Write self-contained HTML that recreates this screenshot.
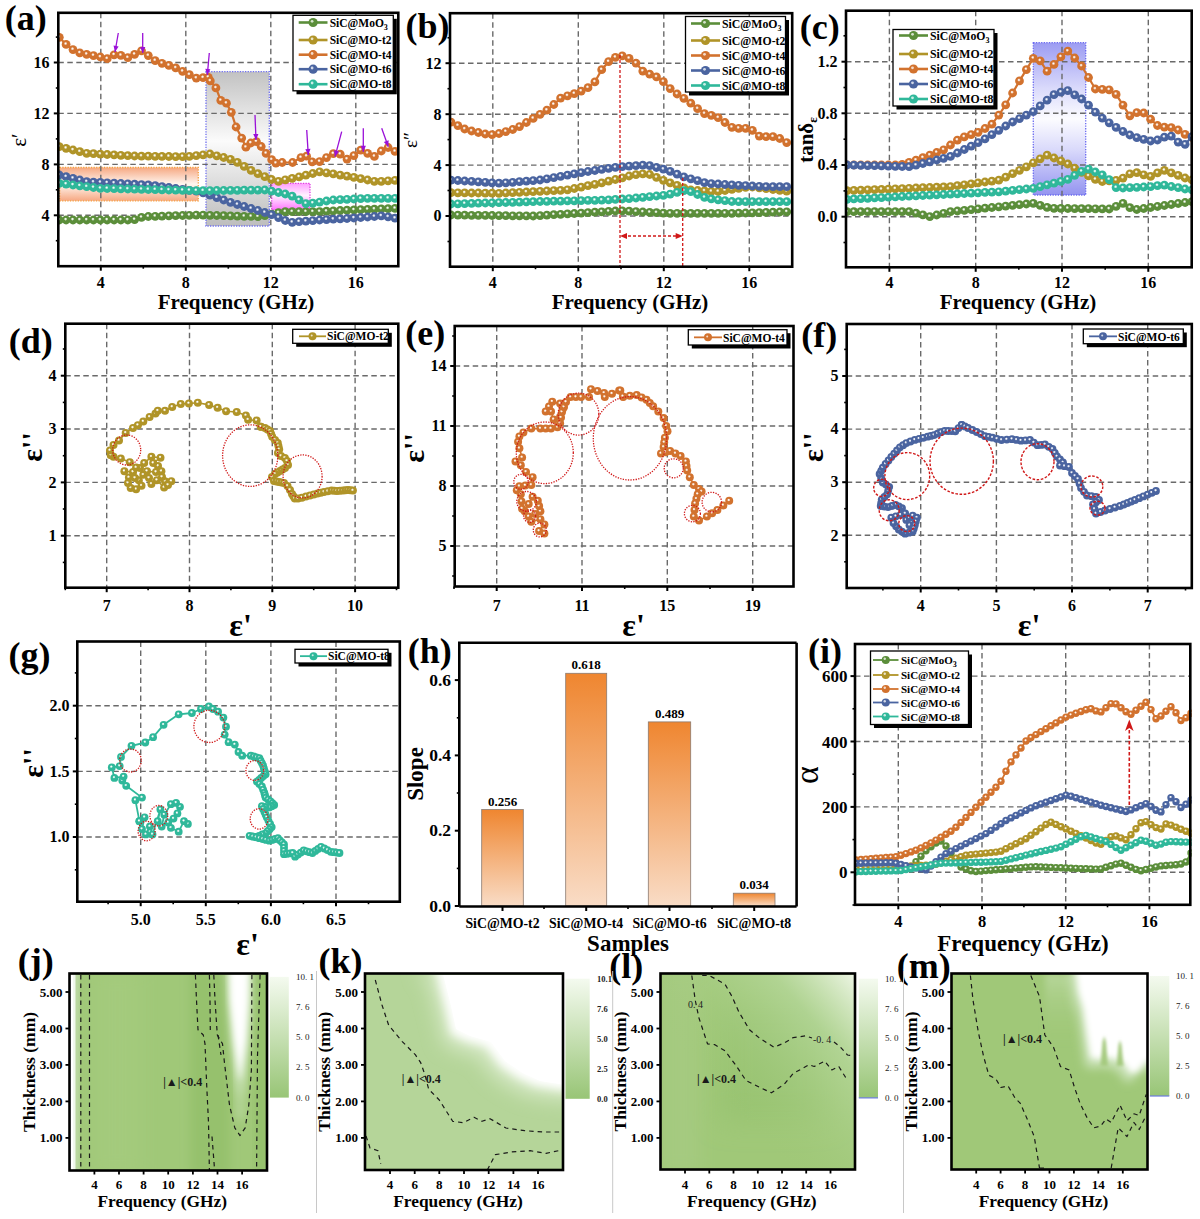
<!DOCTYPE html>
<html><head><meta charset="utf-8"><style>
html,body{margin:0;padding:0;background:#fff;}
svg{display:block;}
</style></head><body>
<svg width="1200" height="1219" viewBox="0 0 1200 1219">
<defs><radialGradient id="mg_g" cx="0.44" cy="0.4" r="0.58"><stop offset="0" stop-color="#ffffff"/><stop offset="0.1" stop-color="#ffffff" stop-opacity="0.85"/><stop offset="0.34" stop-color="#5b8e3a"/><stop offset="1" stop-color="#5b8e3a"/></radialGradient><radialGradient id="mg_y" cx="0.44" cy="0.4" r="0.58"><stop offset="0" stop-color="#ffffff"/><stop offset="0.1" stop-color="#ffffff" stop-opacity="0.85"/><stop offset="0.34" stop-color="#b09428"/><stop offset="1" stop-color="#b09428"/></radialGradient><radialGradient id="mg_o" cx="0.44" cy="0.4" r="0.58"><stop offset="0" stop-color="#ffffff"/><stop offset="0.1" stop-color="#ffffff" stop-opacity="0.85"/><stop offset="0.34" stop-color="#d2722e"/><stop offset="1" stop-color="#d2722e"/></radialGradient><radialGradient id="mg_b" cx="0.44" cy="0.4" r="0.58"><stop offset="0" stop-color="#ffffff"/><stop offset="0.1" stop-color="#ffffff" stop-opacity="0.85"/><stop offset="0.34" stop-color="#4a64a0"/><stop offset="1" stop-color="#4a64a0"/></radialGradient><radialGradient id="mg_t" cx="0.44" cy="0.4" r="0.58"><stop offset="0" stop-color="#ffffff"/><stop offset="0.1" stop-color="#ffffff" stop-opacity="0.85"/><stop offset="0.34" stop-color="#2fb89a"/><stop offset="1" stop-color="#2fb89a"/></radialGradient></defs>
<rect width="1200" height="1219" fill="#fff"/>
<defs>
<linearGradient id="gOrange" x1="0" y1="0" x2="0" y2="1"><stop offset="0" stop-color="#f6a882"/><stop offset="0.5" stop-color="#fff6f0"/><stop offset="1" stop-color="#f6a882"/></linearGradient>
<linearGradient id="gGray" x1="0" y1="0" x2="0" y2="1"><stop offset="0" stop-color="#c2c2c2"/><stop offset="0.45" stop-color="#fbfbfb"/><stop offset="1" stop-color="#bdbdbd"/></linearGradient>
<linearGradient id="gPink" x1="0" y1="0" x2="0" y2="1"><stop offset="0" stop-color="#ff9cff"/><stop offset="0.45" stop-color="#fff2ff"/><stop offset="1" stop-color="#ff74ff"/></linearGradient>
<linearGradient id="gBlue" x1="0" y1="0" x2="0" y2="1"><stop offset="0" stop-color="#9c9cf2"/><stop offset="0.3" stop-color="#dadafb"/><stop offset="0.5" stop-color="#fcfcff"/><stop offset="0.7" stop-color="#dadafb"/><stop offset="1" stop-color="#9494f0"/></linearGradient>
<linearGradient id="gBar" x1="0" y1="0" x2="0" y2="1"><stop offset="0" stop-color="#ef8630"/><stop offset="1" stop-color="#f9dcc6"/></linearGradient>
<linearGradient id="gCbar" x1="0" y1="0" x2="0" y2="1"><stop offset="0" stop-color="#f4faef"/><stop offset="1" stop-color="#98c576"/></linearGradient>
<clipPath id="cpA"><rect x="58.5" y="13" width="340" height="253"/></clipPath>
<clipPath id="cpB"><rect x="450" y="14" width="341" height="252.5"/></clipPath>
<clipPath id="cpC"><rect x="846" y="10.7" width="345.7" height="256"/></clipPath>
<clipPath id="cpI"><rect x="855" y="644" width="336.7" height="261"/></clipPath>
</defs>
<rect x="59.7" y="167.5" width="138.6" height="33.3" fill="url(#gOrange)" stroke="#f5a040" stroke-width="1.3" stroke-dasharray="1.3,1.3"/>
<rect x="206" y="71.7" width="63.3" height="154.3" fill="url(#gGray)" stroke="#7070f0" stroke-width="1.3" stroke-dasharray="1.3,1.3"/>
<rect x="271.7" y="183.3" width="38.3" height="26.7" fill="url(#gPink)" stroke="#e040e0" stroke-width="1.3" stroke-dasharray="1.3,1.3"/>
<line x1="100.8" y1="12.8" x2="100.8" y2="266.2" stroke="#6a6a6a" stroke-width="1.4" stroke-dasharray="5.5,3.5"/>
<line x1="185.8" y1="12.8" x2="185.8" y2="266.2" stroke="#6a6a6a" stroke-width="1.4" stroke-dasharray="5.5,3.5"/>
<line x1="270.8" y1="12.8" x2="270.8" y2="266.2" stroke="#6a6a6a" stroke-width="1.4" stroke-dasharray="5.5,3.5"/>
<line x1="355.8" y1="12.8" x2="355.8" y2="266.2" stroke="#6a6a6a" stroke-width="1.4" stroke-dasharray="5.5,3.5"/>
<line x1="58.3" y1="215.3" x2="398.3" y2="215.3" stroke="#6a6a6a" stroke-width="1.4" stroke-dasharray="5.5,3.5"/>
<line x1="58.3" y1="164.4" x2="398.3" y2="164.4" stroke="#6a6a6a" stroke-width="1.4" stroke-dasharray="5.5,3.5"/>
<line x1="58.3" y1="113.4" x2="398.3" y2="113.4" stroke="#6a6a6a" stroke-width="1.4" stroke-dasharray="5.5,3.5"/>
<line x1="58.3" y1="62.5" x2="398.3" y2="62.5" stroke="#6a6a6a" stroke-width="1.4" stroke-dasharray="5.5,3.5"/>
<g clip-path="url(#cpA)">
<path d="M59.3,220.0 L66.1,220.0 L73.0,220.0 L79.8,220.0 L86.7,220.0 L93.5,220.0 L100.4,220.0 L107.2,220.0 L114.1,220.0 L120.9,220.0 L127.8,220.0 L134.6,219.6 L141.5,217.3 L148.3,216.5 L155.2,216.3 L162.0,216.1 L168.9,215.9 L175.7,215.7 L182.6,215.5 L189.4,215.3 L196.3,215.1 L203.1,215.1 L210.0,215.3 L216.8,215.5 L223.7,215.7 L230.5,215.9 L237.4,216.1 L244.2,216.3 L251.1,216.4 L257.9,216.6 L264.8,215.7 L271.6,214.2 L278.5,212.7 L285.3,211.7 L292.2,211.7 L299.1,211.7 L305.9,211.7 L312.8,211.7 L319.6,211.6 L326.5,211.2 L333.3,210.9 L340.2,210.5 L347.0,210.2 L353.9,209.9 L360.7,209.6 L367.6,209.4 L374.4,209.1 L381.3,208.9 L388.1,208.7 L395.0,208.4" fill="none" stroke="#5b8e3a" stroke-width="2.2"/>
<circle cx="59.3" cy="220.0" r="4.4" fill="url(#mg_g)"/>
<circle cx="66.1" cy="220.0" r="4.4" fill="url(#mg_g)"/>
<circle cx="73.0" cy="220.0" r="4.4" fill="url(#mg_g)"/>
<circle cx="79.8" cy="220.0" r="4.4" fill="url(#mg_g)"/>
<circle cx="86.7" cy="220.0" r="4.4" fill="url(#mg_g)"/>
<circle cx="93.5" cy="220.0" r="4.4" fill="url(#mg_g)"/>
<circle cx="100.4" cy="220.0" r="4.4" fill="url(#mg_g)"/>
<circle cx="107.2" cy="220.0" r="4.4" fill="url(#mg_g)"/>
<circle cx="114.1" cy="220.0" r="4.4" fill="url(#mg_g)"/>
<circle cx="120.9" cy="220.0" r="4.4" fill="url(#mg_g)"/>
<circle cx="127.8" cy="220.0" r="4.4" fill="url(#mg_g)"/>
<circle cx="134.6" cy="219.6" r="4.4" fill="url(#mg_g)"/>
<circle cx="141.5" cy="217.3" r="4.4" fill="url(#mg_g)"/>
<circle cx="148.3" cy="216.5" r="4.4" fill="url(#mg_g)"/>
<circle cx="155.2" cy="216.3" r="4.4" fill="url(#mg_g)"/>
<circle cx="162.0" cy="216.1" r="4.4" fill="url(#mg_g)"/>
<circle cx="168.9" cy="215.9" r="4.4" fill="url(#mg_g)"/>
<circle cx="175.7" cy="215.7" r="4.4" fill="url(#mg_g)"/>
<circle cx="182.6" cy="215.5" r="4.4" fill="url(#mg_g)"/>
<circle cx="189.4" cy="215.3" r="4.4" fill="url(#mg_g)"/>
<circle cx="196.3" cy="215.1" r="4.4" fill="url(#mg_g)"/>
<circle cx="203.1" cy="215.1" r="4.4" fill="url(#mg_g)"/>
<circle cx="210.0" cy="215.3" r="4.4" fill="url(#mg_g)"/>
<circle cx="216.8" cy="215.5" r="4.4" fill="url(#mg_g)"/>
<circle cx="223.7" cy="215.7" r="4.4" fill="url(#mg_g)"/>
<circle cx="230.5" cy="215.9" r="4.4" fill="url(#mg_g)"/>
<circle cx="237.4" cy="216.1" r="4.4" fill="url(#mg_g)"/>
<circle cx="244.2" cy="216.3" r="4.4" fill="url(#mg_g)"/>
<circle cx="251.1" cy="216.4" r="4.4" fill="url(#mg_g)"/>
<circle cx="257.9" cy="216.6" r="4.4" fill="url(#mg_g)"/>
<circle cx="264.8" cy="215.7" r="4.4" fill="url(#mg_g)"/>
<circle cx="271.6" cy="214.2" r="4.4" fill="url(#mg_g)"/>
<circle cx="278.5" cy="212.7" r="4.4" fill="url(#mg_g)"/>
<circle cx="285.3" cy="211.7" r="4.4" fill="url(#mg_g)"/>
<circle cx="292.2" cy="211.7" r="4.4" fill="url(#mg_g)"/>
<circle cx="299.1" cy="211.7" r="4.4" fill="url(#mg_g)"/>
<circle cx="305.9" cy="211.7" r="4.4" fill="url(#mg_g)"/>
<circle cx="312.8" cy="211.7" r="4.4" fill="url(#mg_g)"/>
<circle cx="319.6" cy="211.6" r="4.4" fill="url(#mg_g)"/>
<circle cx="326.5" cy="211.2" r="4.4" fill="url(#mg_g)"/>
<circle cx="333.3" cy="210.9" r="4.4" fill="url(#mg_g)"/>
<circle cx="340.2" cy="210.5" r="4.4" fill="url(#mg_g)"/>
<circle cx="347.0" cy="210.2" r="4.4" fill="url(#mg_g)"/>
<circle cx="353.9" cy="209.9" r="4.4" fill="url(#mg_g)"/>
<circle cx="360.7" cy="209.6" r="4.4" fill="url(#mg_g)"/>
<circle cx="367.6" cy="209.4" r="4.4" fill="url(#mg_g)"/>
<circle cx="374.4" cy="209.1" r="4.4" fill="url(#mg_g)"/>
<circle cx="381.3" cy="208.9" r="4.4" fill="url(#mg_g)"/>
<circle cx="388.1" cy="208.7" r="4.4" fill="url(#mg_g)"/>
<circle cx="395.0" cy="208.4" r="4.4" fill="url(#mg_g)"/>
</g>
<g clip-path="url(#cpA)">
<path d="M59.3,146.7 L66.1,148.3 L73.0,150.0 L79.8,151.7 L86.7,153.3 L93.5,153.7 L100.4,154.1 L107.2,154.5 L114.1,154.9 L120.9,155.3 L127.8,155.7 L134.6,156.0 L141.5,156.1 L148.3,156.2 L155.2,156.3 L162.0,156.4 L168.9,156.5 L175.7,156.6 L182.6,156.6 L189.4,156.4 L196.3,155.6 L203.1,154.8 L210.0,154.0 L216.8,155.8 L223.7,157.5 L230.5,159.3 L237.4,162.4 L244.2,166.4 L251.1,170.4 L257.9,173.7 L264.8,176.6 L271.6,179.5 L278.5,181.3 L285.3,179.8 L292.2,178.4 L299.1,176.9 L305.9,175.2 L312.8,173.5 L319.6,171.8 L326.5,172.8 L333.3,173.9 L340.2,175.1 L347.0,176.2 L353.9,177.4 L360.7,178.7 L367.6,180.0 L374.4,181.3 L381.3,181.3 L388.1,180.8 L395.0,180.3" fill="none" stroke="#b09428" stroke-width="2.2"/>
<circle cx="59.3" cy="146.7" r="4.4" fill="url(#mg_y)"/>
<circle cx="66.1" cy="148.3" r="4.4" fill="url(#mg_y)"/>
<circle cx="73.0" cy="150.0" r="4.4" fill="url(#mg_y)"/>
<circle cx="79.8" cy="151.7" r="4.4" fill="url(#mg_y)"/>
<circle cx="86.7" cy="153.3" r="4.4" fill="url(#mg_y)"/>
<circle cx="93.5" cy="153.7" r="4.4" fill="url(#mg_y)"/>
<circle cx="100.4" cy="154.1" r="4.4" fill="url(#mg_y)"/>
<circle cx="107.2" cy="154.5" r="4.4" fill="url(#mg_y)"/>
<circle cx="114.1" cy="154.9" r="4.4" fill="url(#mg_y)"/>
<circle cx="120.9" cy="155.3" r="4.4" fill="url(#mg_y)"/>
<circle cx="127.8" cy="155.7" r="4.4" fill="url(#mg_y)"/>
<circle cx="134.6" cy="156.0" r="4.4" fill="url(#mg_y)"/>
<circle cx="141.5" cy="156.1" r="4.4" fill="url(#mg_y)"/>
<circle cx="148.3" cy="156.2" r="4.4" fill="url(#mg_y)"/>
<circle cx="155.2" cy="156.3" r="4.4" fill="url(#mg_y)"/>
<circle cx="162.0" cy="156.4" r="4.4" fill="url(#mg_y)"/>
<circle cx="168.9" cy="156.5" r="4.4" fill="url(#mg_y)"/>
<circle cx="175.7" cy="156.6" r="4.4" fill="url(#mg_y)"/>
<circle cx="182.6" cy="156.6" r="4.4" fill="url(#mg_y)"/>
<circle cx="189.4" cy="156.4" r="4.4" fill="url(#mg_y)"/>
<circle cx="196.3" cy="155.6" r="4.4" fill="url(#mg_y)"/>
<circle cx="203.1" cy="154.8" r="4.4" fill="url(#mg_y)"/>
<circle cx="210.0" cy="154.0" r="4.4" fill="url(#mg_y)"/>
<circle cx="216.8" cy="155.8" r="4.4" fill="url(#mg_y)"/>
<circle cx="223.7" cy="157.5" r="4.4" fill="url(#mg_y)"/>
<circle cx="230.5" cy="159.3" r="4.4" fill="url(#mg_y)"/>
<circle cx="237.4" cy="162.4" r="4.4" fill="url(#mg_y)"/>
<circle cx="244.2" cy="166.4" r="4.4" fill="url(#mg_y)"/>
<circle cx="251.1" cy="170.4" r="4.4" fill="url(#mg_y)"/>
<circle cx="257.9" cy="173.7" r="4.4" fill="url(#mg_y)"/>
<circle cx="264.8" cy="176.6" r="4.4" fill="url(#mg_y)"/>
<circle cx="271.6" cy="179.5" r="4.4" fill="url(#mg_y)"/>
<circle cx="278.5" cy="181.3" r="4.4" fill="url(#mg_y)"/>
<circle cx="285.3" cy="179.8" r="4.4" fill="url(#mg_y)"/>
<circle cx="292.2" cy="178.4" r="4.4" fill="url(#mg_y)"/>
<circle cx="299.1" cy="176.9" r="4.4" fill="url(#mg_y)"/>
<circle cx="305.9" cy="175.2" r="4.4" fill="url(#mg_y)"/>
<circle cx="312.8" cy="173.5" r="4.4" fill="url(#mg_y)"/>
<circle cx="319.6" cy="171.8" r="4.4" fill="url(#mg_y)"/>
<circle cx="326.5" cy="172.8" r="4.4" fill="url(#mg_y)"/>
<circle cx="333.3" cy="173.9" r="4.4" fill="url(#mg_y)"/>
<circle cx="340.2" cy="175.1" r="4.4" fill="url(#mg_y)"/>
<circle cx="347.0" cy="176.2" r="4.4" fill="url(#mg_y)"/>
<circle cx="353.9" cy="177.4" r="4.4" fill="url(#mg_y)"/>
<circle cx="360.7" cy="178.7" r="4.4" fill="url(#mg_y)"/>
<circle cx="367.6" cy="180.0" r="4.4" fill="url(#mg_y)"/>
<circle cx="374.4" cy="181.3" r="4.4" fill="url(#mg_y)"/>
<circle cx="381.3" cy="181.3" r="4.4" fill="url(#mg_y)"/>
<circle cx="388.1" cy="180.8" r="4.4" fill="url(#mg_y)"/>
<circle cx="395.0" cy="180.3" r="4.4" fill="url(#mg_y)"/>
</g>
<g clip-path="url(#cpA)">
<path d="M59.3,37.3 L66.1,44.4 L73.0,49.6 L79.8,52.9 L86.7,54.3 L93.5,55.6 L100.4,57.0 L107.2,58.7 L114.1,54.8 L120.9,55.4 L127.8,57.7 L134.6,54.3 L141.5,50.8 L148.3,55.6 L155.2,60.6 L162.0,63.3 L168.9,65.4 L175.7,67.9 L182.6,71.3 L189.4,74.7 L196.3,78.1 L203.1,77.7 L208.3,77.3 L210.3,80.9 L215.9,87.9 L220.8,100.4 L226.4,103.2 L231.3,112.3 L236.1,127.0 L241.7,138.1 L245.9,147.2 L250.8,143.0 L256.4,141.6 L261.2,146.5 L266.1,153.4 L271.7,159.7 L275.9,163.2 L282.2,162.5 L292.6,162.5 L301.0,157.6 L306.6,156.2 L312.2,161.8 L319.6,161.6 L326.5,157.6 L333.3,153.7 L340.2,154.2 L347.0,159.1 L353.9,155.6 L360.7,150.1 L367.6,153.3 L374.4,156.4 L381.3,151.0 L388.1,147.5 L395.0,151.4" fill="none" stroke="#d2722e" stroke-width="2.2"/>
<circle cx="59.3" cy="37.3" r="4.4" fill="url(#mg_o)"/>
<circle cx="66.1" cy="44.4" r="4.4" fill="url(#mg_o)"/>
<circle cx="73.0" cy="49.6" r="4.4" fill="url(#mg_o)"/>
<circle cx="79.8" cy="52.9" r="4.4" fill="url(#mg_o)"/>
<circle cx="86.7" cy="54.3" r="4.4" fill="url(#mg_o)"/>
<circle cx="93.5" cy="55.6" r="4.4" fill="url(#mg_o)"/>
<circle cx="100.4" cy="57.0" r="4.4" fill="url(#mg_o)"/>
<circle cx="107.2" cy="58.7" r="4.4" fill="url(#mg_o)"/>
<circle cx="114.1" cy="54.8" r="4.4" fill="url(#mg_o)"/>
<circle cx="120.9" cy="55.4" r="4.4" fill="url(#mg_o)"/>
<circle cx="127.8" cy="57.7" r="4.4" fill="url(#mg_o)"/>
<circle cx="134.6" cy="54.3" r="4.4" fill="url(#mg_o)"/>
<circle cx="141.5" cy="50.8" r="4.4" fill="url(#mg_o)"/>
<circle cx="148.3" cy="55.6" r="4.4" fill="url(#mg_o)"/>
<circle cx="155.2" cy="60.6" r="4.4" fill="url(#mg_o)"/>
<circle cx="162.0" cy="63.3" r="4.4" fill="url(#mg_o)"/>
<circle cx="168.9" cy="65.4" r="4.4" fill="url(#mg_o)"/>
<circle cx="175.7" cy="67.9" r="4.4" fill="url(#mg_o)"/>
<circle cx="182.6" cy="71.3" r="4.4" fill="url(#mg_o)"/>
<circle cx="189.4" cy="74.7" r="4.4" fill="url(#mg_o)"/>
<circle cx="196.3" cy="78.1" r="4.4" fill="url(#mg_o)"/>
<circle cx="203.1" cy="77.7" r="4.4" fill="url(#mg_o)"/>
<circle cx="208.3" cy="77.3" r="4.4" fill="url(#mg_o)"/>
<circle cx="210.3" cy="80.9" r="4.4" fill="url(#mg_o)"/>
<circle cx="215.9" cy="87.9" r="4.4" fill="url(#mg_o)"/>
<circle cx="220.8" cy="100.4" r="4.4" fill="url(#mg_o)"/>
<circle cx="226.4" cy="103.2" r="4.4" fill="url(#mg_o)"/>
<circle cx="231.3" cy="112.3" r="4.4" fill="url(#mg_o)"/>
<circle cx="236.1" cy="127.0" r="4.4" fill="url(#mg_o)"/>
<circle cx="241.7" cy="138.1" r="4.4" fill="url(#mg_o)"/>
<circle cx="245.9" cy="147.2" r="4.4" fill="url(#mg_o)"/>
<circle cx="250.8" cy="143.0" r="4.4" fill="url(#mg_o)"/>
<circle cx="256.4" cy="141.6" r="4.4" fill="url(#mg_o)"/>
<circle cx="261.2" cy="146.5" r="4.4" fill="url(#mg_o)"/>
<circle cx="266.1" cy="153.4" r="4.4" fill="url(#mg_o)"/>
<circle cx="271.7" cy="159.7" r="4.4" fill="url(#mg_o)"/>
<circle cx="275.9" cy="163.2" r="4.4" fill="url(#mg_o)"/>
<circle cx="282.2" cy="162.5" r="4.4" fill="url(#mg_o)"/>
<circle cx="292.6" cy="162.5" r="4.4" fill="url(#mg_o)"/>
<circle cx="301.0" cy="157.6" r="4.4" fill="url(#mg_o)"/>
<circle cx="306.6" cy="156.2" r="4.4" fill="url(#mg_o)"/>
<circle cx="312.2" cy="161.8" r="4.4" fill="url(#mg_o)"/>
<circle cx="319.6" cy="161.6" r="4.4" fill="url(#mg_o)"/>
<circle cx="326.5" cy="157.6" r="4.4" fill="url(#mg_o)"/>
<circle cx="333.3" cy="153.7" r="4.4" fill="url(#mg_o)"/>
<circle cx="340.2" cy="154.2" r="4.4" fill="url(#mg_o)"/>
<circle cx="347.0" cy="159.1" r="4.4" fill="url(#mg_o)"/>
<circle cx="353.9" cy="155.6" r="4.4" fill="url(#mg_o)"/>
<circle cx="360.7" cy="150.1" r="4.4" fill="url(#mg_o)"/>
<circle cx="367.6" cy="153.3" r="4.4" fill="url(#mg_o)"/>
<circle cx="374.4" cy="156.4" r="4.4" fill="url(#mg_o)"/>
<circle cx="381.3" cy="151.0" r="4.4" fill="url(#mg_o)"/>
<circle cx="388.1" cy="147.5" r="4.4" fill="url(#mg_o)"/>
<circle cx="395.0" cy="151.4" r="4.4" fill="url(#mg_o)"/>
</g>
<g clip-path="url(#cpA)">
<path d="M59.3,175.0 L66.1,176.7 L73.0,178.3 L79.8,180.0 L86.7,181.7 L93.5,182.1 L100.4,182.4 L107.2,182.8 L114.1,183.1 L120.9,183.5 L127.8,183.8 L134.6,184.2 L141.5,184.6 L148.3,184.9 L155.2,185.7 L162.0,186.6 L168.9,187.5 L175.7,188.5 L182.6,189.4 L189.4,190.3 L196.3,191.2 L203.1,192.8 L210.0,195.2 L216.8,197.6 L223.7,200.0 L230.5,202.3 L237.4,204.5 L244.2,206.5 L251.1,208.5 L257.9,210.5 L264.8,212.5 L271.6,214.7 L278.5,217.6 L285.3,220.5 L292.2,222.3 L299.1,221.7 L305.9,221.2 L312.8,220.6 L319.6,220.0 L326.5,219.6 L333.3,219.2 L340.2,218.9 L347.0,218.5 L353.9,218.0 L360.7,217.5 L367.6,217.0 L374.4,216.5 L381.3,215.9 L388.1,216.8 L395.0,218.2" fill="none" stroke="#4a64a0" stroke-width="2.2"/>
<circle cx="59.3" cy="175.0" r="4.4" fill="url(#mg_b)"/>
<circle cx="66.1" cy="176.7" r="4.4" fill="url(#mg_b)"/>
<circle cx="73.0" cy="178.3" r="4.4" fill="url(#mg_b)"/>
<circle cx="79.8" cy="180.0" r="4.4" fill="url(#mg_b)"/>
<circle cx="86.7" cy="181.7" r="4.4" fill="url(#mg_b)"/>
<circle cx="93.5" cy="182.1" r="4.4" fill="url(#mg_b)"/>
<circle cx="100.4" cy="182.4" r="4.4" fill="url(#mg_b)"/>
<circle cx="107.2" cy="182.8" r="4.4" fill="url(#mg_b)"/>
<circle cx="114.1" cy="183.1" r="4.4" fill="url(#mg_b)"/>
<circle cx="120.9" cy="183.5" r="4.4" fill="url(#mg_b)"/>
<circle cx="127.8" cy="183.8" r="4.4" fill="url(#mg_b)"/>
<circle cx="134.6" cy="184.2" r="4.4" fill="url(#mg_b)"/>
<circle cx="141.5" cy="184.6" r="4.4" fill="url(#mg_b)"/>
<circle cx="148.3" cy="184.9" r="4.4" fill="url(#mg_b)"/>
<circle cx="155.2" cy="185.7" r="4.4" fill="url(#mg_b)"/>
<circle cx="162.0" cy="186.6" r="4.4" fill="url(#mg_b)"/>
<circle cx="168.9" cy="187.5" r="4.4" fill="url(#mg_b)"/>
<circle cx="175.7" cy="188.5" r="4.4" fill="url(#mg_b)"/>
<circle cx="182.6" cy="189.4" r="4.4" fill="url(#mg_b)"/>
<circle cx="189.4" cy="190.3" r="4.4" fill="url(#mg_b)"/>
<circle cx="196.3" cy="191.2" r="4.4" fill="url(#mg_b)"/>
<circle cx="203.1" cy="192.8" r="4.4" fill="url(#mg_b)"/>
<circle cx="210.0" cy="195.2" r="4.4" fill="url(#mg_b)"/>
<circle cx="216.8" cy="197.6" r="4.4" fill="url(#mg_b)"/>
<circle cx="223.7" cy="200.0" r="4.4" fill="url(#mg_b)"/>
<circle cx="230.5" cy="202.3" r="4.4" fill="url(#mg_b)"/>
<circle cx="237.4" cy="204.5" r="4.4" fill="url(#mg_b)"/>
<circle cx="244.2" cy="206.5" r="4.4" fill="url(#mg_b)"/>
<circle cx="251.1" cy="208.5" r="4.4" fill="url(#mg_b)"/>
<circle cx="257.9" cy="210.5" r="4.4" fill="url(#mg_b)"/>
<circle cx="264.8" cy="212.5" r="4.4" fill="url(#mg_b)"/>
<circle cx="271.6" cy="214.7" r="4.4" fill="url(#mg_b)"/>
<circle cx="278.5" cy="217.6" r="4.4" fill="url(#mg_b)"/>
<circle cx="285.3" cy="220.5" r="4.4" fill="url(#mg_b)"/>
<circle cx="292.2" cy="222.3" r="4.4" fill="url(#mg_b)"/>
<circle cx="299.1" cy="221.7" r="4.4" fill="url(#mg_b)"/>
<circle cx="305.9" cy="221.2" r="4.4" fill="url(#mg_b)"/>
<circle cx="312.8" cy="220.6" r="4.4" fill="url(#mg_b)"/>
<circle cx="319.6" cy="220.0" r="4.4" fill="url(#mg_b)"/>
<circle cx="326.5" cy="219.6" r="4.4" fill="url(#mg_b)"/>
<circle cx="333.3" cy="219.2" r="4.4" fill="url(#mg_b)"/>
<circle cx="340.2" cy="218.9" r="4.4" fill="url(#mg_b)"/>
<circle cx="347.0" cy="218.5" r="4.4" fill="url(#mg_b)"/>
<circle cx="353.9" cy="218.0" r="4.4" fill="url(#mg_b)"/>
<circle cx="360.7" cy="217.5" r="4.4" fill="url(#mg_b)"/>
<circle cx="367.6" cy="217.0" r="4.4" fill="url(#mg_b)"/>
<circle cx="374.4" cy="216.5" r="4.4" fill="url(#mg_b)"/>
<circle cx="381.3" cy="215.9" r="4.4" fill="url(#mg_b)"/>
<circle cx="388.1" cy="216.8" r="4.4" fill="url(#mg_b)"/>
<circle cx="395.0" cy="218.2" r="4.4" fill="url(#mg_b)"/>
</g>
<g clip-path="url(#cpA)">
<path d="M59.3,183.3 L66.1,184.1 L73.0,185.0 L79.8,185.8 L86.7,186.7 L93.5,187.5 L100.4,188.3 L107.2,188.5 L114.1,188.6 L120.9,188.8 L127.8,189.0 L134.6,189.1 L141.5,189.3 L148.3,189.5 L155.2,189.6 L162.0,189.8 L168.9,190.0 L175.7,190.1 L182.6,190.3 L189.4,190.4 L196.3,190.6 L203.1,190.7 L210.0,190.6 L216.8,190.5 L223.7,190.5 L230.5,190.4 L237.4,190.3 L244.2,190.2 L251.1,190.2 L257.9,190.1 L264.8,190.0 L271.6,191.1 L278.5,192.5 L285.3,194.0 L292.2,196.2 L299.1,199.9 L305.9,203.6 L312.8,203.1 L319.6,202.1 L326.5,201.0 L333.3,200.0 L340.2,199.7 L347.0,199.3 L353.9,199.0 L360.7,198.6 L367.6,198.3 L374.4,198.3 L381.3,198.3 L388.1,198.3 L395.0,198.3" fill="none" stroke="#2fb89a" stroke-width="2.2"/>
<circle cx="59.3" cy="183.3" r="4.4" fill="url(#mg_t)"/>
<circle cx="66.1" cy="184.1" r="4.4" fill="url(#mg_t)"/>
<circle cx="73.0" cy="185.0" r="4.4" fill="url(#mg_t)"/>
<circle cx="79.8" cy="185.8" r="4.4" fill="url(#mg_t)"/>
<circle cx="86.7" cy="186.7" r="4.4" fill="url(#mg_t)"/>
<circle cx="93.5" cy="187.5" r="4.4" fill="url(#mg_t)"/>
<circle cx="100.4" cy="188.3" r="4.4" fill="url(#mg_t)"/>
<circle cx="107.2" cy="188.5" r="4.4" fill="url(#mg_t)"/>
<circle cx="114.1" cy="188.6" r="4.4" fill="url(#mg_t)"/>
<circle cx="120.9" cy="188.8" r="4.4" fill="url(#mg_t)"/>
<circle cx="127.8" cy="189.0" r="4.4" fill="url(#mg_t)"/>
<circle cx="134.6" cy="189.1" r="4.4" fill="url(#mg_t)"/>
<circle cx="141.5" cy="189.3" r="4.4" fill="url(#mg_t)"/>
<circle cx="148.3" cy="189.5" r="4.4" fill="url(#mg_t)"/>
<circle cx="155.2" cy="189.6" r="4.4" fill="url(#mg_t)"/>
<circle cx="162.0" cy="189.8" r="4.4" fill="url(#mg_t)"/>
<circle cx="168.9" cy="190.0" r="4.4" fill="url(#mg_t)"/>
<circle cx="175.7" cy="190.1" r="4.4" fill="url(#mg_t)"/>
<circle cx="182.6" cy="190.3" r="4.4" fill="url(#mg_t)"/>
<circle cx="189.4" cy="190.4" r="4.4" fill="url(#mg_t)"/>
<circle cx="196.3" cy="190.6" r="4.4" fill="url(#mg_t)"/>
<circle cx="203.1" cy="190.7" r="4.4" fill="url(#mg_t)"/>
<circle cx="210.0" cy="190.6" r="4.4" fill="url(#mg_t)"/>
<circle cx="216.8" cy="190.5" r="4.4" fill="url(#mg_t)"/>
<circle cx="223.7" cy="190.5" r="4.4" fill="url(#mg_t)"/>
<circle cx="230.5" cy="190.4" r="4.4" fill="url(#mg_t)"/>
<circle cx="237.4" cy="190.3" r="4.4" fill="url(#mg_t)"/>
<circle cx="244.2" cy="190.2" r="4.4" fill="url(#mg_t)"/>
<circle cx="251.1" cy="190.2" r="4.4" fill="url(#mg_t)"/>
<circle cx="257.9" cy="190.1" r="4.4" fill="url(#mg_t)"/>
<circle cx="264.8" cy="190.0" r="4.4" fill="url(#mg_t)"/>
<circle cx="271.6" cy="191.1" r="4.4" fill="url(#mg_t)"/>
<circle cx="278.5" cy="192.5" r="4.4" fill="url(#mg_t)"/>
<circle cx="285.3" cy="194.0" r="4.4" fill="url(#mg_t)"/>
<circle cx="292.2" cy="196.2" r="4.4" fill="url(#mg_t)"/>
<circle cx="299.1" cy="199.9" r="4.4" fill="url(#mg_t)"/>
<circle cx="305.9" cy="203.6" r="4.4" fill="url(#mg_t)"/>
<circle cx="312.8" cy="203.1" r="4.4" fill="url(#mg_t)"/>
<circle cx="319.6" cy="202.1" r="4.4" fill="url(#mg_t)"/>
<circle cx="326.5" cy="201.0" r="4.4" fill="url(#mg_t)"/>
<circle cx="333.3" cy="200.0" r="4.4" fill="url(#mg_t)"/>
<circle cx="340.2" cy="199.7" r="4.4" fill="url(#mg_t)"/>
<circle cx="347.0" cy="199.3" r="4.4" fill="url(#mg_t)"/>
<circle cx="353.9" cy="199.0" r="4.4" fill="url(#mg_t)"/>
<circle cx="360.7" cy="198.6" r="4.4" fill="url(#mg_t)"/>
<circle cx="367.6" cy="198.3" r="4.4" fill="url(#mg_t)"/>
<circle cx="374.4" cy="198.3" r="4.4" fill="url(#mg_t)"/>
<circle cx="381.3" cy="198.3" r="4.4" fill="url(#mg_t)"/>
<circle cx="388.1" cy="198.3" r="4.4" fill="url(#mg_t)"/>
<circle cx="395.0" cy="198.3" r="4.4" fill="url(#mg_t)"/>
</g>
<line x1="118.3" y1="33" x2="115" y2="52" stroke="#9a10d8" stroke-width="1.3"/>
<polygon points="115.0,52.0 118.6,46.5 113.5,45.6" fill="#9a10d8"/>
<line x1="142.7" y1="33" x2="142.7" y2="53" stroke="#9a10d8" stroke-width="1.3"/>
<polygon points="142.7,53.0 145.3,47.0 140.1,47.0" fill="#9a10d8"/>
<line x1="209.3" y1="53" x2="207.3" y2="75" stroke="#9a10d8" stroke-width="1.3"/>
<polygon points="207.3,75.0 210.4,69.3 205.3,68.8" fill="#9a10d8"/>
<line x1="255" y1="115" x2="256" y2="140" stroke="#9a10d8" stroke-width="1.3"/>
<polygon points="256.0,140.0 258.4,133.9 253.2,134.1" fill="#9a10d8"/>
<line x1="306.7" y1="130" x2="308.3" y2="155" stroke="#9a10d8" stroke-width="1.3"/>
<polygon points="308.3,155.0 310.5,148.8 305.3,149.2" fill="#9a10d8"/>
<line x1="341.7" y1="131.7" x2="335" y2="156.7" stroke="#9a10d8" stroke-width="1.3"/>
<polygon points="335.0,156.7 339.1,151.6 334.0,150.2" fill="#9a10d8"/>
<line x1="363.3" y1="128.3" x2="363.3" y2="151.7" stroke="#9a10d8" stroke-width="1.3"/>
<polygon points="363.3,151.7 365.9,145.7 360.7,145.7" fill="#9a10d8"/>
<line x1="381.7" y1="128.3" x2="388.3" y2="146.7" stroke="#9a10d8" stroke-width="1.3"/>
<polygon points="388.3,146.7 388.7,140.2 383.8,141.9" fill="#9a10d8"/>
<rect x="58.3" y="12.8" width="340.0" height="253.39999999999998" fill="none" stroke="#000" stroke-width="2.6"/>
<line x1="100.8" y1="266.2" x2="100.8" y2="270.7" stroke="#000" stroke-width="2"/>
<text x="100.8" y="288.0" font-family='"Liberation Serif", serif' font-size="16" font-weight="bold" text-anchor="middle" fill="#000">4</text>
<line x1="185.8" y1="266.2" x2="185.8" y2="270.7" stroke="#000" stroke-width="2"/>
<text x="185.8" y="288.0" font-family='"Liberation Serif", serif' font-size="16" font-weight="bold" text-anchor="middle" fill="#000">8</text>
<line x1="270.8" y1="266.2" x2="270.8" y2="270.7" stroke="#000" stroke-width="2"/>
<text x="270.8" y="288.0" font-family='"Liberation Serif", serif' font-size="16" font-weight="bold" text-anchor="middle" fill="#000">12</text>
<line x1="355.8" y1="266.2" x2="355.8" y2="270.7" stroke="#000" stroke-width="2"/>
<text x="355.8" y="288.0" font-family='"Liberation Serif", serif' font-size="16" font-weight="bold" text-anchor="middle" fill="#000">16</text>
<line x1="143.3" y1="266.2" x2="143.3" y2="268.7" stroke="#000" stroke-width="1.6"/>
<line x1="228.3" y1="266.2" x2="228.3" y2="268.7" stroke="#000" stroke-width="1.6"/>
<line x1="313.3" y1="266.2" x2="313.3" y2="268.7" stroke="#000" stroke-width="1.6"/>
<line x1="53.8" y1="215.3" x2="58.3" y2="215.3" stroke="#000" stroke-width="2"/>
<text x="49.5" y="220.7" font-family='"Liberation Serif", serif' font-size="16" font-weight="bold" text-anchor="end" fill="#000">4</text>
<line x1="53.8" y1="164.4" x2="58.3" y2="164.4" stroke="#000" stroke-width="2"/>
<text x="49.5" y="169.8" font-family='"Liberation Serif", serif' font-size="16" font-weight="bold" text-anchor="end" fill="#000">8</text>
<line x1="53.8" y1="113.4" x2="58.3" y2="113.4" stroke="#000" stroke-width="2"/>
<text x="49.5" y="118.8" font-family='"Liberation Serif", serif' font-size="16" font-weight="bold" text-anchor="end" fill="#000">12</text>
<line x1="53.8" y1="62.5" x2="58.3" y2="62.5" stroke="#000" stroke-width="2"/>
<text x="49.5" y="67.9" font-family='"Liberation Serif", serif' font-size="16" font-weight="bold" text-anchor="end" fill="#000">16</text>
<line x1="55.8" y1="240.7" x2="58.3" y2="240.7" stroke="#000" stroke-width="1.6"/>
<line x1="55.8" y1="189.8" x2="58.3" y2="189.8" stroke="#000" stroke-width="1.6"/>
<line x1="55.8" y1="138.9" x2="58.3" y2="138.9" stroke="#000" stroke-width="1.6"/>
<line x1="55.8" y1="88.0" x2="58.3" y2="88.0" stroke="#000" stroke-width="1.6"/>
<line x1="55.8" y1="37.1" x2="58.3" y2="37.1" stroke="#000" stroke-width="1.6"/>
<text x="236.0" y="309.0" font-family='"Liberation Serif", serif' font-size="21" font-weight="bold" text-anchor="middle" fill="#000">Frequency (GHz)</text>
<text x="26.0" y="140.0" font-family='"Liberation Serif", serif' font-size="21" font-weight="normal" text-anchor="middle" fill="#000" transform="rotate(-90 26 140)">ε′</text>
<text x="25.8" y="30.0" font-family='"Liberation Serif", serif' font-size="36" font-weight="bold" text-anchor="middle" fill="#000">(a)</text>
<rect x="296.5" y="18.8" width="100.30000000000001" height="75.5" fill="#000"/>
<rect x="293" y="15.3" width="100.30000000000001" height="75.5" fill="#fff" stroke="#000" stroke-width="1.3"/>
<line x1="298.7" y1="22.5" x2="327.5" y2="22.5" stroke="#5b8e3a" stroke-width="2.6"/>
<circle cx="313.1" cy="22.5" r="4.6" fill="#5b8e3a"/>
<circle cx="312.1" cy="21.3" r="1.38" fill="#fff" fill-opacity="0.75"/>
<text x="329.7" y="26.6" font-family='"Liberation Serif", serif' font-size="11.5" font-weight="bold" text-anchor="start" fill="#000">SiC@MoO<tspan font-size="8" dy="3">3</tspan></text>
<line x1="298.7" y1="40" x2="327.5" y2="40" stroke="#b09428" stroke-width="2.6"/>
<circle cx="313.1" cy="40" r="4.6" fill="#b09428"/>
<circle cx="312.1" cy="38.8" r="1.38" fill="#fff" fill-opacity="0.75"/>
<text x="329.7" y="44.1" font-family='"Liberation Serif", serif' font-size="11.5" font-weight="bold" text-anchor="start" fill="#000">SiC@MO-t2</text>
<line x1="298.7" y1="54.7" x2="327.5" y2="54.7" stroke="#d2722e" stroke-width="2.6"/>
<circle cx="313.1" cy="54.7" r="4.6" fill="#d2722e"/>
<circle cx="312.1" cy="53.5" r="1.38" fill="#fff" fill-opacity="0.75"/>
<text x="329.7" y="58.8" font-family='"Liberation Serif", serif' font-size="11.5" font-weight="bold" text-anchor="start" fill="#000">SiC@MO-t4</text>
<line x1="298.7" y1="69.2" x2="327.5" y2="69.2" stroke="#4a64a0" stroke-width="2.6"/>
<circle cx="313.1" cy="69.2" r="4.6" fill="#4a64a0"/>
<circle cx="312.1" cy="68.0" r="1.38" fill="#fff" fill-opacity="0.75"/>
<text x="329.7" y="73.3" font-family='"Liberation Serif", serif' font-size="11.5" font-weight="bold" text-anchor="start" fill="#000">SiC@MO-t6</text>
<line x1="298.7" y1="84.2" x2="327.5" y2="84.2" stroke="#2fb89a" stroke-width="2.6"/>
<circle cx="313.1" cy="84.2" r="4.6" fill="#2fb89a"/>
<circle cx="312.1" cy="83.0" r="1.38" fill="#fff" fill-opacity="0.75"/>
<text x="329.7" y="88.3" font-family='"Liberation Serif", serif' font-size="11.5" font-weight="bold" text-anchor="start" fill="#000">SiC@MO-t8</text>
<line x1="492.8" y1="13.2" x2="492.8" y2="266.7" stroke="#6a6a6a" stroke-width="1.4" stroke-dasharray="5.5,3.5"/>
<line x1="578.3" y1="13.2" x2="578.3" y2="266.7" stroke="#6a6a6a" stroke-width="1.4" stroke-dasharray="5.5,3.5"/>
<line x1="663.8" y1="13.2" x2="663.8" y2="266.7" stroke="#6a6a6a" stroke-width="1.4" stroke-dasharray="5.5,3.5"/>
<line x1="749.3" y1="13.2" x2="749.3" y2="266.7" stroke="#6a6a6a" stroke-width="1.4" stroke-dasharray="5.5,3.5"/>
<line x1="450" y1="216.0" x2="792.2" y2="216.0" stroke="#6a6a6a" stroke-width="1.4" stroke-dasharray="5.5,3.5"/>
<line x1="450" y1="165.1" x2="792.2" y2="165.1" stroke="#6a6a6a" stroke-width="1.4" stroke-dasharray="5.5,3.5"/>
<line x1="450" y1="114.2" x2="792.2" y2="114.2" stroke="#6a6a6a" stroke-width="1.4" stroke-dasharray="5.5,3.5"/>
<line x1="450" y1="63.2" x2="792.2" y2="63.2" stroke="#6a6a6a" stroke-width="1.4" stroke-dasharray="5.5,3.5"/>
<g clip-path="url(#cpB)">
<path d="M451.0,215.0 L457.9,215.1 L464.7,215.2 L471.6,215.3 L478.4,215.3 L485.3,215.4 L492.1,215.5 L499.0,215.6 L505.8,215.7 L512.7,215.8 L519.5,215.8 L526.4,215.9 L533.2,216.0 L540.1,215.6 L546.9,215.2 L553.8,214.7 L560.6,214.3 L567.5,213.9 L574.3,213.5 L581.2,213.1 L588.0,212.7 L594.9,212.2 L601.7,211.8 L608.6,211.4 L615.4,211.0 L622.3,210.8 L629.1,211.2 L636.0,211.6 L642.8,212.0 L649.7,212.4 L656.5,212.7 L663.4,213.1 L670.2,213.3 L677.1,213.3 L683.9,213.3 L690.8,213.3 L697.6,213.3 L704.5,213.3 L711.3,213.3 L718.2,213.3 L725.0,213.3 L731.9,213.3 L738.7,213.1 L745.6,213.0 L752.4,212.8 L759.3,212.6 L766.1,212.4 L773.0,212.2 L779.8,212.0 L786.7,211.8" fill="none" stroke="#5b8e3a" stroke-width="2.2"/>
<circle cx="451.0" cy="215.0" r="4.4" fill="url(#mg_g)"/>
<circle cx="457.9" cy="215.1" r="4.4" fill="url(#mg_g)"/>
<circle cx="464.7" cy="215.2" r="4.4" fill="url(#mg_g)"/>
<circle cx="471.6" cy="215.3" r="4.4" fill="url(#mg_g)"/>
<circle cx="478.4" cy="215.3" r="4.4" fill="url(#mg_g)"/>
<circle cx="485.3" cy="215.4" r="4.4" fill="url(#mg_g)"/>
<circle cx="492.1" cy="215.5" r="4.4" fill="url(#mg_g)"/>
<circle cx="499.0" cy="215.6" r="4.4" fill="url(#mg_g)"/>
<circle cx="505.8" cy="215.7" r="4.4" fill="url(#mg_g)"/>
<circle cx="512.7" cy="215.8" r="4.4" fill="url(#mg_g)"/>
<circle cx="519.5" cy="215.8" r="4.4" fill="url(#mg_g)"/>
<circle cx="526.4" cy="215.9" r="4.4" fill="url(#mg_g)"/>
<circle cx="533.2" cy="216.0" r="4.4" fill="url(#mg_g)"/>
<circle cx="540.1" cy="215.6" r="4.4" fill="url(#mg_g)"/>
<circle cx="546.9" cy="215.2" r="4.4" fill="url(#mg_g)"/>
<circle cx="553.8" cy="214.7" r="4.4" fill="url(#mg_g)"/>
<circle cx="560.6" cy="214.3" r="4.4" fill="url(#mg_g)"/>
<circle cx="567.5" cy="213.9" r="4.4" fill="url(#mg_g)"/>
<circle cx="574.3" cy="213.5" r="4.4" fill="url(#mg_g)"/>
<circle cx="581.2" cy="213.1" r="4.4" fill="url(#mg_g)"/>
<circle cx="588.0" cy="212.7" r="4.4" fill="url(#mg_g)"/>
<circle cx="594.9" cy="212.2" r="4.4" fill="url(#mg_g)"/>
<circle cx="601.7" cy="211.8" r="4.4" fill="url(#mg_g)"/>
<circle cx="608.6" cy="211.4" r="4.4" fill="url(#mg_g)"/>
<circle cx="615.4" cy="211.0" r="4.4" fill="url(#mg_g)"/>
<circle cx="622.3" cy="210.8" r="4.4" fill="url(#mg_g)"/>
<circle cx="629.1" cy="211.2" r="4.4" fill="url(#mg_g)"/>
<circle cx="636.0" cy="211.6" r="4.4" fill="url(#mg_g)"/>
<circle cx="642.8" cy="212.0" r="4.4" fill="url(#mg_g)"/>
<circle cx="649.7" cy="212.4" r="4.4" fill="url(#mg_g)"/>
<circle cx="656.5" cy="212.7" r="4.4" fill="url(#mg_g)"/>
<circle cx="663.4" cy="213.1" r="4.4" fill="url(#mg_g)"/>
<circle cx="670.2" cy="213.3" r="4.4" fill="url(#mg_g)"/>
<circle cx="677.1" cy="213.3" r="4.4" fill="url(#mg_g)"/>
<circle cx="683.9" cy="213.3" r="4.4" fill="url(#mg_g)"/>
<circle cx="690.8" cy="213.3" r="4.4" fill="url(#mg_g)"/>
<circle cx="697.6" cy="213.3" r="4.4" fill="url(#mg_g)"/>
<circle cx="704.5" cy="213.3" r="4.4" fill="url(#mg_g)"/>
<circle cx="711.3" cy="213.3" r="4.4" fill="url(#mg_g)"/>
<circle cx="718.2" cy="213.3" r="4.4" fill="url(#mg_g)"/>
<circle cx="725.0" cy="213.3" r="4.4" fill="url(#mg_g)"/>
<circle cx="731.9" cy="213.3" r="4.4" fill="url(#mg_g)"/>
<circle cx="738.7" cy="213.1" r="4.4" fill="url(#mg_g)"/>
<circle cx="745.6" cy="213.0" r="4.4" fill="url(#mg_g)"/>
<circle cx="752.4" cy="212.8" r="4.4" fill="url(#mg_g)"/>
<circle cx="759.3" cy="212.6" r="4.4" fill="url(#mg_g)"/>
<circle cx="766.1" cy="212.4" r="4.4" fill="url(#mg_g)"/>
<circle cx="773.0" cy="212.2" r="4.4" fill="url(#mg_g)"/>
<circle cx="779.8" cy="212.0" r="4.4" fill="url(#mg_g)"/>
<circle cx="786.7" cy="211.8" r="4.4" fill="url(#mg_g)"/>
</g>
<g clip-path="url(#cpB)">
<path d="M451.0,192.7 L457.9,192.8 L464.7,192.9 L471.6,193.0 L478.4,193.0 L485.3,193.1 L492.1,193.2 L499.0,193.3 L505.8,193.0 L512.7,192.7 L519.5,192.3 L526.4,192.0 L533.2,191.7 L540.1,191.3 L546.9,191.0 L553.8,190.6 L560.6,190.3 L567.5,189.8 L574.3,188.5 L581.2,187.1 L588.0,185.7 L594.9,184.3 L601.7,182.9 L608.6,181.2 L615.4,179.5 L622.3,177.8 L629.1,176.0 L636.0,174.7 L642.8,173.8 L649.7,174.5 L656.5,177.4 L663.4,180.3 L670.2,182.9 L677.1,185.4 L683.9,187.8 L690.8,190.0 L697.6,190.5 L704.5,190.9 L711.3,191.4 L718.2,191.5 L725.0,190.5 L731.9,189.4 L738.7,188.4 L745.6,187.4 L752.4,187.0 L759.3,187.8 L766.1,188.7 L773.0,189.5 L779.8,190.4 L786.7,191.2" fill="none" stroke="#b09428" stroke-width="2.2"/>
<circle cx="451.0" cy="192.7" r="4.4" fill="url(#mg_y)"/>
<circle cx="457.9" cy="192.8" r="4.4" fill="url(#mg_y)"/>
<circle cx="464.7" cy="192.9" r="4.4" fill="url(#mg_y)"/>
<circle cx="471.6" cy="193.0" r="4.4" fill="url(#mg_y)"/>
<circle cx="478.4" cy="193.0" r="4.4" fill="url(#mg_y)"/>
<circle cx="485.3" cy="193.1" r="4.4" fill="url(#mg_y)"/>
<circle cx="492.1" cy="193.2" r="4.4" fill="url(#mg_y)"/>
<circle cx="499.0" cy="193.3" r="4.4" fill="url(#mg_y)"/>
<circle cx="505.8" cy="193.0" r="4.4" fill="url(#mg_y)"/>
<circle cx="512.7" cy="192.7" r="4.4" fill="url(#mg_y)"/>
<circle cx="519.5" cy="192.3" r="4.4" fill="url(#mg_y)"/>
<circle cx="526.4" cy="192.0" r="4.4" fill="url(#mg_y)"/>
<circle cx="533.2" cy="191.7" r="4.4" fill="url(#mg_y)"/>
<circle cx="540.1" cy="191.3" r="4.4" fill="url(#mg_y)"/>
<circle cx="546.9" cy="191.0" r="4.4" fill="url(#mg_y)"/>
<circle cx="553.8" cy="190.6" r="4.4" fill="url(#mg_y)"/>
<circle cx="560.6" cy="190.3" r="4.4" fill="url(#mg_y)"/>
<circle cx="567.5" cy="189.8" r="4.4" fill="url(#mg_y)"/>
<circle cx="574.3" cy="188.5" r="4.4" fill="url(#mg_y)"/>
<circle cx="581.2" cy="187.1" r="4.4" fill="url(#mg_y)"/>
<circle cx="588.0" cy="185.7" r="4.4" fill="url(#mg_y)"/>
<circle cx="594.9" cy="184.3" r="4.4" fill="url(#mg_y)"/>
<circle cx="601.7" cy="182.9" r="4.4" fill="url(#mg_y)"/>
<circle cx="608.6" cy="181.2" r="4.4" fill="url(#mg_y)"/>
<circle cx="615.4" cy="179.5" r="4.4" fill="url(#mg_y)"/>
<circle cx="622.3" cy="177.8" r="4.4" fill="url(#mg_y)"/>
<circle cx="629.1" cy="176.0" r="4.4" fill="url(#mg_y)"/>
<circle cx="636.0" cy="174.7" r="4.4" fill="url(#mg_y)"/>
<circle cx="642.8" cy="173.8" r="4.4" fill="url(#mg_y)"/>
<circle cx="649.7" cy="174.5" r="4.4" fill="url(#mg_y)"/>
<circle cx="656.5" cy="177.4" r="4.4" fill="url(#mg_y)"/>
<circle cx="663.4" cy="180.3" r="4.4" fill="url(#mg_y)"/>
<circle cx="670.2" cy="182.9" r="4.4" fill="url(#mg_y)"/>
<circle cx="677.1" cy="185.4" r="4.4" fill="url(#mg_y)"/>
<circle cx="683.9" cy="187.8" r="4.4" fill="url(#mg_y)"/>
<circle cx="690.8" cy="190.0" r="4.4" fill="url(#mg_y)"/>
<circle cx="697.6" cy="190.5" r="4.4" fill="url(#mg_y)"/>
<circle cx="704.5" cy="190.9" r="4.4" fill="url(#mg_y)"/>
<circle cx="711.3" cy="191.4" r="4.4" fill="url(#mg_y)"/>
<circle cx="718.2" cy="191.5" r="4.4" fill="url(#mg_y)"/>
<circle cx="725.0" cy="190.5" r="4.4" fill="url(#mg_y)"/>
<circle cx="731.9" cy="189.4" r="4.4" fill="url(#mg_y)"/>
<circle cx="738.7" cy="188.4" r="4.4" fill="url(#mg_y)"/>
<circle cx="745.6" cy="187.4" r="4.4" fill="url(#mg_y)"/>
<circle cx="752.4" cy="187.0" r="4.4" fill="url(#mg_y)"/>
<circle cx="759.3" cy="187.8" r="4.4" fill="url(#mg_y)"/>
<circle cx="766.1" cy="188.7" r="4.4" fill="url(#mg_y)"/>
<circle cx="773.0" cy="189.5" r="4.4" fill="url(#mg_y)"/>
<circle cx="779.8" cy="190.4" r="4.4" fill="url(#mg_y)"/>
<circle cx="786.7" cy="191.2" r="4.4" fill="url(#mg_y)"/>
</g>
<g clip-path="url(#cpB)">
<path d="M451.0,122.2 L457.9,125.6 L464.7,129.0 L471.6,131.0 L478.4,132.5 L485.3,134.0 L492.1,134.6 L499.0,133.5 L505.8,131.6 L512.7,129.5 L519.5,126.6 L526.4,122.5 L533.2,118.4 L540.1,114.3 L546.9,110.2 L553.8,104.5 L560.6,98.1 L567.5,95.8 L574.3,93.6 L581.2,91.1 L588.0,87.7 L594.9,81.9 L601.7,69.7 L608.6,61.7 L615.4,57.3 L622.3,55.8 L629.1,58.4 L636.0,63.1 L642.8,71.1 L649.7,74.2 L656.5,76.9 L663.4,81.7 L670.2,88.6 L677.1,94.0 L683.9,98.3 L690.8,103.2 L697.6,108.7 L704.5,113.6 L711.3,115.3 L718.2,117.7 L725.0,122.5 L731.9,127.3 L738.7,128.3 L745.6,128.3 L752.4,130.3 L759.3,136.1 L766.1,136.7 L773.0,136.7 L779.8,138.5 L786.7,142.6" fill="none" stroke="#d2722e" stroke-width="2.2"/>
<circle cx="451.0" cy="122.2" r="4.4" fill="url(#mg_o)"/>
<circle cx="457.9" cy="125.6" r="4.4" fill="url(#mg_o)"/>
<circle cx="464.7" cy="129.0" r="4.4" fill="url(#mg_o)"/>
<circle cx="471.6" cy="131.0" r="4.4" fill="url(#mg_o)"/>
<circle cx="478.4" cy="132.5" r="4.4" fill="url(#mg_o)"/>
<circle cx="485.3" cy="134.0" r="4.4" fill="url(#mg_o)"/>
<circle cx="492.1" cy="134.6" r="4.4" fill="url(#mg_o)"/>
<circle cx="499.0" cy="133.5" r="4.4" fill="url(#mg_o)"/>
<circle cx="505.8" cy="131.6" r="4.4" fill="url(#mg_o)"/>
<circle cx="512.7" cy="129.5" r="4.4" fill="url(#mg_o)"/>
<circle cx="519.5" cy="126.6" r="4.4" fill="url(#mg_o)"/>
<circle cx="526.4" cy="122.5" r="4.4" fill="url(#mg_o)"/>
<circle cx="533.2" cy="118.4" r="4.4" fill="url(#mg_o)"/>
<circle cx="540.1" cy="114.3" r="4.4" fill="url(#mg_o)"/>
<circle cx="546.9" cy="110.2" r="4.4" fill="url(#mg_o)"/>
<circle cx="553.8" cy="104.5" r="4.4" fill="url(#mg_o)"/>
<circle cx="560.6" cy="98.1" r="4.4" fill="url(#mg_o)"/>
<circle cx="567.5" cy="95.8" r="4.4" fill="url(#mg_o)"/>
<circle cx="574.3" cy="93.6" r="4.4" fill="url(#mg_o)"/>
<circle cx="581.2" cy="91.1" r="4.4" fill="url(#mg_o)"/>
<circle cx="588.0" cy="87.7" r="4.4" fill="url(#mg_o)"/>
<circle cx="594.9" cy="81.9" r="4.4" fill="url(#mg_o)"/>
<circle cx="601.7" cy="69.7" r="4.4" fill="url(#mg_o)"/>
<circle cx="608.6" cy="61.7" r="4.4" fill="url(#mg_o)"/>
<circle cx="615.4" cy="57.3" r="4.4" fill="url(#mg_o)"/>
<circle cx="622.3" cy="55.8" r="4.4" fill="url(#mg_o)"/>
<circle cx="629.1" cy="58.4" r="4.4" fill="url(#mg_o)"/>
<circle cx="636.0" cy="63.1" r="4.4" fill="url(#mg_o)"/>
<circle cx="642.8" cy="71.1" r="4.4" fill="url(#mg_o)"/>
<circle cx="649.7" cy="74.2" r="4.4" fill="url(#mg_o)"/>
<circle cx="656.5" cy="76.9" r="4.4" fill="url(#mg_o)"/>
<circle cx="663.4" cy="81.7" r="4.4" fill="url(#mg_o)"/>
<circle cx="670.2" cy="88.6" r="4.4" fill="url(#mg_o)"/>
<circle cx="677.1" cy="94.0" r="4.4" fill="url(#mg_o)"/>
<circle cx="683.9" cy="98.3" r="4.4" fill="url(#mg_o)"/>
<circle cx="690.8" cy="103.2" r="4.4" fill="url(#mg_o)"/>
<circle cx="697.6" cy="108.7" r="4.4" fill="url(#mg_o)"/>
<circle cx="704.5" cy="113.6" r="4.4" fill="url(#mg_o)"/>
<circle cx="711.3" cy="115.3" r="4.4" fill="url(#mg_o)"/>
<circle cx="718.2" cy="117.7" r="4.4" fill="url(#mg_o)"/>
<circle cx="725.0" cy="122.5" r="4.4" fill="url(#mg_o)"/>
<circle cx="731.9" cy="127.3" r="4.4" fill="url(#mg_o)"/>
<circle cx="738.7" cy="128.3" r="4.4" fill="url(#mg_o)"/>
<circle cx="745.6" cy="128.3" r="4.4" fill="url(#mg_o)"/>
<circle cx="752.4" cy="130.3" r="4.4" fill="url(#mg_o)"/>
<circle cx="759.3" cy="136.1" r="4.4" fill="url(#mg_o)"/>
<circle cx="766.1" cy="136.7" r="4.4" fill="url(#mg_o)"/>
<circle cx="773.0" cy="136.7" r="4.4" fill="url(#mg_o)"/>
<circle cx="779.8" cy="138.5" r="4.4" fill="url(#mg_o)"/>
<circle cx="786.7" cy="142.6" r="4.4" fill="url(#mg_o)"/>
</g>
<g clip-path="url(#cpB)">
<path d="M451.0,180.1 L457.9,180.5 L464.7,181.0 L471.6,181.4 L478.4,181.9 L485.3,182.3 L492.1,182.8 L499.0,183.2 L505.8,182.8 L512.7,182.3 L519.5,181.7 L526.4,181.1 L533.2,180.6 L540.1,180.0 L546.9,178.8 L553.8,177.6 L560.6,176.3 L567.5,175.1 L574.3,173.9 L581.2,172.7 L588.0,171.5 L594.9,170.5 L601.7,169.4 L608.6,168.4 L615.4,167.4 L622.3,166.6 L629.1,166.1 L636.0,165.7 L642.8,165.2 L649.7,165.7 L656.5,167.5 L663.4,169.2 L670.2,171.4 L677.1,174.2 L683.9,176.9 L690.8,178.8 L697.6,180.7 L704.5,182.7 L711.3,183.6 L718.2,184.0 L725.0,184.5 L731.9,184.9 L738.7,185.3 L745.6,185.6 L752.4,186.0 L759.3,186.3 L766.1,186.7 L773.0,186.7 L779.8,186.7 L786.7,186.7" fill="none" stroke="#4a64a0" stroke-width="2.2"/>
<circle cx="451.0" cy="180.1" r="4.4" fill="url(#mg_b)"/>
<circle cx="457.9" cy="180.5" r="4.4" fill="url(#mg_b)"/>
<circle cx="464.7" cy="181.0" r="4.4" fill="url(#mg_b)"/>
<circle cx="471.6" cy="181.4" r="4.4" fill="url(#mg_b)"/>
<circle cx="478.4" cy="181.9" r="4.4" fill="url(#mg_b)"/>
<circle cx="485.3" cy="182.3" r="4.4" fill="url(#mg_b)"/>
<circle cx="492.1" cy="182.8" r="4.4" fill="url(#mg_b)"/>
<circle cx="499.0" cy="183.2" r="4.4" fill="url(#mg_b)"/>
<circle cx="505.8" cy="182.8" r="4.4" fill="url(#mg_b)"/>
<circle cx="512.7" cy="182.3" r="4.4" fill="url(#mg_b)"/>
<circle cx="519.5" cy="181.7" r="4.4" fill="url(#mg_b)"/>
<circle cx="526.4" cy="181.1" r="4.4" fill="url(#mg_b)"/>
<circle cx="533.2" cy="180.6" r="4.4" fill="url(#mg_b)"/>
<circle cx="540.1" cy="180.0" r="4.4" fill="url(#mg_b)"/>
<circle cx="546.9" cy="178.8" r="4.4" fill="url(#mg_b)"/>
<circle cx="553.8" cy="177.6" r="4.4" fill="url(#mg_b)"/>
<circle cx="560.6" cy="176.3" r="4.4" fill="url(#mg_b)"/>
<circle cx="567.5" cy="175.1" r="4.4" fill="url(#mg_b)"/>
<circle cx="574.3" cy="173.9" r="4.4" fill="url(#mg_b)"/>
<circle cx="581.2" cy="172.7" r="4.4" fill="url(#mg_b)"/>
<circle cx="588.0" cy="171.5" r="4.4" fill="url(#mg_b)"/>
<circle cx="594.9" cy="170.5" r="4.4" fill="url(#mg_b)"/>
<circle cx="601.7" cy="169.4" r="4.4" fill="url(#mg_b)"/>
<circle cx="608.6" cy="168.4" r="4.4" fill="url(#mg_b)"/>
<circle cx="615.4" cy="167.4" r="4.4" fill="url(#mg_b)"/>
<circle cx="622.3" cy="166.6" r="4.4" fill="url(#mg_b)"/>
<circle cx="629.1" cy="166.1" r="4.4" fill="url(#mg_b)"/>
<circle cx="636.0" cy="165.7" r="4.4" fill="url(#mg_b)"/>
<circle cx="642.8" cy="165.2" r="4.4" fill="url(#mg_b)"/>
<circle cx="649.7" cy="165.7" r="4.4" fill="url(#mg_b)"/>
<circle cx="656.5" cy="167.5" r="4.4" fill="url(#mg_b)"/>
<circle cx="663.4" cy="169.2" r="4.4" fill="url(#mg_b)"/>
<circle cx="670.2" cy="171.4" r="4.4" fill="url(#mg_b)"/>
<circle cx="677.1" cy="174.2" r="4.4" fill="url(#mg_b)"/>
<circle cx="683.9" cy="176.9" r="4.4" fill="url(#mg_b)"/>
<circle cx="690.8" cy="178.8" r="4.4" fill="url(#mg_b)"/>
<circle cx="697.6" cy="180.7" r="4.4" fill="url(#mg_b)"/>
<circle cx="704.5" cy="182.7" r="4.4" fill="url(#mg_b)"/>
<circle cx="711.3" cy="183.6" r="4.4" fill="url(#mg_b)"/>
<circle cx="718.2" cy="184.0" r="4.4" fill="url(#mg_b)"/>
<circle cx="725.0" cy="184.5" r="4.4" fill="url(#mg_b)"/>
<circle cx="731.9" cy="184.9" r="4.4" fill="url(#mg_b)"/>
<circle cx="738.7" cy="185.3" r="4.4" fill="url(#mg_b)"/>
<circle cx="745.6" cy="185.6" r="4.4" fill="url(#mg_b)"/>
<circle cx="752.4" cy="186.0" r="4.4" fill="url(#mg_b)"/>
<circle cx="759.3" cy="186.3" r="4.4" fill="url(#mg_b)"/>
<circle cx="766.1" cy="186.7" r="4.4" fill="url(#mg_b)"/>
<circle cx="773.0" cy="186.7" r="4.4" fill="url(#mg_b)"/>
<circle cx="779.8" cy="186.7" r="4.4" fill="url(#mg_b)"/>
<circle cx="786.7" cy="186.7" r="4.4" fill="url(#mg_b)"/>
</g>
<g clip-path="url(#cpB)">
<path d="M451.0,204.0 L457.9,203.8 L464.7,203.6 L471.6,203.4 L478.4,203.2 L485.3,203.0 L492.1,202.8 L499.0,202.6 L505.8,202.5 L512.7,202.3 L519.5,202.1 L526.4,201.9 L533.2,201.7 L540.1,201.5 L546.9,201.4 L553.8,201.2 L560.6,201.1 L567.5,200.9 L574.3,200.8 L581.2,200.6 L588.0,200.4 L594.9,200.3 L601.7,200.1 L608.6,199.9 L615.4,199.4 L622.3,199.0 L629.1,198.6 L636.0,198.0 L642.8,197.4 L649.7,196.7 L656.5,196.0 L663.4,195.3 L670.2,194.1 L677.1,192.4 L683.9,190.7 L690.8,191.7 L697.6,194.5 L704.5,197.4 L711.3,198.9 L718.2,199.8 L725.0,200.6 L731.9,201.5 L738.7,201.7 L745.6,201.7 L752.4,201.7 L759.3,201.7 L766.1,201.7 L773.0,201.7 L779.8,201.7 L786.7,201.7" fill="none" stroke="#2fb89a" stroke-width="2.2"/>
<circle cx="451.0" cy="204.0" r="4.4" fill="url(#mg_t)"/>
<circle cx="457.9" cy="203.8" r="4.4" fill="url(#mg_t)"/>
<circle cx="464.7" cy="203.6" r="4.4" fill="url(#mg_t)"/>
<circle cx="471.6" cy="203.4" r="4.4" fill="url(#mg_t)"/>
<circle cx="478.4" cy="203.2" r="4.4" fill="url(#mg_t)"/>
<circle cx="485.3" cy="203.0" r="4.4" fill="url(#mg_t)"/>
<circle cx="492.1" cy="202.8" r="4.4" fill="url(#mg_t)"/>
<circle cx="499.0" cy="202.6" r="4.4" fill="url(#mg_t)"/>
<circle cx="505.8" cy="202.5" r="4.4" fill="url(#mg_t)"/>
<circle cx="512.7" cy="202.3" r="4.4" fill="url(#mg_t)"/>
<circle cx="519.5" cy="202.1" r="4.4" fill="url(#mg_t)"/>
<circle cx="526.4" cy="201.9" r="4.4" fill="url(#mg_t)"/>
<circle cx="533.2" cy="201.7" r="4.4" fill="url(#mg_t)"/>
<circle cx="540.1" cy="201.5" r="4.4" fill="url(#mg_t)"/>
<circle cx="546.9" cy="201.4" r="4.4" fill="url(#mg_t)"/>
<circle cx="553.8" cy="201.2" r="4.4" fill="url(#mg_t)"/>
<circle cx="560.6" cy="201.1" r="4.4" fill="url(#mg_t)"/>
<circle cx="567.5" cy="200.9" r="4.4" fill="url(#mg_t)"/>
<circle cx="574.3" cy="200.8" r="4.4" fill="url(#mg_t)"/>
<circle cx="581.2" cy="200.6" r="4.4" fill="url(#mg_t)"/>
<circle cx="588.0" cy="200.4" r="4.4" fill="url(#mg_t)"/>
<circle cx="594.9" cy="200.3" r="4.4" fill="url(#mg_t)"/>
<circle cx="601.7" cy="200.1" r="4.4" fill="url(#mg_t)"/>
<circle cx="608.6" cy="199.9" r="4.4" fill="url(#mg_t)"/>
<circle cx="615.4" cy="199.4" r="4.4" fill="url(#mg_t)"/>
<circle cx="622.3" cy="199.0" r="4.4" fill="url(#mg_t)"/>
<circle cx="629.1" cy="198.6" r="4.4" fill="url(#mg_t)"/>
<circle cx="636.0" cy="198.0" r="4.4" fill="url(#mg_t)"/>
<circle cx="642.8" cy="197.4" r="4.4" fill="url(#mg_t)"/>
<circle cx="649.7" cy="196.7" r="4.4" fill="url(#mg_t)"/>
<circle cx="656.5" cy="196.0" r="4.4" fill="url(#mg_t)"/>
<circle cx="663.4" cy="195.3" r="4.4" fill="url(#mg_t)"/>
<circle cx="670.2" cy="194.1" r="4.4" fill="url(#mg_t)"/>
<circle cx="677.1" cy="192.4" r="4.4" fill="url(#mg_t)"/>
<circle cx="683.9" cy="190.7" r="4.4" fill="url(#mg_t)"/>
<circle cx="690.8" cy="191.7" r="4.4" fill="url(#mg_t)"/>
<circle cx="697.6" cy="194.5" r="4.4" fill="url(#mg_t)"/>
<circle cx="704.5" cy="197.4" r="4.4" fill="url(#mg_t)"/>
<circle cx="711.3" cy="198.9" r="4.4" fill="url(#mg_t)"/>
<circle cx="718.2" cy="199.8" r="4.4" fill="url(#mg_t)"/>
<circle cx="725.0" cy="200.6" r="4.4" fill="url(#mg_t)"/>
<circle cx="731.9" cy="201.5" r="4.4" fill="url(#mg_t)"/>
<circle cx="738.7" cy="201.7" r="4.4" fill="url(#mg_t)"/>
<circle cx="745.6" cy="201.7" r="4.4" fill="url(#mg_t)"/>
<circle cx="752.4" cy="201.7" r="4.4" fill="url(#mg_t)"/>
<circle cx="759.3" cy="201.7" r="4.4" fill="url(#mg_t)"/>
<circle cx="766.1" cy="201.7" r="4.4" fill="url(#mg_t)"/>
<circle cx="773.0" cy="201.7" r="4.4" fill="url(#mg_t)"/>
<circle cx="779.8" cy="201.7" r="4.4" fill="url(#mg_t)"/>
<circle cx="786.7" cy="201.7" r="4.4" fill="url(#mg_t)"/>
</g>
<line x1="620" y1="55" x2="620" y2="266" stroke="#d01818" stroke-width="1.3" stroke-dasharray="3,2"/>
<line x1="682.7" y1="178" x2="682.7" y2="266" stroke="#d01818" stroke-width="1.3" stroke-dasharray="3,2"/>
<line x1="623" y1="236" x2="680" y2="236" stroke="#d01818" stroke-width="1.3" stroke-dasharray="3,2"/>
<polygon points="620,236 627,233 627,239" fill="#d01818"/><polygon points="682.7,236 675.7,233 675.7,239" fill="#d01818"/>
<rect x="450" y="13.2" width="342.20000000000005" height="253.5" fill="none" stroke="#000" stroke-width="2.6"/>
<line x1="492.8" y1="266.7" x2="492.8" y2="271.2" stroke="#000" stroke-width="2"/>
<text x="492.8" y="288.0" font-family='"Liberation Serif", serif' font-size="16" font-weight="bold" text-anchor="middle" fill="#000">4</text>
<line x1="578.3" y1="266.7" x2="578.3" y2="271.2" stroke="#000" stroke-width="2"/>
<text x="578.3" y="288.0" font-family='"Liberation Serif", serif' font-size="16" font-weight="bold" text-anchor="middle" fill="#000">8</text>
<line x1="663.8" y1="266.7" x2="663.8" y2="271.2" stroke="#000" stroke-width="2"/>
<text x="663.8" y="288.0" font-family='"Liberation Serif", serif' font-size="16" font-weight="bold" text-anchor="middle" fill="#000">12</text>
<line x1="749.3" y1="266.7" x2="749.3" y2="271.2" stroke="#000" stroke-width="2"/>
<text x="749.3" y="288.0" font-family='"Liberation Serif", serif' font-size="16" font-weight="bold" text-anchor="middle" fill="#000">16</text>
<line x1="535.5" y1="266.7" x2="535.5" y2="269.2" stroke="#000" stroke-width="1.6"/>
<line x1="621.0" y1="266.7" x2="621.0" y2="269.2" stroke="#000" stroke-width="1.6"/>
<line x1="706.6" y1="266.7" x2="706.6" y2="269.2" stroke="#000" stroke-width="1.6"/>
<line x1="445.5" y1="216.0" x2="450" y2="216.0" stroke="#000" stroke-width="2"/>
<text x="441.5" y="221.4" font-family='"Liberation Serif", serif' font-size="16" font-weight="bold" text-anchor="end" fill="#000">0</text>
<line x1="445.5" y1="165.1" x2="450" y2="165.1" stroke="#000" stroke-width="2"/>
<text x="441.5" y="170.5" font-family='"Liberation Serif", serif' font-size="16" font-weight="bold" text-anchor="end" fill="#000">4</text>
<line x1="445.5" y1="114.2" x2="450" y2="114.2" stroke="#000" stroke-width="2"/>
<text x="441.5" y="119.6" font-family='"Liberation Serif", serif' font-size="16" font-weight="bold" text-anchor="end" fill="#000">8</text>
<line x1="445.5" y1="63.2" x2="450" y2="63.2" stroke="#000" stroke-width="2"/>
<text x="441.5" y="68.6" font-family='"Liberation Serif", serif' font-size="16" font-weight="bold" text-anchor="end" fill="#000">12</text>
<line x1="447.5" y1="241.5" x2="450" y2="241.5" stroke="#000" stroke-width="1.6"/>
<line x1="447.5" y1="190.5" x2="450" y2="190.5" stroke="#000" stroke-width="1.6"/>
<line x1="447.5" y1="139.6" x2="450" y2="139.6" stroke="#000" stroke-width="1.6"/>
<line x1="447.5" y1="88.7" x2="450" y2="88.7" stroke="#000" stroke-width="1.6"/>
<line x1="447.5" y1="37.8" x2="450" y2="37.8" stroke="#000" stroke-width="1.6"/>
<text x="630.0" y="309.0" font-family='"Liberation Serif", serif' font-size="21" font-weight="bold" text-anchor="middle" fill="#000">Frequency (GHz)</text>
<text x="417.0" y="140.0" font-family='"Liberation Serif", serif' font-size="19" font-weight="normal" text-anchor="middle" fill="#000" transform="rotate(-90 417 140)">ε″</text>
<text x="427.5" y="38.0" font-family='"Liberation Serif", serif' font-size="36" font-weight="bold" text-anchor="middle" fill="#000">(b)</text>
<rect x="689.0" y="20.0" width="100.0" height="75.5" fill="#000"/>
<rect x="685.5" y="16.5" width="100.0" height="75.5" fill="#fff" stroke="#000" stroke-width="1.3"/>
<line x1="691" y1="23.5" x2="720" y2="23.5" stroke="#5b8e3a" stroke-width="2.6"/>
<circle cx="705.5" cy="23.5" r="4.6" fill="#5b8e3a"/>
<circle cx="704.5" cy="22.3" r="1.38" fill="#fff" fill-opacity="0.75"/>
<text x="722.0" y="27.7" font-family='"Liberation Serif", serif' font-size="11.8" font-weight="bold" text-anchor="start" fill="#000">SiC@MoO<tspan font-size="8" dy="3">3</tspan></text>
<line x1="691" y1="40.5" x2="720" y2="40.5" stroke="#b09428" stroke-width="2.6"/>
<circle cx="705.5" cy="40.5" r="4.6" fill="#b09428"/>
<circle cx="704.5" cy="39.3" r="1.38" fill="#fff" fill-opacity="0.75"/>
<text x="722.0" y="44.7" font-family='"Liberation Serif", serif' font-size="11.8" font-weight="bold" text-anchor="start" fill="#000">SiC@MO-t2</text>
<line x1="691" y1="55.5" x2="720" y2="55.5" stroke="#d2722e" stroke-width="2.6"/>
<circle cx="705.5" cy="55.5" r="4.6" fill="#d2722e"/>
<circle cx="704.5" cy="54.3" r="1.38" fill="#fff" fill-opacity="0.75"/>
<text x="722.0" y="59.7" font-family='"Liberation Serif", serif' font-size="11.8" font-weight="bold" text-anchor="start" fill="#000">SiC@MO-t4</text>
<line x1="691" y1="70.5" x2="720" y2="70.5" stroke="#4a64a0" stroke-width="2.6"/>
<circle cx="705.5" cy="70.5" r="4.6" fill="#4a64a0"/>
<circle cx="704.5" cy="69.3" r="1.38" fill="#fff" fill-opacity="0.75"/>
<text x="722.0" y="74.7" font-family='"Liberation Serif", serif' font-size="11.8" font-weight="bold" text-anchor="start" fill="#000">SiC@MO-t6</text>
<line x1="691" y1="85.5" x2="720" y2="85.5" stroke="#2fb89a" stroke-width="2.6"/>
<circle cx="705.5" cy="85.5" r="4.6" fill="#2fb89a"/>
<circle cx="704.5" cy="84.3" r="1.38" fill="#fff" fill-opacity="0.75"/>
<text x="722.0" y="89.7" font-family='"Liberation Serif", serif' font-size="11.8" font-weight="bold" text-anchor="start" fill="#000">SiC@MO-t8</text>
<rect x="1033.3" y="42.7" width="52.4" height="152.3" fill="url(#gBlue)" stroke="#6a6af0" stroke-width="1.3" stroke-dasharray="1.3,1.3"/>
<line x1="889.4" y1="10.7" x2="889.4" y2="267.3" stroke="#6a6a6a" stroke-width="1.4" stroke-dasharray="5.5,3.5"/>
<line x1="975.7" y1="10.7" x2="975.7" y2="267.3" stroke="#6a6a6a" stroke-width="1.4" stroke-dasharray="5.5,3.5"/>
<line x1="1062.0" y1="10.7" x2="1062.0" y2="267.3" stroke="#6a6a6a" stroke-width="1.4" stroke-dasharray="5.5,3.5"/>
<line x1="1148.3" y1="10.7" x2="1148.3" y2="267.3" stroke="#6a6a6a" stroke-width="1.4" stroke-dasharray="5.5,3.5"/>
<line x1="846" y1="216.7" x2="1191.7" y2="216.7" stroke="#6a6a6a" stroke-width="1.4" stroke-dasharray="5.5,3.5"/>
<line x1="846" y1="165.0" x2="1191.7" y2="165.0" stroke="#6a6a6a" stroke-width="1.4" stroke-dasharray="5.5,3.5"/>
<line x1="846" y1="113.3" x2="1191.7" y2="113.3" stroke="#6a6a6a" stroke-width="1.4" stroke-dasharray="5.5,3.5"/>
<line x1="846" y1="61.7" x2="1191.7" y2="61.7" stroke="#6a6a6a" stroke-width="1.4" stroke-dasharray="5.5,3.5"/>
<g clip-path="url(#cpC)">
<path d="M847.0,211.7 L853.9,211.7 L860.8,211.7 L867.7,211.7 L874.6,211.7 L881.5,211.7 L888.4,211.7 L895.3,211.7 L902.2,211.7 L909.1,211.7 L916.0,213.2 L922.9,214.9 L929.8,216.6 L936.7,215.0 L943.6,213.3 L950.5,211.6 L957.4,211.0 L964.3,210.3 L971.2,209.6 L978.1,208.9 L985.0,208.2 L991.9,207.5 L998.8,206.8 L1005.7,206.1 L1012.6,205.4 L1019.5,204.7 L1026.4,204.0 L1033.3,203.3 L1040.2,205.4 L1047.1,207.4 L1054.0,208.3 L1060.9,208.4 L1067.8,208.5 L1074.7,208.6 L1081.6,208.7 L1088.5,208.7 L1095.4,208.8 L1102.3,208.9 L1109.2,209.0 L1116.1,206.4 L1123.0,203.4 L1129.9,207.7 L1136.8,209.5 L1143.7,208.5 L1150.6,207.5 L1157.5,206.5 L1164.4,205.5 L1171.3,204.5 L1178.2,203.5 L1185.1,202.5 L1192.0,201.7" fill="none" stroke="#5b8e3a" stroke-width="2.2"/>
<circle cx="847.0" cy="211.7" r="4.4" fill="url(#mg_g)"/>
<circle cx="853.9" cy="211.7" r="4.4" fill="url(#mg_g)"/>
<circle cx="860.8" cy="211.7" r="4.4" fill="url(#mg_g)"/>
<circle cx="867.7" cy="211.7" r="4.4" fill="url(#mg_g)"/>
<circle cx="874.6" cy="211.7" r="4.4" fill="url(#mg_g)"/>
<circle cx="881.5" cy="211.7" r="4.4" fill="url(#mg_g)"/>
<circle cx="888.4" cy="211.7" r="4.4" fill="url(#mg_g)"/>
<circle cx="895.3" cy="211.7" r="4.4" fill="url(#mg_g)"/>
<circle cx="902.2" cy="211.7" r="4.4" fill="url(#mg_g)"/>
<circle cx="909.1" cy="211.7" r="4.4" fill="url(#mg_g)"/>
<circle cx="916.0" cy="213.2" r="4.4" fill="url(#mg_g)"/>
<circle cx="922.9" cy="214.9" r="4.4" fill="url(#mg_g)"/>
<circle cx="929.8" cy="216.6" r="4.4" fill="url(#mg_g)"/>
<circle cx="936.7" cy="215.0" r="4.4" fill="url(#mg_g)"/>
<circle cx="943.6" cy="213.3" r="4.4" fill="url(#mg_g)"/>
<circle cx="950.5" cy="211.6" r="4.4" fill="url(#mg_g)"/>
<circle cx="957.4" cy="211.0" r="4.4" fill="url(#mg_g)"/>
<circle cx="964.3" cy="210.3" r="4.4" fill="url(#mg_g)"/>
<circle cx="971.2" cy="209.6" r="4.4" fill="url(#mg_g)"/>
<circle cx="978.1" cy="208.9" r="4.4" fill="url(#mg_g)"/>
<circle cx="985.0" cy="208.2" r="4.4" fill="url(#mg_g)"/>
<circle cx="991.9" cy="207.5" r="4.4" fill="url(#mg_g)"/>
<circle cx="998.8" cy="206.8" r="4.4" fill="url(#mg_g)"/>
<circle cx="1005.7" cy="206.1" r="4.4" fill="url(#mg_g)"/>
<circle cx="1012.6" cy="205.4" r="4.4" fill="url(#mg_g)"/>
<circle cx="1019.5" cy="204.7" r="4.4" fill="url(#mg_g)"/>
<circle cx="1026.4" cy="204.0" r="4.4" fill="url(#mg_g)"/>
<circle cx="1033.3" cy="203.3" r="4.4" fill="url(#mg_g)"/>
<circle cx="1040.2" cy="205.4" r="4.4" fill="url(#mg_g)"/>
<circle cx="1047.1" cy="207.4" r="4.4" fill="url(#mg_g)"/>
<circle cx="1054.0" cy="208.3" r="4.4" fill="url(#mg_g)"/>
<circle cx="1060.9" cy="208.4" r="4.4" fill="url(#mg_g)"/>
<circle cx="1067.8" cy="208.5" r="4.4" fill="url(#mg_g)"/>
<circle cx="1074.7" cy="208.6" r="4.4" fill="url(#mg_g)"/>
<circle cx="1081.6" cy="208.7" r="4.4" fill="url(#mg_g)"/>
<circle cx="1088.5" cy="208.7" r="4.4" fill="url(#mg_g)"/>
<circle cx="1095.4" cy="208.8" r="4.4" fill="url(#mg_g)"/>
<circle cx="1102.3" cy="208.9" r="4.4" fill="url(#mg_g)"/>
<circle cx="1109.2" cy="209.0" r="4.4" fill="url(#mg_g)"/>
<circle cx="1116.1" cy="206.4" r="4.4" fill="url(#mg_g)"/>
<circle cx="1123.0" cy="203.4" r="4.4" fill="url(#mg_g)"/>
<circle cx="1129.9" cy="207.7" r="4.4" fill="url(#mg_g)"/>
<circle cx="1136.8" cy="209.5" r="4.4" fill="url(#mg_g)"/>
<circle cx="1143.7" cy="208.5" r="4.4" fill="url(#mg_g)"/>
<circle cx="1150.6" cy="207.5" r="4.4" fill="url(#mg_g)"/>
<circle cx="1157.5" cy="206.5" r="4.4" fill="url(#mg_g)"/>
<circle cx="1164.4" cy="205.5" r="4.4" fill="url(#mg_g)"/>
<circle cx="1171.3" cy="204.5" r="4.4" fill="url(#mg_g)"/>
<circle cx="1178.2" cy="203.5" r="4.4" fill="url(#mg_g)"/>
<circle cx="1185.1" cy="202.5" r="4.4" fill="url(#mg_g)"/>
<circle cx="1192.0" cy="201.7" r="4.4" fill="url(#mg_g)"/>
</g>
<g clip-path="url(#cpC)">
<path d="M847.0,190.7 L853.9,190.4 L860.8,190.2 L867.7,189.9 L874.6,189.6 L881.5,189.4 L888.4,189.1 L895.3,188.8 L902.2,188.6 L909.1,188.3 L916.0,188.0 L922.9,187.7 L929.8,187.5 L936.7,187.2 L943.6,186.9 L950.5,186.6 L957.4,185.7 L964.3,184.8 L971.2,183.9 L978.1,182.9 L985.0,182.0 L991.9,181.1 L998.8,180.2 L1005.7,177.2 L1012.6,173.7 L1019.5,170.3 L1026.4,166.8 L1033.3,162.8 L1040.2,158.8 L1047.1,155.2 L1054.0,158.0 L1060.9,160.9 L1067.8,164.0 L1074.7,168.1 L1081.6,172.3 L1088.5,175.9 L1095.4,179.4 L1102.3,181.5 L1109.2,180.9 L1116.1,180.3 L1123.0,178.1 L1129.9,173.8 L1136.8,172.7 L1143.7,174.8 L1150.6,176.4 L1157.5,172.9 L1164.4,170.4 L1171.3,172.9 L1178.2,175.4 L1185.1,178.0 L1192.0,180.0" fill="none" stroke="#b09428" stroke-width="2.2"/>
<circle cx="847.0" cy="190.7" r="4.4" fill="url(#mg_y)"/>
<circle cx="853.9" cy="190.4" r="4.4" fill="url(#mg_y)"/>
<circle cx="860.8" cy="190.2" r="4.4" fill="url(#mg_y)"/>
<circle cx="867.7" cy="189.9" r="4.4" fill="url(#mg_y)"/>
<circle cx="874.6" cy="189.6" r="4.4" fill="url(#mg_y)"/>
<circle cx="881.5" cy="189.4" r="4.4" fill="url(#mg_y)"/>
<circle cx="888.4" cy="189.1" r="4.4" fill="url(#mg_y)"/>
<circle cx="895.3" cy="188.8" r="4.4" fill="url(#mg_y)"/>
<circle cx="902.2" cy="188.6" r="4.4" fill="url(#mg_y)"/>
<circle cx="909.1" cy="188.3" r="4.4" fill="url(#mg_y)"/>
<circle cx="916.0" cy="188.0" r="4.4" fill="url(#mg_y)"/>
<circle cx="922.9" cy="187.7" r="4.4" fill="url(#mg_y)"/>
<circle cx="929.8" cy="187.5" r="4.4" fill="url(#mg_y)"/>
<circle cx="936.7" cy="187.2" r="4.4" fill="url(#mg_y)"/>
<circle cx="943.6" cy="186.9" r="4.4" fill="url(#mg_y)"/>
<circle cx="950.5" cy="186.6" r="4.4" fill="url(#mg_y)"/>
<circle cx="957.4" cy="185.7" r="4.4" fill="url(#mg_y)"/>
<circle cx="964.3" cy="184.8" r="4.4" fill="url(#mg_y)"/>
<circle cx="971.2" cy="183.9" r="4.4" fill="url(#mg_y)"/>
<circle cx="978.1" cy="182.9" r="4.4" fill="url(#mg_y)"/>
<circle cx="985.0" cy="182.0" r="4.4" fill="url(#mg_y)"/>
<circle cx="991.9" cy="181.1" r="4.4" fill="url(#mg_y)"/>
<circle cx="998.8" cy="180.2" r="4.4" fill="url(#mg_y)"/>
<circle cx="1005.7" cy="177.2" r="4.4" fill="url(#mg_y)"/>
<circle cx="1012.6" cy="173.7" r="4.4" fill="url(#mg_y)"/>
<circle cx="1019.5" cy="170.3" r="4.4" fill="url(#mg_y)"/>
<circle cx="1026.4" cy="166.8" r="4.4" fill="url(#mg_y)"/>
<circle cx="1033.3" cy="162.8" r="4.4" fill="url(#mg_y)"/>
<circle cx="1040.2" cy="158.8" r="4.4" fill="url(#mg_y)"/>
<circle cx="1047.1" cy="155.2" r="4.4" fill="url(#mg_y)"/>
<circle cx="1054.0" cy="158.0" r="4.4" fill="url(#mg_y)"/>
<circle cx="1060.9" cy="160.9" r="4.4" fill="url(#mg_y)"/>
<circle cx="1067.8" cy="164.0" r="4.4" fill="url(#mg_y)"/>
<circle cx="1074.7" cy="168.1" r="4.4" fill="url(#mg_y)"/>
<circle cx="1081.6" cy="172.3" r="4.4" fill="url(#mg_y)"/>
<circle cx="1088.5" cy="175.9" r="4.4" fill="url(#mg_y)"/>
<circle cx="1095.4" cy="179.4" r="4.4" fill="url(#mg_y)"/>
<circle cx="1102.3" cy="181.5" r="4.4" fill="url(#mg_y)"/>
<circle cx="1109.2" cy="180.9" r="4.4" fill="url(#mg_y)"/>
<circle cx="1116.1" cy="180.3" r="4.4" fill="url(#mg_y)"/>
<circle cx="1123.0" cy="178.1" r="4.4" fill="url(#mg_y)"/>
<circle cx="1129.9" cy="173.8" r="4.4" fill="url(#mg_y)"/>
<circle cx="1136.8" cy="172.7" r="4.4" fill="url(#mg_y)"/>
<circle cx="1143.7" cy="174.8" r="4.4" fill="url(#mg_y)"/>
<circle cx="1150.6" cy="176.4" r="4.4" fill="url(#mg_y)"/>
<circle cx="1157.5" cy="172.9" r="4.4" fill="url(#mg_y)"/>
<circle cx="1164.4" cy="170.4" r="4.4" fill="url(#mg_y)"/>
<circle cx="1171.3" cy="172.9" r="4.4" fill="url(#mg_y)"/>
<circle cx="1178.2" cy="175.4" r="4.4" fill="url(#mg_y)"/>
<circle cx="1185.1" cy="178.0" r="4.4" fill="url(#mg_y)"/>
<circle cx="1192.0" cy="180.0" r="4.4" fill="url(#mg_y)"/>
</g>
<g clip-path="url(#cpC)">
<path d="M847.0,165.0 L853.9,165.0 L860.8,165.0 L867.7,165.0 L874.6,165.0 L881.5,165.0 L888.4,165.0 L895.3,165.0 L902.2,164.3 L909.1,162.3 L916.0,160.2 L922.9,157.7 L929.8,155.1 L936.7,152.5 L943.6,149.8 L950.5,145.0 L957.4,140.1 L964.3,136.9 L971.2,134.6 L978.1,132.3 L985.0,128.5 L991.9,124.2 L998.8,115.1 L1005.7,104.8 L1012.6,93.0 L1019.5,80.9 L1026.4,69.6 L1033.3,58.3 L1040.2,60.8 L1047.1,71.2 L1054.0,64.4 L1060.9,56.8 L1067.8,51.1 L1074.7,58.0 L1081.6,66.0 L1088.5,77.5 L1095.4,89.0 L1102.3,89.4 L1109.2,89.8 L1116.1,94.4 L1123.0,105.1 L1129.9,115.8 L1136.8,112.7 L1143.7,113.0 L1150.6,119.2 L1157.5,125.5 L1164.4,127.2 L1171.3,127.7 L1178.2,130.0 L1185.1,134.4 L1192.0,137.5" fill="none" stroke="#d2722e" stroke-width="2.2"/>
<circle cx="847.0" cy="165.0" r="4.4" fill="url(#mg_o)"/>
<circle cx="853.9" cy="165.0" r="4.4" fill="url(#mg_o)"/>
<circle cx="860.8" cy="165.0" r="4.4" fill="url(#mg_o)"/>
<circle cx="867.7" cy="165.0" r="4.4" fill="url(#mg_o)"/>
<circle cx="874.6" cy="165.0" r="4.4" fill="url(#mg_o)"/>
<circle cx="881.5" cy="165.0" r="4.4" fill="url(#mg_o)"/>
<circle cx="888.4" cy="165.0" r="4.4" fill="url(#mg_o)"/>
<circle cx="895.3" cy="165.0" r="4.4" fill="url(#mg_o)"/>
<circle cx="902.2" cy="164.3" r="4.4" fill="url(#mg_o)"/>
<circle cx="909.1" cy="162.3" r="4.4" fill="url(#mg_o)"/>
<circle cx="916.0" cy="160.2" r="4.4" fill="url(#mg_o)"/>
<circle cx="922.9" cy="157.7" r="4.4" fill="url(#mg_o)"/>
<circle cx="929.8" cy="155.1" r="4.4" fill="url(#mg_o)"/>
<circle cx="936.7" cy="152.5" r="4.4" fill="url(#mg_o)"/>
<circle cx="943.6" cy="149.8" r="4.4" fill="url(#mg_o)"/>
<circle cx="950.5" cy="145.0" r="4.4" fill="url(#mg_o)"/>
<circle cx="957.4" cy="140.1" r="4.4" fill="url(#mg_o)"/>
<circle cx="964.3" cy="136.9" r="4.4" fill="url(#mg_o)"/>
<circle cx="971.2" cy="134.6" r="4.4" fill="url(#mg_o)"/>
<circle cx="978.1" cy="132.3" r="4.4" fill="url(#mg_o)"/>
<circle cx="985.0" cy="128.5" r="4.4" fill="url(#mg_o)"/>
<circle cx="991.9" cy="124.2" r="4.4" fill="url(#mg_o)"/>
<circle cx="998.8" cy="115.1" r="4.4" fill="url(#mg_o)"/>
<circle cx="1005.7" cy="104.8" r="4.4" fill="url(#mg_o)"/>
<circle cx="1012.6" cy="93.0" r="4.4" fill="url(#mg_o)"/>
<circle cx="1019.5" cy="80.9" r="4.4" fill="url(#mg_o)"/>
<circle cx="1026.4" cy="69.6" r="4.4" fill="url(#mg_o)"/>
<circle cx="1033.3" cy="58.3" r="4.4" fill="url(#mg_o)"/>
<circle cx="1040.2" cy="60.8" r="4.4" fill="url(#mg_o)"/>
<circle cx="1047.1" cy="71.2" r="4.4" fill="url(#mg_o)"/>
<circle cx="1054.0" cy="64.4" r="4.4" fill="url(#mg_o)"/>
<circle cx="1060.9" cy="56.8" r="4.4" fill="url(#mg_o)"/>
<circle cx="1067.8" cy="51.1" r="4.4" fill="url(#mg_o)"/>
<circle cx="1074.7" cy="58.0" r="4.4" fill="url(#mg_o)"/>
<circle cx="1081.6" cy="66.0" r="4.4" fill="url(#mg_o)"/>
<circle cx="1088.5" cy="77.5" r="4.4" fill="url(#mg_o)"/>
<circle cx="1095.4" cy="89.0" r="4.4" fill="url(#mg_o)"/>
<circle cx="1102.3" cy="89.4" r="4.4" fill="url(#mg_o)"/>
<circle cx="1109.2" cy="89.8" r="4.4" fill="url(#mg_o)"/>
<circle cx="1116.1" cy="94.4" r="4.4" fill="url(#mg_o)"/>
<circle cx="1123.0" cy="105.1" r="4.4" fill="url(#mg_o)"/>
<circle cx="1129.9" cy="115.8" r="4.4" fill="url(#mg_o)"/>
<circle cx="1136.8" cy="112.7" r="4.4" fill="url(#mg_o)"/>
<circle cx="1143.7" cy="113.0" r="4.4" fill="url(#mg_o)"/>
<circle cx="1150.6" cy="119.2" r="4.4" fill="url(#mg_o)"/>
<circle cx="1157.5" cy="125.5" r="4.4" fill="url(#mg_o)"/>
<circle cx="1164.4" cy="127.2" r="4.4" fill="url(#mg_o)"/>
<circle cx="1171.3" cy="127.7" r="4.4" fill="url(#mg_o)"/>
<circle cx="1178.2" cy="130.0" r="4.4" fill="url(#mg_o)"/>
<circle cx="1185.1" cy="134.4" r="4.4" fill="url(#mg_o)"/>
<circle cx="1192.0" cy="137.5" r="4.4" fill="url(#mg_o)"/>
</g>
<g clip-path="url(#cpC)">
<path d="M847.0,165.0 L853.9,165.2 L860.8,165.4 L867.7,165.6 L874.6,165.7 L881.5,165.9 L888.4,166.1 L895.3,166.3 L902.2,166.5 L909.1,166.7 L916.0,165.2 L922.9,163.5 L929.8,161.8 L936.7,160.0 L943.6,158.3 L950.5,156.4 L957.4,153.0 L964.3,149.5 L971.2,146.1 L978.1,142.6 L985.0,138.9 L991.9,134.6 L998.8,130.3 L1005.7,126.0 L1012.6,122.0 L1019.5,118.6 L1026.4,115.1 L1033.3,111.7 L1040.2,105.9 L1047.1,100.2 L1054.0,94.7 L1060.9,92.2 L1067.8,90.7 L1074.7,94.8 L1081.6,99.0 L1088.5,105.2 L1095.4,112.1 L1102.3,118.2 L1109.2,122.8 L1116.1,127.4 L1123.0,131.5 L1129.9,135.0 L1136.8,137.6 L1143.7,139.3 L1150.6,141.0 L1157.5,140.0 L1164.4,137.2 L1171.3,136.1 L1178.2,142.2 L1185.1,144.3 L1192.0,136.7" fill="none" stroke="#4a64a0" stroke-width="2.2"/>
<circle cx="847.0" cy="165.0" r="4.4" fill="url(#mg_b)"/>
<circle cx="853.9" cy="165.2" r="4.4" fill="url(#mg_b)"/>
<circle cx="860.8" cy="165.4" r="4.4" fill="url(#mg_b)"/>
<circle cx="867.7" cy="165.6" r="4.4" fill="url(#mg_b)"/>
<circle cx="874.6" cy="165.7" r="4.4" fill="url(#mg_b)"/>
<circle cx="881.5" cy="165.9" r="4.4" fill="url(#mg_b)"/>
<circle cx="888.4" cy="166.1" r="4.4" fill="url(#mg_b)"/>
<circle cx="895.3" cy="166.3" r="4.4" fill="url(#mg_b)"/>
<circle cx="902.2" cy="166.5" r="4.4" fill="url(#mg_b)"/>
<circle cx="909.1" cy="166.7" r="4.4" fill="url(#mg_b)"/>
<circle cx="916.0" cy="165.2" r="4.4" fill="url(#mg_b)"/>
<circle cx="922.9" cy="163.5" r="4.4" fill="url(#mg_b)"/>
<circle cx="929.8" cy="161.8" r="4.4" fill="url(#mg_b)"/>
<circle cx="936.7" cy="160.0" r="4.4" fill="url(#mg_b)"/>
<circle cx="943.6" cy="158.3" r="4.4" fill="url(#mg_b)"/>
<circle cx="950.5" cy="156.4" r="4.4" fill="url(#mg_b)"/>
<circle cx="957.4" cy="153.0" r="4.4" fill="url(#mg_b)"/>
<circle cx="964.3" cy="149.5" r="4.4" fill="url(#mg_b)"/>
<circle cx="971.2" cy="146.1" r="4.4" fill="url(#mg_b)"/>
<circle cx="978.1" cy="142.6" r="4.4" fill="url(#mg_b)"/>
<circle cx="985.0" cy="138.9" r="4.4" fill="url(#mg_b)"/>
<circle cx="991.9" cy="134.6" r="4.4" fill="url(#mg_b)"/>
<circle cx="998.8" cy="130.3" r="4.4" fill="url(#mg_b)"/>
<circle cx="1005.7" cy="126.0" r="4.4" fill="url(#mg_b)"/>
<circle cx="1012.6" cy="122.0" r="4.4" fill="url(#mg_b)"/>
<circle cx="1019.5" cy="118.6" r="4.4" fill="url(#mg_b)"/>
<circle cx="1026.4" cy="115.1" r="4.4" fill="url(#mg_b)"/>
<circle cx="1033.3" cy="111.7" r="4.4" fill="url(#mg_b)"/>
<circle cx="1040.2" cy="105.9" r="4.4" fill="url(#mg_b)"/>
<circle cx="1047.1" cy="100.2" r="4.4" fill="url(#mg_b)"/>
<circle cx="1054.0" cy="94.7" r="4.4" fill="url(#mg_b)"/>
<circle cx="1060.9" cy="92.2" r="4.4" fill="url(#mg_b)"/>
<circle cx="1067.8" cy="90.7" r="4.4" fill="url(#mg_b)"/>
<circle cx="1074.7" cy="94.8" r="4.4" fill="url(#mg_b)"/>
<circle cx="1081.6" cy="99.0" r="4.4" fill="url(#mg_b)"/>
<circle cx="1088.5" cy="105.2" r="4.4" fill="url(#mg_b)"/>
<circle cx="1095.4" cy="112.1" r="4.4" fill="url(#mg_b)"/>
<circle cx="1102.3" cy="118.2" r="4.4" fill="url(#mg_b)"/>
<circle cx="1109.2" cy="122.8" r="4.4" fill="url(#mg_b)"/>
<circle cx="1116.1" cy="127.4" r="4.4" fill="url(#mg_b)"/>
<circle cx="1123.0" cy="131.5" r="4.4" fill="url(#mg_b)"/>
<circle cx="1129.9" cy="135.0" r="4.4" fill="url(#mg_b)"/>
<circle cx="1136.8" cy="137.6" r="4.4" fill="url(#mg_b)"/>
<circle cx="1143.7" cy="139.3" r="4.4" fill="url(#mg_b)"/>
<circle cx="1150.6" cy="141.0" r="4.4" fill="url(#mg_b)"/>
<circle cx="1157.5" cy="140.0" r="4.4" fill="url(#mg_b)"/>
<circle cx="1164.4" cy="137.2" r="4.4" fill="url(#mg_b)"/>
<circle cx="1171.3" cy="136.1" r="4.4" fill="url(#mg_b)"/>
<circle cx="1178.2" cy="142.2" r="4.4" fill="url(#mg_b)"/>
<circle cx="1185.1" cy="144.3" r="4.4" fill="url(#mg_b)"/>
<circle cx="1192.0" cy="136.7" r="4.4" fill="url(#mg_b)"/>
</g>
<g clip-path="url(#cpC)">
<path d="M847.0,199.3 L853.9,198.9 L860.8,198.6 L867.7,198.3 L874.6,197.9 L881.5,197.6 L888.4,197.2 L895.3,196.9 L902.2,196.5 L909.1,196.2 L916.0,195.9 L922.9,195.5 L929.8,195.2 L936.7,194.8 L943.6,194.5 L950.5,194.1 L957.4,193.8 L964.3,193.5 L971.2,193.1 L978.1,192.8 L985.0,192.4 L991.9,192.1 L998.8,191.8 L1005.7,191.1 L1012.6,190.4 L1019.5,189.7 L1026.4,189.0 L1033.3,188.3 L1040.2,186.6 L1047.1,184.9 L1054.0,183.2 L1060.9,181.4 L1067.8,179.4 L1074.7,175.3 L1081.6,171.3 L1088.5,169.1 L1095.4,172.0 L1102.3,174.9 L1109.2,179.6 L1116.1,187.6 L1123.0,188.0 L1129.9,187.7 L1136.8,187.3 L1143.7,187.0 L1150.6,186.6 L1157.5,185.7 L1164.4,185.2 L1171.3,186.5 L1178.2,187.7 L1185.1,189.0 L1192.0,190.0" fill="none" stroke="#2fb89a" stroke-width="2.2"/>
<circle cx="847.0" cy="199.3" r="4.4" fill="url(#mg_t)"/>
<circle cx="853.9" cy="198.9" r="4.4" fill="url(#mg_t)"/>
<circle cx="860.8" cy="198.6" r="4.4" fill="url(#mg_t)"/>
<circle cx="867.7" cy="198.3" r="4.4" fill="url(#mg_t)"/>
<circle cx="874.6" cy="197.9" r="4.4" fill="url(#mg_t)"/>
<circle cx="881.5" cy="197.6" r="4.4" fill="url(#mg_t)"/>
<circle cx="888.4" cy="197.2" r="4.4" fill="url(#mg_t)"/>
<circle cx="895.3" cy="196.9" r="4.4" fill="url(#mg_t)"/>
<circle cx="902.2" cy="196.5" r="4.4" fill="url(#mg_t)"/>
<circle cx="909.1" cy="196.2" r="4.4" fill="url(#mg_t)"/>
<circle cx="916.0" cy="195.9" r="4.4" fill="url(#mg_t)"/>
<circle cx="922.9" cy="195.5" r="4.4" fill="url(#mg_t)"/>
<circle cx="929.8" cy="195.2" r="4.4" fill="url(#mg_t)"/>
<circle cx="936.7" cy="194.8" r="4.4" fill="url(#mg_t)"/>
<circle cx="943.6" cy="194.5" r="4.4" fill="url(#mg_t)"/>
<circle cx="950.5" cy="194.1" r="4.4" fill="url(#mg_t)"/>
<circle cx="957.4" cy="193.8" r="4.4" fill="url(#mg_t)"/>
<circle cx="964.3" cy="193.5" r="4.4" fill="url(#mg_t)"/>
<circle cx="971.2" cy="193.1" r="4.4" fill="url(#mg_t)"/>
<circle cx="978.1" cy="192.8" r="4.4" fill="url(#mg_t)"/>
<circle cx="985.0" cy="192.4" r="4.4" fill="url(#mg_t)"/>
<circle cx="991.9" cy="192.1" r="4.4" fill="url(#mg_t)"/>
<circle cx="998.8" cy="191.8" r="4.4" fill="url(#mg_t)"/>
<circle cx="1005.7" cy="191.1" r="4.4" fill="url(#mg_t)"/>
<circle cx="1012.6" cy="190.4" r="4.4" fill="url(#mg_t)"/>
<circle cx="1019.5" cy="189.7" r="4.4" fill="url(#mg_t)"/>
<circle cx="1026.4" cy="189.0" r="4.4" fill="url(#mg_t)"/>
<circle cx="1033.3" cy="188.3" r="4.4" fill="url(#mg_t)"/>
<circle cx="1040.2" cy="186.6" r="4.4" fill="url(#mg_t)"/>
<circle cx="1047.1" cy="184.9" r="4.4" fill="url(#mg_t)"/>
<circle cx="1054.0" cy="183.2" r="4.4" fill="url(#mg_t)"/>
<circle cx="1060.9" cy="181.4" r="4.4" fill="url(#mg_t)"/>
<circle cx="1067.8" cy="179.4" r="4.4" fill="url(#mg_t)"/>
<circle cx="1074.7" cy="175.3" r="4.4" fill="url(#mg_t)"/>
<circle cx="1081.6" cy="171.3" r="4.4" fill="url(#mg_t)"/>
<circle cx="1088.5" cy="169.1" r="4.4" fill="url(#mg_t)"/>
<circle cx="1095.4" cy="172.0" r="4.4" fill="url(#mg_t)"/>
<circle cx="1102.3" cy="174.9" r="4.4" fill="url(#mg_t)"/>
<circle cx="1109.2" cy="179.6" r="4.4" fill="url(#mg_t)"/>
<circle cx="1116.1" cy="187.6" r="4.4" fill="url(#mg_t)"/>
<circle cx="1123.0" cy="188.0" r="4.4" fill="url(#mg_t)"/>
<circle cx="1129.9" cy="187.7" r="4.4" fill="url(#mg_t)"/>
<circle cx="1136.8" cy="187.3" r="4.4" fill="url(#mg_t)"/>
<circle cx="1143.7" cy="187.0" r="4.4" fill="url(#mg_t)"/>
<circle cx="1150.6" cy="186.6" r="4.4" fill="url(#mg_t)"/>
<circle cx="1157.5" cy="185.7" r="4.4" fill="url(#mg_t)"/>
<circle cx="1164.4" cy="185.2" r="4.4" fill="url(#mg_t)"/>
<circle cx="1171.3" cy="186.5" r="4.4" fill="url(#mg_t)"/>
<circle cx="1178.2" cy="187.7" r="4.4" fill="url(#mg_t)"/>
<circle cx="1185.1" cy="189.0" r="4.4" fill="url(#mg_t)"/>
<circle cx="1192.0" cy="190.0" r="4.4" fill="url(#mg_t)"/>
</g>
<rect x="846" y="10.7" width="345.70000000000005" height="256.6" fill="none" stroke="#000" stroke-width="2.6"/>
<line x1="889.4" y1="267.3" x2="889.4" y2="271.8" stroke="#000" stroke-width="2"/>
<text x="889.4" y="288.0" font-family='"Liberation Serif", serif' font-size="16" font-weight="bold" text-anchor="middle" fill="#000">4</text>
<line x1="975.7" y1="267.3" x2="975.7" y2="271.8" stroke="#000" stroke-width="2"/>
<text x="975.7" y="288.0" font-family='"Liberation Serif", serif' font-size="16" font-weight="bold" text-anchor="middle" fill="#000">8</text>
<line x1="1062.0" y1="267.3" x2="1062.0" y2="271.8" stroke="#000" stroke-width="2"/>
<text x="1062.0" y="288.0" font-family='"Liberation Serif", serif' font-size="16" font-weight="bold" text-anchor="middle" fill="#000">12</text>
<line x1="1148.3" y1="267.3" x2="1148.3" y2="271.8" stroke="#000" stroke-width="2"/>
<text x="1148.3" y="288.0" font-family='"Liberation Serif", serif' font-size="16" font-weight="bold" text-anchor="middle" fill="#000">16</text>
<line x1="932.5" y1="267.3" x2="932.5" y2="269.8" stroke="#000" stroke-width="1.6"/>
<line x1="1018.8" y1="267.3" x2="1018.8" y2="269.8" stroke="#000" stroke-width="1.6"/>
<line x1="1105.2" y1="267.3" x2="1105.2" y2="269.8" stroke="#000" stroke-width="1.6"/>
<line x1="841.5" y1="216.7" x2="846" y2="216.7" stroke="#000" stroke-width="2"/>
<text x="837.5" y="222.1" font-family='"Liberation Serif", serif' font-size="16" font-weight="bold" text-anchor="end" fill="#000">0.0</text>
<line x1="841.5" y1="165.0" x2="846" y2="165.0" stroke="#000" stroke-width="2"/>
<text x="837.5" y="170.4" font-family='"Liberation Serif", serif' font-size="16" font-weight="bold" text-anchor="end" fill="#000">0.4</text>
<line x1="841.5" y1="113.3" x2="846" y2="113.3" stroke="#000" stroke-width="2"/>
<text x="837.5" y="118.7" font-family='"Liberation Serif", serif' font-size="16" font-weight="bold" text-anchor="end" fill="#000">0.8</text>
<line x1="841.5" y1="61.7" x2="846" y2="61.7" stroke="#000" stroke-width="2"/>
<text x="837.5" y="67.1" font-family='"Liberation Serif", serif' font-size="16" font-weight="bold" text-anchor="end" fill="#000">1.2</text>
<line x1="843.5" y1="242.5" x2="846" y2="242.5" stroke="#000" stroke-width="1.6"/>
<line x1="843.5" y1="190.9" x2="846" y2="190.9" stroke="#000" stroke-width="1.6"/>
<line x1="843.5" y1="139.2" x2="846" y2="139.2" stroke="#000" stroke-width="1.6"/>
<line x1="843.5" y1="87.5" x2="846" y2="87.5" stroke="#000" stroke-width="1.6"/>
<line x1="843.5" y1="35.8" x2="846" y2="35.8" stroke="#000" stroke-width="1.6"/>
<text x="1018.0" y="309.0" font-family='"Liberation Serif", serif' font-size="21" font-weight="bold" text-anchor="middle" fill="#000">Frequency (GHz)</text>
<text x="813.0" y="140.0" font-family='"Liberation Serif", serif' font-size="21" font-weight="bold" text-anchor="middle" fill="#000" transform="rotate(-90 813 140)">tanδ<tspan font-size="13" dy="4">ε</tspan></text>
<text x="819.7" y="39.3" font-family='"Liberation Serif", serif' font-size="36" font-weight="bold" text-anchor="middle" fill="#000">(c)</text>
<rect x="896.5" y="33.0" width="101" height="76.5" fill="#000"/>
<rect x="893" y="29.5" width="101" height="76.5" fill="#fff" stroke="#000" stroke-width="1.3"/>
<line x1="899" y1="35.5" x2="928" y2="35.5" stroke="#5b8e3a" stroke-width="2.6"/>
<circle cx="913.5" cy="35.5" r="4.6" fill="#5b8e3a"/>
<circle cx="912.5" cy="34.3" r="1.38" fill="#fff" fill-opacity="0.75"/>
<text x="930.0" y="39.7" font-family='"Liberation Serif", serif' font-size="11.8" font-weight="bold" text-anchor="start" fill="#000">SiC@MoO<tspan font-size="8" dy="3">3</tspan></text>
<line x1="899" y1="54" x2="928" y2="54" stroke="#b09428" stroke-width="2.6"/>
<circle cx="913.5" cy="54" r="4.6" fill="#b09428"/>
<circle cx="912.5" cy="52.8" r="1.38" fill="#fff" fill-opacity="0.75"/>
<text x="930.0" y="58.2" font-family='"Liberation Serif", serif' font-size="11.8" font-weight="bold" text-anchor="start" fill="#000">SiC@MO-t2</text>
<line x1="899" y1="69" x2="928" y2="69" stroke="#d2722e" stroke-width="2.6"/>
<circle cx="913.5" cy="69" r="4.6" fill="#d2722e"/>
<circle cx="912.5" cy="67.8" r="1.38" fill="#fff" fill-opacity="0.75"/>
<text x="930.0" y="73.2" font-family='"Liberation Serif", serif' font-size="11.8" font-weight="bold" text-anchor="start" fill="#000">SiC@MO-t4</text>
<line x1="899" y1="84" x2="928" y2="84" stroke="#4a64a0" stroke-width="2.6"/>
<circle cx="913.5" cy="84" r="4.6" fill="#4a64a0"/>
<circle cx="912.5" cy="82.8" r="1.38" fill="#fff" fill-opacity="0.75"/>
<text x="930.0" y="88.2" font-family='"Liberation Serif", serif' font-size="11.8" font-weight="bold" text-anchor="start" fill="#000">SiC@MO-t6</text>
<line x1="899" y1="99" x2="928" y2="99" stroke="#2fb89a" stroke-width="2.6"/>
<circle cx="913.5" cy="99" r="4.6" fill="#2fb89a"/>
<circle cx="912.5" cy="97.8" r="1.38" fill="#fff" fill-opacity="0.75"/>
<text x="930.0" y="103.2" font-family='"Liberation Serif", serif' font-size="11.8" font-weight="bold" text-anchor="start" fill="#000">SiC@MO-t8</text>
<line x1="106.7" y1="323.7" x2="106.7" y2="587.7" stroke="#6a6a6a" stroke-width="1.4" stroke-dasharray="5.5,3.5"/>
<line x1="189.5" y1="323.7" x2="189.5" y2="587.7" stroke="#6a6a6a" stroke-width="1.4" stroke-dasharray="5.5,3.5"/>
<line x1="272.3" y1="323.7" x2="272.3" y2="587.7" stroke="#6a6a6a" stroke-width="1.4" stroke-dasharray="5.5,3.5"/>
<line x1="355.1" y1="323.7" x2="355.1" y2="587.7" stroke="#6a6a6a" stroke-width="1.4" stroke-dasharray="5.5,3.5"/>
<line x1="65.3" y1="535.7" x2="398.3" y2="535.7" stroke="#6a6a6a" stroke-width="1.4" stroke-dasharray="5.5,3.5"/>
<line x1="65.3" y1="482.4" x2="398.3" y2="482.4" stroke="#6a6a6a" stroke-width="1.4" stroke-dasharray="5.5,3.5"/>
<line x1="65.3" y1="429.0" x2="398.3" y2="429.0" stroke="#6a6a6a" stroke-width="1.4" stroke-dasharray="5.5,3.5"/>
<line x1="65.3" y1="375.7" x2="398.3" y2="375.7" stroke="#6a6a6a" stroke-width="1.4" stroke-dasharray="5.5,3.5"/>
<path d="M171.3,481.2 L165.0,481.2 L164.1,487.5 L156.9,480.2 L151.4,483.9 L149.0,478.0 L147.0,471.2 L156.0,472.1 L161.4,471.2 L162.0,477.0 L168.0,485.0 L158.0,466.0 L153.2,463.1 L160.5,457.7 L151.4,456.8 L144.2,463.1 L140.0,468.0 L143.3,474.8 L138.8,480.2 L141.5,485.7 L136.1,489.3 L130.7,487.9 L128.0,483.0 L128.9,477.5 L124.4,471.2 L133.0,472.0 L135.0,478.0 L136.1,467.6 L129.8,462.2 L120.8,458.6 L113.5,456.8 L110.8,455.0 L110.8,455.0 L110.0,450.5 L113.5,445.0 L119.0,440.5 L125.7,432.9 L133.0,428.0 L137.9,425.2 L143.3,421.6 L149.6,417.0 L155.5,413.5 L157.8,410.8 L165.0,410.8 L172.2,407.0 L180.8,404.0 L188.9,403.5 L197.8,402.7 L209.1,404.9 L217.6,407.7 L226.1,411.2 L236.7,412.0 L245.9,415.5 L248.1,419.7 L256.6,420.5 L260.8,426.8 L260.8,426.8 L265.0,428.0 L270.0,431.0 L272.2,436.7 L275.0,440.0 L277.8,443.1 L279.2,449.5 L278.0,453.0 L281.0,456.0 L284.9,458.0 L287.0,461.0 L288.0,465.0 L285.0,468.0 L280.0,471.0 L275.0,474.0 L272.0,477.0 L274.0,481.0 L279.0,482.0 L284.0,483.0 L287.5,486.0 L290.0,490.0 L292.0,494.0 L294.8,498.5 L298.0,498.5 L301.9,497.7 L306.0,496.5 L310.0,495.5 L317.5,493.4 L324.0,492.0 L331.6,490.6 L337.0,491.0 L343.0,490.6 L348.0,490.0 L352.9,490.6" fill="none" stroke="#b09428" stroke-width="1.6" stroke-linejoin="round"/>
<circle cx="171.3" cy="481.2" r="4.0" fill="url(#mg_y)"/>
<circle cx="165.0" cy="481.2" r="4.0" fill="url(#mg_y)"/>
<circle cx="164.1" cy="487.5" r="4.0" fill="url(#mg_y)"/>
<circle cx="156.9" cy="480.2" r="4.0" fill="url(#mg_y)"/>
<circle cx="151.4" cy="483.9" r="4.0" fill="url(#mg_y)"/>
<circle cx="149.0" cy="478.0" r="4.0" fill="url(#mg_y)"/>
<circle cx="147.0" cy="471.2" r="4.0" fill="url(#mg_y)"/>
<circle cx="156.0" cy="472.1" r="4.0" fill="url(#mg_y)"/>
<circle cx="161.4" cy="471.2" r="4.0" fill="url(#mg_y)"/>
<circle cx="162.0" cy="477.0" r="4.0" fill="url(#mg_y)"/>
<circle cx="168.0" cy="485.0" r="4.0" fill="url(#mg_y)"/>
<circle cx="158.0" cy="466.0" r="4.0" fill="url(#mg_y)"/>
<circle cx="153.2" cy="463.1" r="4.0" fill="url(#mg_y)"/>
<circle cx="160.5" cy="457.7" r="4.0" fill="url(#mg_y)"/>
<circle cx="151.4" cy="456.8" r="4.0" fill="url(#mg_y)"/>
<circle cx="144.2" cy="463.1" r="4.0" fill="url(#mg_y)"/>
<circle cx="140.0" cy="468.0" r="4.0" fill="url(#mg_y)"/>
<circle cx="143.3" cy="474.8" r="4.0" fill="url(#mg_y)"/>
<circle cx="138.8" cy="480.2" r="4.0" fill="url(#mg_y)"/>
<circle cx="141.5" cy="485.7" r="4.0" fill="url(#mg_y)"/>
<circle cx="136.1" cy="489.3" r="4.0" fill="url(#mg_y)"/>
<circle cx="130.7" cy="487.9" r="4.0" fill="url(#mg_y)"/>
<circle cx="128.0" cy="483.0" r="4.0" fill="url(#mg_y)"/>
<circle cx="128.9" cy="477.5" r="4.0" fill="url(#mg_y)"/>
<circle cx="124.4" cy="471.2" r="4.0" fill="url(#mg_y)"/>
<circle cx="133.0" cy="472.0" r="4.0" fill="url(#mg_y)"/>
<circle cx="135.0" cy="478.0" r="4.0" fill="url(#mg_y)"/>
<circle cx="136.1" cy="467.6" r="4.0" fill="url(#mg_y)"/>
<circle cx="129.8" cy="462.2" r="4.0" fill="url(#mg_y)"/>
<circle cx="120.8" cy="458.6" r="4.0" fill="url(#mg_y)"/>
<circle cx="113.5" cy="456.8" r="4.0" fill="url(#mg_y)"/>
<circle cx="110.8" cy="455.0" r="4.0" fill="url(#mg_y)"/>
<circle cx="110.8" cy="455.0" r="4.0" fill="url(#mg_y)"/>
<circle cx="110.0" cy="450.5" r="4.0" fill="url(#mg_y)"/>
<circle cx="113.5" cy="445.0" r="4.0" fill="url(#mg_y)"/>
<circle cx="119.0" cy="440.5" r="4.0" fill="url(#mg_y)"/>
<circle cx="125.7" cy="432.9" r="4.0" fill="url(#mg_y)"/>
<circle cx="133.0" cy="428.0" r="4.0" fill="url(#mg_y)"/>
<circle cx="137.9" cy="425.2" r="4.0" fill="url(#mg_y)"/>
<circle cx="143.3" cy="421.6" r="4.0" fill="url(#mg_y)"/>
<circle cx="149.6" cy="417.0" r="4.0" fill="url(#mg_y)"/>
<circle cx="155.5" cy="413.5" r="4.0" fill="url(#mg_y)"/>
<circle cx="157.8" cy="410.8" r="4.0" fill="url(#mg_y)"/>
<circle cx="165.0" cy="410.8" r="4.0" fill="url(#mg_y)"/>
<circle cx="172.2" cy="407.0" r="4.0" fill="url(#mg_y)"/>
<circle cx="180.8" cy="404.0" r="4.0" fill="url(#mg_y)"/>
<circle cx="188.9" cy="403.5" r="4.0" fill="url(#mg_y)"/>
<circle cx="197.8" cy="402.7" r="4.0" fill="url(#mg_y)"/>
<circle cx="209.1" cy="404.9" r="4.0" fill="url(#mg_y)"/>
<circle cx="217.6" cy="407.7" r="4.0" fill="url(#mg_y)"/>
<circle cx="226.1" cy="411.2" r="4.0" fill="url(#mg_y)"/>
<circle cx="236.7" cy="412.0" r="4.0" fill="url(#mg_y)"/>
<circle cx="245.9" cy="415.5" r="4.0" fill="url(#mg_y)"/>
<circle cx="248.1" cy="419.7" r="4.0" fill="url(#mg_y)"/>
<circle cx="256.6" cy="420.5" r="4.0" fill="url(#mg_y)"/>
<circle cx="260.8" cy="426.8" r="4.0" fill="url(#mg_y)"/>
<circle cx="260.8" cy="426.8" r="4.0" fill="url(#mg_y)"/>
<circle cx="265.0" cy="428.0" r="4.0" fill="url(#mg_y)"/>
<circle cx="267.5" cy="429.5" r="4.0" fill="url(#mg_y)"/>
<circle cx="270.0" cy="431.0" r="4.0" fill="url(#mg_y)"/>
<circle cx="271.1" cy="433.9" r="4.0" fill="url(#mg_y)"/>
<circle cx="272.2" cy="436.7" r="4.0" fill="url(#mg_y)"/>
<circle cx="275.0" cy="440.0" r="4.0" fill="url(#mg_y)"/>
<circle cx="277.8" cy="443.1" r="4.0" fill="url(#mg_y)"/>
<circle cx="278.5" cy="446.3" r="4.0" fill="url(#mg_y)"/>
<circle cx="279.2" cy="449.5" r="4.0" fill="url(#mg_y)"/>
<circle cx="278.0" cy="453.0" r="4.0" fill="url(#mg_y)"/>
<circle cx="281.0" cy="456.0" r="4.0" fill="url(#mg_y)"/>
<circle cx="284.9" cy="458.0" r="4.0" fill="url(#mg_y)"/>
<circle cx="287.0" cy="461.0" r="4.0" fill="url(#mg_y)"/>
<circle cx="288.0" cy="465.0" r="4.0" fill="url(#mg_y)"/>
<circle cx="285.0" cy="468.0" r="4.0" fill="url(#mg_y)"/>
<circle cx="282.5" cy="469.5" r="4.0" fill="url(#mg_y)"/>
<circle cx="280.0" cy="471.0" r="4.0" fill="url(#mg_y)"/>
<circle cx="277.5" cy="472.5" r="4.0" fill="url(#mg_y)"/>
<circle cx="275.0" cy="474.0" r="4.0" fill="url(#mg_y)"/>
<circle cx="272.0" cy="477.0" r="4.0" fill="url(#mg_y)"/>
<circle cx="274.0" cy="481.0" r="4.0" fill="url(#mg_y)"/>
<circle cx="276.5" cy="481.5" r="4.0" fill="url(#mg_y)"/>
<circle cx="279.0" cy="482.0" r="4.0" fill="url(#mg_y)"/>
<circle cx="281.5" cy="482.5" r="4.0" fill="url(#mg_y)"/>
<circle cx="284.0" cy="483.0" r="4.0" fill="url(#mg_y)"/>
<circle cx="287.5" cy="486.0" r="4.0" fill="url(#mg_y)"/>
<circle cx="290.0" cy="490.0" r="4.0" fill="url(#mg_y)"/>
<circle cx="292.0" cy="494.0" r="4.0" fill="url(#mg_y)"/>
<circle cx="293.4" cy="496.2" r="4.0" fill="url(#mg_y)"/>
<circle cx="294.8" cy="498.5" r="4.0" fill="url(#mg_y)"/>
<circle cx="298.0" cy="498.5" r="4.0" fill="url(#mg_y)"/>
<circle cx="301.9" cy="497.7" r="4.0" fill="url(#mg_y)"/>
<circle cx="306.0" cy="496.5" r="4.0" fill="url(#mg_y)"/>
<circle cx="310.0" cy="495.5" r="4.0" fill="url(#mg_y)"/>
<circle cx="313.8" cy="494.4" r="4.0" fill="url(#mg_y)"/>
<circle cx="317.5" cy="493.4" r="4.0" fill="url(#mg_y)"/>
<circle cx="320.8" cy="492.7" r="4.0" fill="url(#mg_y)"/>
<circle cx="324.0" cy="492.0" r="4.0" fill="url(#mg_y)"/>
<circle cx="327.8" cy="491.3" r="4.0" fill="url(#mg_y)"/>
<circle cx="331.6" cy="490.6" r="4.0" fill="url(#mg_y)"/>
<circle cx="334.3" cy="490.8" r="4.0" fill="url(#mg_y)"/>
<circle cx="337.0" cy="491.0" r="4.0" fill="url(#mg_y)"/>
<circle cx="340.0" cy="490.8" r="4.0" fill="url(#mg_y)"/>
<circle cx="343.0" cy="490.6" r="4.0" fill="url(#mg_y)"/>
<circle cx="345.5" cy="490.3" r="4.0" fill="url(#mg_y)"/>
<circle cx="348.0" cy="490.0" r="4.0" fill="url(#mg_y)"/>
<circle cx="350.4" cy="490.3" r="4.0" fill="url(#mg_y)"/>
<circle cx="352.9" cy="490.6" r="4.0" fill="url(#mg_y)"/>
<ellipse cx="126.7" cy="450" rx="14" ry="15" fill="none" stroke="#d01818" stroke-width="1.3" stroke-dasharray="1.3,1.3"/>
<ellipse cx="250.2" cy="455.6" rx="27.6" ry="30.8" fill="none" stroke="#d01818" stroke-width="1.3" stroke-dasharray="1.3,1.3"/>
<ellipse cx="302.6" cy="476.4" rx="19.5" ry="21.5" fill="none" stroke="#d01818" stroke-width="1.3" stroke-dasharray="1.3,1.3"/>
<rect x="65.3" y="323.7" width="333.0" height="264.00000000000006" fill="none" stroke="#000" stroke-width="2.6"/>
<line x1="106.7" y1="587.7" x2="106.7" y2="592.2" stroke="#000" stroke-width="2"/>
<text x="106.7" y="610.5" font-family='"Liberation Serif", serif' font-size="16" font-weight="bold" text-anchor="middle" fill="#000">7</text>
<line x1="189.5" y1="587.7" x2="189.5" y2="592.2" stroke="#000" stroke-width="2"/>
<text x="189.5" y="610.5" font-family='"Liberation Serif", serif' font-size="16" font-weight="bold" text-anchor="middle" fill="#000">8</text>
<line x1="272.3" y1="587.7" x2="272.3" y2="592.2" stroke="#000" stroke-width="2"/>
<text x="272.3" y="610.5" font-family='"Liberation Serif", serif' font-size="16" font-weight="bold" text-anchor="middle" fill="#000">9</text>
<line x1="355.1" y1="587.7" x2="355.1" y2="592.2" stroke="#000" stroke-width="2"/>
<text x="355.1" y="610.5" font-family='"Liberation Serif", serif' font-size="16" font-weight="bold" text-anchor="middle" fill="#000">10</text>
<line x1="65.3" y1="587.7" x2="65.3" y2="590.2" stroke="#000" stroke-width="1.6"/>
<line x1="148.1" y1="587.7" x2="148.1" y2="590.2" stroke="#000" stroke-width="1.6"/>
<line x1="230.9" y1="587.7" x2="230.9" y2="590.2" stroke="#000" stroke-width="1.6"/>
<line x1="313.7" y1="587.7" x2="313.7" y2="590.2" stroke="#000" stroke-width="1.6"/>
<line x1="396.5" y1="587.7" x2="396.5" y2="590.2" stroke="#000" stroke-width="1.6"/>
<line x1="60.8" y1="535.7" x2="65.3" y2="535.7" stroke="#000" stroke-width="2"/>
<text x="56.5" y="540.9" font-family='"Liberation Serif", serif' font-size="16" font-weight="bold" text-anchor="end" fill="#000">1</text>
<line x1="60.8" y1="482.4" x2="65.3" y2="482.4" stroke="#000" stroke-width="2"/>
<text x="56.5" y="487.6" font-family='"Liberation Serif", serif' font-size="16" font-weight="bold" text-anchor="end" fill="#000">2</text>
<line x1="60.8" y1="429.0" x2="65.3" y2="429.0" stroke="#000" stroke-width="2"/>
<text x="56.5" y="434.2" font-family='"Liberation Serif", serif' font-size="16" font-weight="bold" text-anchor="end" fill="#000">3</text>
<line x1="60.8" y1="375.7" x2="65.3" y2="375.7" stroke="#000" stroke-width="2"/>
<text x="56.5" y="380.9" font-family='"Liberation Serif", serif' font-size="16" font-weight="bold" text-anchor="end" fill="#000">4</text>
<line x1="62.8" y1="562.4" x2="65.3" y2="562.4" stroke="#000" stroke-width="1.6"/>
<line x1="62.8" y1="509.0" x2="65.3" y2="509.0" stroke="#000" stroke-width="1.6"/>
<line x1="62.8" y1="455.7" x2="65.3" y2="455.7" stroke="#000" stroke-width="1.6"/>
<line x1="62.8" y1="402.4" x2="65.3" y2="402.4" stroke="#000" stroke-width="1.6"/>
<line x1="62.8" y1="349.0" x2="65.3" y2="349.0" stroke="#000" stroke-width="1.6"/>
<text x="240.5" y="636.0" font-family='"Liberation Serif", serif' font-size="32" font-weight="bold" text-anchor="middle" fill="#000">ε'</text>
<text x="42.3" y="447.0" font-family='"Liberation Serif", serif' font-size="30" font-weight="bold" text-anchor="middle" fill="#000" transform="rotate(-90 42.3 447)">ε''</text>
<text x="30.8" y="353.0" font-family='"Liberation Serif", serif' font-size="36" font-weight="bold" text-anchor="middle" fill="#000">(d)</text>
<rect x="296.2" y="332.8" width="95.60000000000002" height="14.0" fill="#000"/>
<rect x="292.7" y="329.3" width="95.60000000000002" height="14.0" fill="#fff" stroke="#000" stroke-width="1.3"/>
<line x1="299" y1="336.3" x2="326" y2="336.3" stroke="#b09428" stroke-width="1.8"/>
<circle cx="312.5" cy="336.3" r="4" fill="#b09428"/>
<circle cx="311.7" cy="335.40000000000003" r="1" fill="#fff" fill-opacity="0.75"/>
<text x="327.0" y="340.4" font-family='"Liberation Serif", serif' font-size="11.5" font-weight="bold" text-anchor="start" fill="#000">SiC@MO-t2</text>
<line x1="496.7" y1="326" x2="496.7" y2="586.5" stroke="#6a6a6a" stroke-width="1.4" stroke-dasharray="5.5,3.5"/>
<line x1="582.0" y1="326" x2="582.0" y2="586.5" stroke="#6a6a6a" stroke-width="1.4" stroke-dasharray="5.5,3.5"/>
<line x1="667.3" y1="326" x2="667.3" y2="586.5" stroke="#6a6a6a" stroke-width="1.4" stroke-dasharray="5.5,3.5"/>
<line x1="752.7" y1="326" x2="752.7" y2="586.5" stroke="#6a6a6a" stroke-width="1.4" stroke-dasharray="5.5,3.5"/>
<line x1="454.7" y1="546.0" x2="793.5" y2="546.0" stroke="#6a6a6a" stroke-width="1.4" stroke-dasharray="5.5,3.5"/>
<line x1="454.7" y1="486.0" x2="793.5" y2="486.0" stroke="#6a6a6a" stroke-width="1.4" stroke-dasharray="5.5,3.5"/>
<line x1="454.7" y1="426.0" x2="793.5" y2="426.0" stroke="#6a6a6a" stroke-width="1.4" stroke-dasharray="5.5,3.5"/>
<line x1="454.7" y1="366.0" x2="793.5" y2="366.0" stroke="#6a6a6a" stroke-width="1.4" stroke-dasharray="5.5,3.5"/>
<path d="M544.4,533.6 L539.1,531.0 L544.4,524.4 L540.4,519.2 L531.3,521.8 L528.6,516.5 L535.2,513.9 L540.4,511.3 L537.8,500.8 L532.6,496.8 L524.7,511.3 L522.1,508.7 L520.8,494.2 L516.8,490.3 L519.4,486.3 L531.3,485.0 L532.6,477.2 L526.0,471.9 L520.8,465.3 L515.5,461.4 L522.1,457.5 L519.4,448.3 L518.1,441.7 L519.4,436.5 L523.4,432.5 L531.3,428.6 L540.4,428.6 L551.0,428.6 L557.5,427.3 L553.6,419.4 L551.0,411.5 L545.7,411.5 L552.3,401.7 L560.1,403.6 L562.8,408.9 L560.1,416.8 L560.1,423.3 L562.0,412.0 L566.0,402.0 L570.6,397.1 L581.1,397.1 L589.0,397.1 L591.0,389.2 L604.1,393.1 L604.8,397.1 L619.2,390.5 L623.2,397.1 L620.3,390.5 L622.9,396.4 L636.7,395.1 L646.5,399.7 L653.1,406.3 L658.3,411.5 L663.6,418.1 L666.2,425.9 L667.5,431.2 L664.9,437.8 L663.6,447.0 L661.0,453.5 L670.1,450.9 L675.4,453.5 L680.6,456.1 L685.9,461.4 L687.2,470.6 L689.8,477.2 L693.8,485.0 L699.0,489.0 L701.6,491.6 L697.7,494.2 L695.1,503.4 L693.8,516.5 L699.0,520.5 L706.9,516.5 L717.4,510.0 L729.2,500.8" fill="none" stroke="#d2722e" stroke-width="1.6" stroke-linejoin="round"/>
<circle cx="544.4" cy="533.6" r="4.0" fill="url(#mg_o)"/>
<circle cx="539.1" cy="531.0" r="4.0" fill="url(#mg_o)"/>
<circle cx="544.4" cy="524.4" r="4.0" fill="url(#mg_o)"/>
<circle cx="540.4" cy="519.2" r="4.0" fill="url(#mg_o)"/>
<circle cx="531.3" cy="521.8" r="4.0" fill="url(#mg_o)"/>
<circle cx="528.6" cy="516.5" r="4.0" fill="url(#mg_o)"/>
<circle cx="535.2" cy="513.9" r="4.0" fill="url(#mg_o)"/>
<circle cx="540.4" cy="511.3" r="4.0" fill="url(#mg_o)"/>
<circle cx="539.1" cy="506.1" r="4.0" fill="url(#mg_o)"/>
<circle cx="537.8" cy="500.8" r="4.0" fill="url(#mg_o)"/>
<circle cx="532.6" cy="496.8" r="4.0" fill="url(#mg_o)"/>
<circle cx="528.7" cy="504.1" r="4.0" fill="url(#mg_o)"/>
<circle cx="524.7" cy="511.3" r="4.0" fill="url(#mg_o)"/>
<circle cx="522.1" cy="508.7" r="4.0" fill="url(#mg_o)"/>
<circle cx="521.5" cy="501.4" r="4.0" fill="url(#mg_o)"/>
<circle cx="520.8" cy="494.2" r="4.0" fill="url(#mg_o)"/>
<circle cx="516.8" cy="490.3" r="4.0" fill="url(#mg_o)"/>
<circle cx="519.4" cy="486.3" r="4.0" fill="url(#mg_o)"/>
<circle cx="525.3" cy="485.6" r="4.0" fill="url(#mg_o)"/>
<circle cx="531.3" cy="485.0" r="4.0" fill="url(#mg_o)"/>
<circle cx="532.6" cy="477.2" r="4.0" fill="url(#mg_o)"/>
<circle cx="526.0" cy="471.9" r="4.0" fill="url(#mg_o)"/>
<circle cx="520.8" cy="465.3" r="4.0" fill="url(#mg_o)"/>
<circle cx="515.5" cy="461.4" r="4.0" fill="url(#mg_o)"/>
<circle cx="522.1" cy="457.5" r="4.0" fill="url(#mg_o)"/>
<circle cx="519.4" cy="448.3" r="4.0" fill="url(#mg_o)"/>
<circle cx="518.1" cy="441.7" r="4.0" fill="url(#mg_o)"/>
<circle cx="519.4" cy="436.5" r="4.0" fill="url(#mg_o)"/>
<circle cx="523.4" cy="432.5" r="4.0" fill="url(#mg_o)"/>
<circle cx="531.3" cy="428.6" r="4.0" fill="url(#mg_o)"/>
<circle cx="540.4" cy="428.6" r="4.0" fill="url(#mg_o)"/>
<circle cx="545.7" cy="428.6" r="4.0" fill="url(#mg_o)"/>
<circle cx="551.0" cy="428.6" r="4.0" fill="url(#mg_o)"/>
<circle cx="557.5" cy="427.3" r="4.0" fill="url(#mg_o)"/>
<circle cx="553.6" cy="419.4" r="4.0" fill="url(#mg_o)"/>
<circle cx="551.0" cy="411.5" r="4.0" fill="url(#mg_o)"/>
<circle cx="545.7" cy="411.5" r="4.0" fill="url(#mg_o)"/>
<circle cx="549.0" cy="406.6" r="4.0" fill="url(#mg_o)"/>
<circle cx="552.3" cy="401.7" r="4.0" fill="url(#mg_o)"/>
<circle cx="560.1" cy="403.6" r="4.0" fill="url(#mg_o)"/>
<circle cx="562.8" cy="408.9" r="4.0" fill="url(#mg_o)"/>
<circle cx="560.1" cy="416.8" r="4.0" fill="url(#mg_o)"/>
<circle cx="560.1" cy="423.3" r="4.0" fill="url(#mg_o)"/>
<circle cx="561.0" cy="417.6" r="4.0" fill="url(#mg_o)"/>
<circle cx="562.0" cy="412.0" r="4.0" fill="url(#mg_o)"/>
<circle cx="564.0" cy="407.0" r="4.0" fill="url(#mg_o)"/>
<circle cx="566.0" cy="402.0" r="4.0" fill="url(#mg_o)"/>
<circle cx="570.6" cy="397.1" r="4.0" fill="url(#mg_o)"/>
<circle cx="575.9" cy="397.1" r="4.0" fill="url(#mg_o)"/>
<circle cx="581.1" cy="397.1" r="4.0" fill="url(#mg_o)"/>
<circle cx="589.0" cy="397.1" r="4.0" fill="url(#mg_o)"/>
<circle cx="591.0" cy="389.2" r="4.0" fill="url(#mg_o)"/>
<circle cx="597.5" cy="391.1" r="4.0" fill="url(#mg_o)"/>
<circle cx="604.1" cy="393.1" r="4.0" fill="url(#mg_o)"/>
<circle cx="604.8" cy="397.1" r="4.0" fill="url(#mg_o)"/>
<circle cx="612.0" cy="393.8" r="4.0" fill="url(#mg_o)"/>
<circle cx="619.2" cy="390.5" r="4.0" fill="url(#mg_o)"/>
<circle cx="623.2" cy="397.1" r="4.0" fill="url(#mg_o)"/>
<circle cx="620.3" cy="390.5" r="4.0" fill="url(#mg_o)"/>
<circle cx="622.9" cy="396.4" r="4.0" fill="url(#mg_o)"/>
<circle cx="629.8" cy="395.8" r="4.0" fill="url(#mg_o)"/>
<circle cx="636.7" cy="395.1" r="4.0" fill="url(#mg_o)"/>
<circle cx="641.6" cy="397.4" r="4.0" fill="url(#mg_o)"/>
<circle cx="646.5" cy="399.7" r="4.0" fill="url(#mg_o)"/>
<circle cx="649.8" cy="403.0" r="4.0" fill="url(#mg_o)"/>
<circle cx="653.1" cy="406.3" r="4.0" fill="url(#mg_o)"/>
<circle cx="658.3" cy="411.5" r="4.0" fill="url(#mg_o)"/>
<circle cx="663.6" cy="418.1" r="4.0" fill="url(#mg_o)"/>
<circle cx="666.2" cy="425.9" r="4.0" fill="url(#mg_o)"/>
<circle cx="667.5" cy="431.2" r="4.0" fill="url(#mg_o)"/>
<circle cx="664.9" cy="437.8" r="4.0" fill="url(#mg_o)"/>
<circle cx="664.2" cy="442.4" r="4.0" fill="url(#mg_o)"/>
<circle cx="663.6" cy="447.0" r="4.0" fill="url(#mg_o)"/>
<circle cx="661.0" cy="453.5" r="4.0" fill="url(#mg_o)"/>
<circle cx="665.5" cy="452.2" r="4.0" fill="url(#mg_o)"/>
<circle cx="670.1" cy="450.9" r="4.0" fill="url(#mg_o)"/>
<circle cx="675.4" cy="453.5" r="4.0" fill="url(#mg_o)"/>
<circle cx="680.6" cy="456.1" r="4.0" fill="url(#mg_o)"/>
<circle cx="685.9" cy="461.4" r="4.0" fill="url(#mg_o)"/>
<circle cx="686.5" cy="466.0" r="4.0" fill="url(#mg_o)"/>
<circle cx="687.2" cy="470.6" r="4.0" fill="url(#mg_o)"/>
<circle cx="689.8" cy="477.2" r="4.0" fill="url(#mg_o)"/>
<circle cx="693.8" cy="485.0" r="4.0" fill="url(#mg_o)"/>
<circle cx="699.0" cy="489.0" r="4.0" fill="url(#mg_o)"/>
<circle cx="701.6" cy="491.6" r="4.0" fill="url(#mg_o)"/>
<circle cx="697.7" cy="494.2" r="4.0" fill="url(#mg_o)"/>
<circle cx="696.4" cy="498.8" r="4.0" fill="url(#mg_o)"/>
<circle cx="695.1" cy="503.4" r="4.0" fill="url(#mg_o)"/>
<circle cx="694.5" cy="509.9" r="4.0" fill="url(#mg_o)"/>
<circle cx="693.8" cy="516.5" r="4.0" fill="url(#mg_o)"/>
<circle cx="699.0" cy="520.5" r="4.0" fill="url(#mg_o)"/>
<circle cx="706.9" cy="516.5" r="4.0" fill="url(#mg_o)"/>
<circle cx="712.1" cy="513.2" r="4.0" fill="url(#mg_o)"/>
<circle cx="717.4" cy="510.0" r="4.0" fill="url(#mg_o)"/>
<circle cx="723.3" cy="505.4" r="4.0" fill="url(#mg_o)"/>
<circle cx="729.2" cy="500.8" r="4.0" fill="url(#mg_o)"/>
<ellipse cx="544.8" cy="452.8" rx="28.5" ry="30.8" fill="none" stroke="#d01818" stroke-width="1.3" stroke-dasharray="1.3,1.3"/>
<ellipse cx="578.5" cy="414.1" rx="20.3" ry="21" fill="none" stroke="#d01818" stroke-width="1.3" stroke-dasharray="1.3,1.3"/>
<ellipse cx="630" cy="438.3" rx="36.7" ry="41.7" fill="none" stroke="#d01818" stroke-width="1.3" stroke-dasharray="1.3,1.3"/>
<ellipse cx="673.7" cy="468.3" rx="9.5" ry="9.5" fill="none" stroke="#d01818" stroke-width="1.3" stroke-dasharray="1.3,1.3"/>
<ellipse cx="521" cy="481.8" rx="7.2" ry="7.5" fill="none" stroke="#d01818" stroke-width="1.3" stroke-dasharray="1.3,1.3"/>
<ellipse cx="526.6" cy="501.4" rx="9.8" ry="9.9" fill="none" stroke="#d01818" stroke-width="1.3" stroke-dasharray="1.3,1.3"/>
<ellipse cx="529.6" cy="516" rx="6" ry="6.3" fill="none" stroke="#d01818" stroke-width="1.3" stroke-dasharray="1.3,1.3"/>
<ellipse cx="539.8" cy="530" rx="6.5" ry="6.9" fill="none" stroke="#d01818" stroke-width="1.3" stroke-dasharray="1.3,1.3"/>
<ellipse cx="692.4" cy="513.6" rx="8" ry="8.2" fill="none" stroke="#d01818" stroke-width="1.3" stroke-dasharray="1.3,1.3"/>
<ellipse cx="711.8" cy="502.1" rx="9.7" ry="9.8" fill="none" stroke="#d01818" stroke-width="1.3" stroke-dasharray="1.3,1.3"/>
<rect x="454.7" y="326" width="338.8" height="260.5" fill="none" stroke="#000" stroke-width="2.6"/>
<line x1="496.7" y1="586.5" x2="496.7" y2="591.0" stroke="#000" stroke-width="2"/>
<text x="496.7" y="610.5" font-family='"Liberation Serif", serif' font-size="16" font-weight="bold" text-anchor="middle" fill="#000">7</text>
<line x1="582.0" y1="586.5" x2="582.0" y2="591.0" stroke="#000" stroke-width="2"/>
<text x="582.0" y="610.5" font-family='"Liberation Serif", serif' font-size="16" font-weight="bold" text-anchor="middle" fill="#000">11</text>
<line x1="667.3" y1="586.5" x2="667.3" y2="591.0" stroke="#000" stroke-width="2"/>
<text x="667.3" y="610.5" font-family='"Liberation Serif", serif' font-size="16" font-weight="bold" text-anchor="middle" fill="#000">15</text>
<line x1="752.7" y1="586.5" x2="752.7" y2="591.0" stroke="#000" stroke-width="2"/>
<text x="752.7" y="610.5" font-family='"Liberation Serif", serif' font-size="16" font-weight="bold" text-anchor="middle" fill="#000">19</text>
<line x1="454.0" y1="586.5" x2="454.0" y2="589.0" stroke="#000" stroke-width="1.6"/>
<line x1="539.4" y1="586.5" x2="539.4" y2="589.0" stroke="#000" stroke-width="1.6"/>
<line x1="624.7" y1="586.5" x2="624.7" y2="589.0" stroke="#000" stroke-width="1.6"/>
<line x1="710.0" y1="586.5" x2="710.0" y2="589.0" stroke="#000" stroke-width="1.6"/>
<line x1="450.2" y1="546.0" x2="454.7" y2="546.0" stroke="#000" stroke-width="2"/>
<text x="446.5" y="551.2" font-family='"Liberation Serif", serif' font-size="16" font-weight="bold" text-anchor="end" fill="#000">5</text>
<line x1="450.2" y1="486.0" x2="454.7" y2="486.0" stroke="#000" stroke-width="2"/>
<text x="446.5" y="491.2" font-family='"Liberation Serif", serif' font-size="16" font-weight="bold" text-anchor="end" fill="#000">8</text>
<line x1="450.2" y1="426.0" x2="454.7" y2="426.0" stroke="#000" stroke-width="2"/>
<text x="446.5" y="431.2" font-family='"Liberation Serif", serif' font-size="16" font-weight="bold" text-anchor="end" fill="#000">11</text>
<line x1="450.2" y1="366.0" x2="454.7" y2="366.0" stroke="#000" stroke-width="2"/>
<text x="446.5" y="371.2" font-family='"Liberation Serif", serif' font-size="16" font-weight="bold" text-anchor="end" fill="#000">14</text>
<line x1="452.2" y1="576.0" x2="454.7" y2="576.0" stroke="#000" stroke-width="1.6"/>
<line x1="452.2" y1="516.0" x2="454.7" y2="516.0" stroke="#000" stroke-width="1.6"/>
<line x1="452.2" y1="456.0" x2="454.7" y2="456.0" stroke="#000" stroke-width="1.6"/>
<line x1="452.2" y1="396.0" x2="454.7" y2="396.0" stroke="#000" stroke-width="1.6"/>
<line x1="452.2" y1="336.0" x2="454.7" y2="336.0" stroke="#000" stroke-width="1.6"/>
<text x="633.5" y="635.5" font-family='"Liberation Serif", serif' font-size="32" font-weight="bold" text-anchor="middle" fill="#000">ε'</text>
<text x="424.0" y="448.0" font-family='"Liberation Serif", serif' font-size="30" font-weight="bold" text-anchor="middle" fill="#000" transform="rotate(-90 424 448)">ε''</text>
<text x="425.3" y="344.5" font-family='"Liberation Serif", serif' font-size="36" font-weight="bold" text-anchor="middle" fill="#000">(e)</text>
<rect x="691.8" y="333.2" width="98.70000000000005" height="15.300000000000011" fill="#000"/>
<rect x="688.3" y="329.7" width="98.70000000000005" height="15.300000000000011" fill="#fff" stroke="#000" stroke-width="1.3"/>
<line x1="694" y1="337.35" x2="722" y2="337.35" stroke="#d2722e" stroke-width="1.8"/>
<circle cx="708.0" cy="337.35" r="4" fill="#d2722e"/>
<circle cx="707.2" cy="336.45000000000005" r="1" fill="#fff" fill-opacity="0.75"/>
<text x="723.0" y="341.5" font-family='"Liberation Serif", serif' font-size="11.5" font-weight="bold" text-anchor="start" fill="#000">SiC@MO-t4</text>
<line x1="920.7" y1="324" x2="920.7" y2="588" stroke="#6a6a6a" stroke-width="1.4" stroke-dasharray="5.5,3.5"/>
<line x1="996.4" y1="324" x2="996.4" y2="588" stroke="#6a6a6a" stroke-width="1.4" stroke-dasharray="5.5,3.5"/>
<line x1="1072.0" y1="324" x2="1072.0" y2="588" stroke="#6a6a6a" stroke-width="1.4" stroke-dasharray="5.5,3.5"/>
<line x1="1147.7" y1="324" x2="1147.7" y2="588" stroke="#6a6a6a" stroke-width="1.4" stroke-dasharray="5.5,3.5"/>
<line x1="846.7" y1="535.3" x2="1191.8" y2="535.3" stroke="#6a6a6a" stroke-width="1.4" stroke-dasharray="5.5,3.5"/>
<line x1="846.7" y1="482.2" x2="1191.8" y2="482.2" stroke="#6a6a6a" stroke-width="1.4" stroke-dasharray="5.5,3.5"/>
<line x1="846.7" y1="429.1" x2="1191.8" y2="429.1" stroke="#6a6a6a" stroke-width="1.4" stroke-dasharray="5.5,3.5"/>
<line x1="846.7" y1="376.0" x2="1191.8" y2="376.0" stroke="#6a6a6a" stroke-width="1.4" stroke-dasharray="5.5,3.5"/>
<path d="M909.5,525.2 L906.3,519.9 L912.7,515.6 L916.9,517.7 L914.8,525.2 L912.7,531.6 L905.2,533.7 L898.8,529.5 L893.5,523.1 L891.3,517.7 L905.2,513.5 L902.0,508.1 L895.6,504.9 L888.1,507.1 L880.7,506.0 L881.7,499.6 L887.1,494.3 L889.2,486.8 L882.8,482.5 L879.6,474.0 L882.8,467.6 L891.3,456.9 L899.9,447.3 L906.3,443.1 L914.8,439.9 L927.6,436.7 L934.0,435.1 L944.7,430.8 L955.3,431.3 L961.7,424.9 L961.7,424.9 L968.0,428.0 L976.7,432.0 L985.0,436.2 L992.5,437.7 L1001.5,440.0 L1012.0,439.2 L1021.0,440.7 L1030.0,440.0 L1037.5,445.2 L1045.0,444.5 L1052.5,449.0 L1057.0,456.5 L1063.0,462.5 L1060.0,465.5 L1069.0,467.0 L1072.0,473.0 L1078.0,479.0 L1081.0,488.0 L1087.0,495.5 L1096.0,497.0 L1099.0,500.0 L1093.0,504.5 L1096.0,513.5 L1105.0,510.5 L1120.0,506.0 L1135.0,500.0 L1156.0,491.0" fill="none" stroke="#4a64a0" stroke-width="1.6" stroke-linejoin="round"/>
<circle cx="909.5" cy="525.2" r="3.9" fill="url(#mg_b)"/>
<circle cx="906.3" cy="519.9" r="3.9" fill="url(#mg_b)"/>
<circle cx="909.5" cy="517.8" r="3.9" fill="url(#mg_b)"/>
<circle cx="912.7" cy="515.6" r="3.9" fill="url(#mg_b)"/>
<circle cx="916.9" cy="517.7" r="3.9" fill="url(#mg_b)"/>
<circle cx="915.8" cy="521.5" r="3.9" fill="url(#mg_b)"/>
<circle cx="914.8" cy="525.2" r="3.9" fill="url(#mg_b)"/>
<circle cx="913.8" cy="528.4" r="3.9" fill="url(#mg_b)"/>
<circle cx="912.7" cy="531.6" r="3.9" fill="url(#mg_b)"/>
<circle cx="909.0" cy="532.7" r="3.9" fill="url(#mg_b)"/>
<circle cx="905.2" cy="533.7" r="3.9" fill="url(#mg_b)"/>
<circle cx="902.0" cy="531.6" r="3.9" fill="url(#mg_b)"/>
<circle cx="898.8" cy="529.5" r="3.9" fill="url(#mg_b)"/>
<circle cx="896.1" cy="526.3" r="3.9" fill="url(#mg_b)"/>
<circle cx="893.5" cy="523.1" r="3.9" fill="url(#mg_b)"/>
<circle cx="891.3" cy="517.7" r="3.9" fill="url(#mg_b)"/>
<circle cx="895.9" cy="516.3" r="3.9" fill="url(#mg_b)"/>
<circle cx="900.6" cy="514.9" r="3.9" fill="url(#mg_b)"/>
<circle cx="905.2" cy="513.5" r="3.9" fill="url(#mg_b)"/>
<circle cx="902.0" cy="508.1" r="3.9" fill="url(#mg_b)"/>
<circle cx="898.8" cy="506.5" r="3.9" fill="url(#mg_b)"/>
<circle cx="895.6" cy="504.9" r="3.9" fill="url(#mg_b)"/>
<circle cx="891.9" cy="506.0" r="3.9" fill="url(#mg_b)"/>
<circle cx="888.1" cy="507.1" r="3.9" fill="url(#mg_b)"/>
<circle cx="884.4" cy="506.6" r="3.9" fill="url(#mg_b)"/>
<circle cx="880.7" cy="506.0" r="3.9" fill="url(#mg_b)"/>
<circle cx="881.2" cy="502.8" r="3.9" fill="url(#mg_b)"/>
<circle cx="881.7" cy="499.6" r="3.9" fill="url(#mg_b)"/>
<circle cx="884.4" cy="497.0" r="3.9" fill="url(#mg_b)"/>
<circle cx="887.1" cy="494.3" r="3.9" fill="url(#mg_b)"/>
<circle cx="888.2" cy="490.6" r="3.9" fill="url(#mg_b)"/>
<circle cx="889.2" cy="486.8" r="3.9" fill="url(#mg_b)"/>
<circle cx="886.0" cy="484.6" r="3.9" fill="url(#mg_b)"/>
<circle cx="882.8" cy="482.5" r="3.9" fill="url(#mg_b)"/>
<circle cx="881.2" cy="478.2" r="3.9" fill="url(#mg_b)"/>
<circle cx="879.6" cy="474.0" r="3.9" fill="url(#mg_b)"/>
<circle cx="881.2" cy="470.8" r="3.9" fill="url(#mg_b)"/>
<circle cx="882.8" cy="467.6" r="3.9" fill="url(#mg_b)"/>
<circle cx="885.6" cy="464.0" r="3.9" fill="url(#mg_b)"/>
<circle cx="888.5" cy="460.5" r="3.9" fill="url(#mg_b)"/>
<circle cx="891.3" cy="456.9" r="3.9" fill="url(#mg_b)"/>
<circle cx="894.2" cy="453.7" r="3.9" fill="url(#mg_b)"/>
<circle cx="897.0" cy="450.5" r="3.9" fill="url(#mg_b)"/>
<circle cx="899.9" cy="447.3" r="3.9" fill="url(#mg_b)"/>
<circle cx="903.1" cy="445.2" r="3.9" fill="url(#mg_b)"/>
<circle cx="906.3" cy="443.1" r="3.9" fill="url(#mg_b)"/>
<circle cx="910.5" cy="441.5" r="3.9" fill="url(#mg_b)"/>
<circle cx="914.8" cy="439.9" r="3.9" fill="url(#mg_b)"/>
<circle cx="919.1" cy="438.8" r="3.9" fill="url(#mg_b)"/>
<circle cx="923.3" cy="437.8" r="3.9" fill="url(#mg_b)"/>
<circle cx="927.6" cy="436.7" r="3.9" fill="url(#mg_b)"/>
<circle cx="930.8" cy="435.9" r="3.9" fill="url(#mg_b)"/>
<circle cx="934.0" cy="435.1" r="3.9" fill="url(#mg_b)"/>
<circle cx="937.6" cy="433.7" r="3.9" fill="url(#mg_b)"/>
<circle cx="941.1" cy="432.2" r="3.9" fill="url(#mg_b)"/>
<circle cx="944.7" cy="430.8" r="3.9" fill="url(#mg_b)"/>
<circle cx="948.2" cy="431.0" r="3.9" fill="url(#mg_b)"/>
<circle cx="951.8" cy="431.1" r="3.9" fill="url(#mg_b)"/>
<circle cx="955.3" cy="431.3" r="3.9" fill="url(#mg_b)"/>
<circle cx="958.5" cy="428.1" r="3.9" fill="url(#mg_b)"/>
<circle cx="961.7" cy="424.9" r="3.9" fill="url(#mg_b)"/>
<circle cx="961.7" cy="424.9" r="3.9" fill="url(#mg_b)"/>
<circle cx="964.9" cy="426.4" r="3.9" fill="url(#mg_b)"/>
<circle cx="968.0" cy="428.0" r="3.9" fill="url(#mg_b)"/>
<circle cx="972.4" cy="430.0" r="3.9" fill="url(#mg_b)"/>
<circle cx="976.7" cy="432.0" r="3.9" fill="url(#mg_b)"/>
<circle cx="980.9" cy="434.1" r="3.9" fill="url(#mg_b)"/>
<circle cx="985.0" cy="436.2" r="3.9" fill="url(#mg_b)"/>
<circle cx="988.8" cy="436.9" r="3.9" fill="url(#mg_b)"/>
<circle cx="992.5" cy="437.7" r="3.9" fill="url(#mg_b)"/>
<circle cx="997.0" cy="438.9" r="3.9" fill="url(#mg_b)"/>
<circle cx="1001.5" cy="440.0" r="3.9" fill="url(#mg_b)"/>
<circle cx="1006.8" cy="439.6" r="3.9" fill="url(#mg_b)"/>
<circle cx="1012.0" cy="439.2" r="3.9" fill="url(#mg_b)"/>
<circle cx="1016.5" cy="439.9" r="3.9" fill="url(#mg_b)"/>
<circle cx="1021.0" cy="440.7" r="3.9" fill="url(#mg_b)"/>
<circle cx="1025.5" cy="440.4" r="3.9" fill="url(#mg_b)"/>
<circle cx="1030.0" cy="440.0" r="3.9" fill="url(#mg_b)"/>
<circle cx="1033.8" cy="442.6" r="3.9" fill="url(#mg_b)"/>
<circle cx="1037.5" cy="445.2" r="3.9" fill="url(#mg_b)"/>
<circle cx="1041.2" cy="444.9" r="3.9" fill="url(#mg_b)"/>
<circle cx="1045.0" cy="444.5" r="3.9" fill="url(#mg_b)"/>
<circle cx="1048.8" cy="446.8" r="3.9" fill="url(#mg_b)"/>
<circle cx="1052.5" cy="449.0" r="3.9" fill="url(#mg_b)"/>
<circle cx="1054.8" cy="452.8" r="3.9" fill="url(#mg_b)"/>
<circle cx="1057.0" cy="456.5" r="3.9" fill="url(#mg_b)"/>
<circle cx="1060.0" cy="459.5" r="3.9" fill="url(#mg_b)"/>
<circle cx="1063.0" cy="462.5" r="3.9" fill="url(#mg_b)"/>
<circle cx="1060.0" cy="465.5" r="3.9" fill="url(#mg_b)"/>
<circle cx="1064.5" cy="466.2" r="3.9" fill="url(#mg_b)"/>
<circle cx="1069.0" cy="467.0" r="3.9" fill="url(#mg_b)"/>
<circle cx="1072.0" cy="473.0" r="3.9" fill="url(#mg_b)"/>
<circle cx="1075.0" cy="476.0" r="3.9" fill="url(#mg_b)"/>
<circle cx="1078.0" cy="479.0" r="3.9" fill="url(#mg_b)"/>
<circle cx="1079.5" cy="483.5" r="3.9" fill="url(#mg_b)"/>
<circle cx="1081.0" cy="488.0" r="3.9" fill="url(#mg_b)"/>
<circle cx="1084.0" cy="491.8" r="3.9" fill="url(#mg_b)"/>
<circle cx="1087.0" cy="495.5" r="3.9" fill="url(#mg_b)"/>
<circle cx="1091.5" cy="496.2" r="3.9" fill="url(#mg_b)"/>
<circle cx="1096.0" cy="497.0" r="3.9" fill="url(#mg_b)"/>
<circle cx="1099.0" cy="500.0" r="3.9" fill="url(#mg_b)"/>
<circle cx="1096.0" cy="502.2" r="3.9" fill="url(#mg_b)"/>
<circle cx="1093.0" cy="504.5" r="3.9" fill="url(#mg_b)"/>
<circle cx="1094.5" cy="509.0" r="3.9" fill="url(#mg_b)"/>
<circle cx="1096.0" cy="513.5" r="3.9" fill="url(#mg_b)"/>
<circle cx="1100.5" cy="512.0" r="3.9" fill="url(#mg_b)"/>
<circle cx="1105.0" cy="510.5" r="3.9" fill="url(#mg_b)"/>
<circle cx="1110.0" cy="509.0" r="3.9" fill="url(#mg_b)"/>
<circle cx="1115.0" cy="507.5" r="3.9" fill="url(#mg_b)"/>
<circle cx="1120.0" cy="506.0" r="3.9" fill="url(#mg_b)"/>
<circle cx="1123.8" cy="504.5" r="3.9" fill="url(#mg_b)"/>
<circle cx="1127.5" cy="503.0" r="3.9" fill="url(#mg_b)"/>
<circle cx="1131.2" cy="501.5" r="3.9" fill="url(#mg_b)"/>
<circle cx="1135.0" cy="500.0" r="3.9" fill="url(#mg_b)"/>
<circle cx="1139.2" cy="498.2" r="3.9" fill="url(#mg_b)"/>
<circle cx="1143.4" cy="496.4" r="3.9" fill="url(#mg_b)"/>
<circle cx="1147.6" cy="494.6" r="3.9" fill="url(#mg_b)"/>
<circle cx="1151.8" cy="492.8" r="3.9" fill="url(#mg_b)"/>
<circle cx="1156.0" cy="491.0" r="3.9" fill="url(#mg_b)"/>
<ellipse cx="907.3" cy="476.1" rx="22.4" ry="23.5" fill="none" stroke="#d01818" stroke-width="1.4" stroke-dasharray="2.6,1.6"/>
<ellipse cx="881.7" cy="487.9" rx="8" ry="8.5" fill="none" stroke="#d01818" stroke-width="1.4" stroke-dasharray="2.6,1.6"/>
<ellipse cx="961.7" cy="461.2" rx="31.7" ry="33.1" fill="none" stroke="#d01818" stroke-width="1.4" stroke-dasharray="2.6,1.6"/>
<ellipse cx="1037.5" cy="461.7" rx="16.5" ry="18" fill="none" stroke="#d01818" stroke-width="1.4" stroke-dasharray="2.6,1.6"/>
<ellipse cx="889.2" cy="510.3" rx="10" ry="10.5" fill="none" stroke="#d01818" stroke-width="1.4" stroke-dasharray="2.6,1.6"/>
<ellipse cx="906.8" cy="523.6" rx="8" ry="8" fill="none" stroke="#d01818" stroke-width="1.4" stroke-dasharray="2.6,1.6"/>
<ellipse cx="1091.9" cy="486.5" rx="10.9" ry="10.5" fill="none" stroke="#d01818" stroke-width="1.4" stroke-dasharray="2.6,1.6"/>
<ellipse cx="1097.5" cy="508.2" rx="7.5" ry="6.9" fill="none" stroke="#d01818" stroke-width="1.4" stroke-dasharray="2.6,1.6"/>
<rect x="846.7" y="324" width="345.0999999999999" height="264" fill="none" stroke="#000" stroke-width="2.6"/>
<line x1="920.7" y1="588" x2="920.7" y2="592.5" stroke="#000" stroke-width="2"/>
<text x="920.7" y="610.5" font-family='"Liberation Serif", serif' font-size="16" font-weight="bold" text-anchor="middle" fill="#000">4</text>
<line x1="996.4" y1="588" x2="996.4" y2="592.5" stroke="#000" stroke-width="2"/>
<text x="996.4" y="610.5" font-family='"Liberation Serif", serif' font-size="16" font-weight="bold" text-anchor="middle" fill="#000">5</text>
<line x1="1072.0" y1="588" x2="1072.0" y2="592.5" stroke="#000" stroke-width="2"/>
<text x="1072.0" y="610.5" font-family='"Liberation Serif", serif' font-size="16" font-weight="bold" text-anchor="middle" fill="#000">6</text>
<line x1="1147.7" y1="588" x2="1147.7" y2="592.5" stroke="#000" stroke-width="2"/>
<text x="1147.7" y="610.5" font-family='"Liberation Serif", serif' font-size="16" font-weight="bold" text-anchor="middle" fill="#000">7</text>
<line x1="882.9" y1="588" x2="882.9" y2="590.5" stroke="#000" stroke-width="1.6"/>
<line x1="958.5" y1="588" x2="958.5" y2="590.5" stroke="#000" stroke-width="1.6"/>
<line x1="1034.2" y1="588" x2="1034.2" y2="590.5" stroke="#000" stroke-width="1.6"/>
<line x1="1109.9" y1="588" x2="1109.9" y2="590.5" stroke="#000" stroke-width="1.6"/>
<line x1="1185.5" y1="588" x2="1185.5" y2="590.5" stroke="#000" stroke-width="1.6"/>
<line x1="842.2" y1="535.3" x2="846.7" y2="535.3" stroke="#000" stroke-width="2"/>
<text x="838.5" y="540.5" font-family='"Liberation Serif", serif' font-size="16" font-weight="bold" text-anchor="end" fill="#000">2</text>
<line x1="842.2" y1="482.2" x2="846.7" y2="482.2" stroke="#000" stroke-width="2"/>
<text x="838.5" y="487.4" font-family='"Liberation Serif", serif' font-size="16" font-weight="bold" text-anchor="end" fill="#000">3</text>
<line x1="842.2" y1="429.1" x2="846.7" y2="429.1" stroke="#000" stroke-width="2"/>
<text x="838.5" y="434.3" font-family='"Liberation Serif", serif' font-size="16" font-weight="bold" text-anchor="end" fill="#000">4</text>
<line x1="842.2" y1="376.0" x2="846.7" y2="376.0" stroke="#000" stroke-width="2"/>
<text x="838.5" y="381.2" font-family='"Liberation Serif", serif' font-size="16" font-weight="bold" text-anchor="end" fill="#000">5</text>
<line x1="844.2" y1="561.8" x2="846.7" y2="561.8" stroke="#000" stroke-width="1.6"/>
<line x1="844.2" y1="508.7" x2="846.7" y2="508.7" stroke="#000" stroke-width="1.6"/>
<line x1="844.2" y1="455.6" x2="846.7" y2="455.6" stroke="#000" stroke-width="1.6"/>
<line x1="844.2" y1="402.5" x2="846.7" y2="402.5" stroke="#000" stroke-width="1.6"/>
<line x1="844.2" y1="349.4" x2="846.7" y2="349.4" stroke="#000" stroke-width="1.6"/>
<text x="1029.0" y="636.0" font-family='"Liberation Serif", serif' font-size="32" font-weight="bold" text-anchor="middle" fill="#000">ε'</text>
<text x="822.6" y="447.2" font-family='"Liberation Serif", serif' font-size="30" font-weight="bold" text-anchor="middle" fill="#000" transform="rotate(-90 822.6 447.2)">ε''</text>
<text x="819.3" y="347.4" font-family='"Liberation Serif", serif' font-size="36" font-weight="bold" text-anchor="middle" fill="#000">(f)</text>
<rect x="1086.8" y="332.5" width="100.0" height="14.699999999999989" fill="#000"/>
<rect x="1083.3" y="329" width="100.0" height="14.699999999999989" fill="#fff" stroke="#000" stroke-width="1.3"/>
<line x1="1089" y1="336.35" x2="1117" y2="336.35" stroke="#4a64a0" stroke-width="1.8"/>
<circle cx="1103.0" cy="336.35" r="4" fill="#4a64a0"/>
<circle cx="1102.2" cy="335.45000000000005" r="1" fill="#fff" fill-opacity="0.75"/>
<text x="1118.0" y="340.5" font-family='"Liberation Serif", serif' font-size="11.5" font-weight="bold" text-anchor="start" fill="#000">SiC@MO-t6</text>
<line x1="140.7" y1="641.5" x2="140.7" y2="901.7" stroke="#6a6a6a" stroke-width="1.4" stroke-dasharray="5.5,3.5"/>
<line x1="205.8" y1="641.5" x2="205.8" y2="901.7" stroke="#6a6a6a" stroke-width="1.4" stroke-dasharray="5.5,3.5"/>
<line x1="270.9" y1="641.5" x2="270.9" y2="901.7" stroke="#6a6a6a" stroke-width="1.4" stroke-dasharray="5.5,3.5"/>
<line x1="336.0" y1="641.5" x2="336.0" y2="901.7" stroke="#6a6a6a" stroke-width="1.4" stroke-dasharray="5.5,3.5"/>
<line x1="77.3" y1="837.0" x2="399.8" y2="837.0" stroke="#6a6a6a" stroke-width="1.4" stroke-dasharray="5.5,3.5"/>
<line x1="77.3" y1="771.4" x2="399.8" y2="771.4" stroke="#6a6a6a" stroke-width="1.4" stroke-dasharray="5.5,3.5"/>
<line x1="77.3" y1="705.7" x2="399.8" y2="705.7" stroke="#6a6a6a" stroke-width="1.4" stroke-dasharray="5.5,3.5"/>
<path d="M187.9,823.9 L184.0,821.2 L178.7,831.7 L170.9,827.8 L168.2,822.5 L173.5,818.6 L177.4,813.4 L180.0,806.8 L176.1,802.9 L170.9,804.2 L164.3,814.7 L161.7,826.5 L157.7,821.2 L160.4,809.4 L152.5,834.4 L149.9,826.5 L145.9,834.4 L142.0,829.1 L144.6,817.3 L139.4,821.2 L139.4,821.2 L135.4,800.2 L142.0,797.6 L126.2,785.8 L122.3,780.6 L123.6,776.6 L114.4,777.9 L111.8,767.4 L119.7,766.1 L121.0,756.9 L131.5,745.8 L145.3,742.5 L153.1,737.2 L163.6,724.8 L178.7,714.3 L191.9,713.0 L201.0,709.0 L208.9,706.4 L213.0,709.0 L218.1,711.7 L223.4,717.6 L226.0,726.7 L224.7,734.6 L228.6,742.2 L234.8,744.6 L238.5,752.0 L242.2,755.7 L250.8,755.7 L259.4,758.2 L263.1,765.6 L265.6,774.2 L256.9,781.6 L261.9,786.5 L264.3,792.7 L265.6,797.6 L270.5,801.3 L274.2,805.0 L269.3,807.4 L261.9,806.2 L266.8,817.3 L271.7,827.1 L265.6,833.3 L255.7,837.0 L249.6,835.8 L269.3,840.7 L277.9,838.2 L284.0,844.4 L284.0,854.2 L292.7,853.0 L295.1,856.7 L303.7,850.5 L312.4,853.0 L321.0,846.8 L330.8,851.8 L339.5,853.0" fill="none" stroke="#2fb89a" stroke-width="1.8" stroke-linejoin="round"/>
<circle cx="187.9" cy="823.9" r="3.9" fill="url(#mg_t)"/>
<circle cx="184.0" cy="821.2" r="3.9" fill="url(#mg_t)"/>
<circle cx="178.7" cy="831.7" r="3.9" fill="url(#mg_t)"/>
<circle cx="170.9" cy="827.8" r="3.9" fill="url(#mg_t)"/>
<circle cx="168.2" cy="822.5" r="3.9" fill="url(#mg_t)"/>
<circle cx="173.5" cy="818.6" r="3.9" fill="url(#mg_t)"/>
<circle cx="177.4" cy="813.4" r="3.9" fill="url(#mg_t)"/>
<circle cx="180.0" cy="806.8" r="3.9" fill="url(#mg_t)"/>
<circle cx="176.1" cy="802.9" r="3.9" fill="url(#mg_t)"/>
<circle cx="170.9" cy="804.2" r="3.9" fill="url(#mg_t)"/>
<circle cx="164.3" cy="814.7" r="3.9" fill="url(#mg_t)"/>
<circle cx="161.7" cy="826.5" r="3.9" fill="url(#mg_t)"/>
<circle cx="157.7" cy="821.2" r="3.9" fill="url(#mg_t)"/>
<circle cx="160.4" cy="809.4" r="3.9" fill="url(#mg_t)"/>
<circle cx="152.5" cy="834.4" r="3.9" fill="url(#mg_t)"/>
<circle cx="149.9" cy="826.5" r="3.9" fill="url(#mg_t)"/>
<circle cx="145.9" cy="834.4" r="3.9" fill="url(#mg_t)"/>
<circle cx="142.0" cy="829.1" r="3.9" fill="url(#mg_t)"/>
<circle cx="144.6" cy="817.3" r="3.9" fill="url(#mg_t)"/>
<circle cx="139.4" cy="821.2" r="3.9" fill="url(#mg_t)"/>
<circle cx="139.4" cy="821.2" r="3.9" fill="url(#mg_t)"/>
<circle cx="135.4" cy="800.2" r="3.9" fill="url(#mg_t)"/>
<circle cx="142.0" cy="797.6" r="3.9" fill="url(#mg_t)"/>
<circle cx="126.2" cy="785.8" r="3.9" fill="url(#mg_t)"/>
<circle cx="122.3" cy="780.6" r="3.9" fill="url(#mg_t)"/>
<circle cx="123.6" cy="776.6" r="3.9" fill="url(#mg_t)"/>
<circle cx="114.4" cy="777.9" r="3.9" fill="url(#mg_t)"/>
<circle cx="111.8" cy="767.4" r="3.9" fill="url(#mg_t)"/>
<circle cx="119.7" cy="766.1" r="3.9" fill="url(#mg_t)"/>
<circle cx="121.0" cy="756.9" r="3.9" fill="url(#mg_t)"/>
<circle cx="131.5" cy="745.8" r="3.9" fill="url(#mg_t)"/>
<circle cx="145.3" cy="742.5" r="3.9" fill="url(#mg_t)"/>
<circle cx="153.1" cy="737.2" r="3.9" fill="url(#mg_t)"/>
<circle cx="163.6" cy="724.8" r="3.9" fill="url(#mg_t)"/>
<circle cx="178.7" cy="714.3" r="3.9" fill="url(#mg_t)"/>
<circle cx="191.9" cy="713.0" r="3.9" fill="url(#mg_t)"/>
<circle cx="201.0" cy="709.0" r="3.9" fill="url(#mg_t)"/>
<circle cx="208.9" cy="706.4" r="3.9" fill="url(#mg_t)"/>
<circle cx="213.0" cy="709.0" r="3.9" fill="url(#mg_t)"/>
<circle cx="218.1" cy="711.7" r="3.9" fill="url(#mg_t)"/>
<circle cx="223.4" cy="717.6" r="3.9" fill="url(#mg_t)"/>
<circle cx="226.0" cy="726.7" r="3.9" fill="url(#mg_t)"/>
<circle cx="224.7" cy="734.6" r="3.9" fill="url(#mg_t)"/>
<circle cx="228.6" cy="742.2" r="3.9" fill="url(#mg_t)"/>
<circle cx="234.8" cy="744.6" r="3.9" fill="url(#mg_t)"/>
<circle cx="238.5" cy="752.0" r="3.9" fill="url(#mg_t)"/>
<circle cx="242.2" cy="755.7" r="3.9" fill="url(#mg_t)"/>
<circle cx="250.8" cy="755.7" r="3.9" fill="url(#mg_t)"/>
<circle cx="253.7" cy="756.5" r="3.9" fill="url(#mg_t)"/>
<circle cx="256.5" cy="757.4" r="3.9" fill="url(#mg_t)"/>
<circle cx="259.4" cy="758.2" r="3.9" fill="url(#mg_t)"/>
<circle cx="260.6" cy="760.7" r="3.9" fill="url(#mg_t)"/>
<circle cx="261.9" cy="763.1" r="3.9" fill="url(#mg_t)"/>
<circle cx="263.1" cy="765.6" r="3.9" fill="url(#mg_t)"/>
<circle cx="263.9" cy="768.5" r="3.9" fill="url(#mg_t)"/>
<circle cx="264.8" cy="771.3" r="3.9" fill="url(#mg_t)"/>
<circle cx="265.6" cy="774.2" r="3.9" fill="url(#mg_t)"/>
<circle cx="263.4" cy="776.1" r="3.9" fill="url(#mg_t)"/>
<circle cx="261.2" cy="777.9" r="3.9" fill="url(#mg_t)"/>
<circle cx="259.1" cy="779.8" r="3.9" fill="url(#mg_t)"/>
<circle cx="256.9" cy="781.6" r="3.9" fill="url(#mg_t)"/>
<circle cx="259.4" cy="784.0" r="3.9" fill="url(#mg_t)"/>
<circle cx="261.9" cy="786.5" r="3.9" fill="url(#mg_t)"/>
<circle cx="263.1" cy="789.6" r="3.9" fill="url(#mg_t)"/>
<circle cx="264.3" cy="792.7" r="3.9" fill="url(#mg_t)"/>
<circle cx="265.0" cy="795.2" r="3.9" fill="url(#mg_t)"/>
<circle cx="265.6" cy="797.6" r="3.9" fill="url(#mg_t)"/>
<circle cx="268.1" cy="799.5" r="3.9" fill="url(#mg_t)"/>
<circle cx="270.5" cy="801.3" r="3.9" fill="url(#mg_t)"/>
<circle cx="272.4" cy="803.1" r="3.9" fill="url(#mg_t)"/>
<circle cx="274.2" cy="805.0" r="3.9" fill="url(#mg_t)"/>
<circle cx="271.8" cy="806.2" r="3.9" fill="url(#mg_t)"/>
<circle cx="269.3" cy="807.4" r="3.9" fill="url(#mg_t)"/>
<circle cx="265.6" cy="806.8" r="3.9" fill="url(#mg_t)"/>
<circle cx="261.9" cy="806.2" r="3.9" fill="url(#mg_t)"/>
<circle cx="263.1" cy="809.0" r="3.9" fill="url(#mg_t)"/>
<circle cx="264.4" cy="811.8" r="3.9" fill="url(#mg_t)"/>
<circle cx="265.6" cy="814.5" r="3.9" fill="url(#mg_t)"/>
<circle cx="266.8" cy="817.3" r="3.9" fill="url(#mg_t)"/>
<circle cx="268.4" cy="820.6" r="3.9" fill="url(#mg_t)"/>
<circle cx="270.1" cy="823.8" r="3.9" fill="url(#mg_t)"/>
<circle cx="271.7" cy="827.1" r="3.9" fill="url(#mg_t)"/>
<circle cx="269.7" cy="829.2" r="3.9" fill="url(#mg_t)"/>
<circle cx="267.6" cy="831.2" r="3.9" fill="url(#mg_t)"/>
<circle cx="265.6" cy="833.3" r="3.9" fill="url(#mg_t)"/>
<circle cx="262.3" cy="834.5" r="3.9" fill="url(#mg_t)"/>
<circle cx="259.0" cy="835.8" r="3.9" fill="url(#mg_t)"/>
<circle cx="255.7" cy="837.0" r="3.9" fill="url(#mg_t)"/>
<circle cx="252.6" cy="836.4" r="3.9" fill="url(#mg_t)"/>
<circle cx="249.6" cy="835.8" r="3.9" fill="url(#mg_t)"/>
<circle cx="252.9" cy="836.6" r="3.9" fill="url(#mg_t)"/>
<circle cx="256.2" cy="837.4" r="3.9" fill="url(#mg_t)"/>
<circle cx="259.4" cy="838.2" r="3.9" fill="url(#mg_t)"/>
<circle cx="262.7" cy="839.1" r="3.9" fill="url(#mg_t)"/>
<circle cx="266.0" cy="839.9" r="3.9" fill="url(#mg_t)"/>
<circle cx="269.3" cy="840.7" r="3.9" fill="url(#mg_t)"/>
<circle cx="272.2" cy="839.9" r="3.9" fill="url(#mg_t)"/>
<circle cx="275.0" cy="839.0" r="3.9" fill="url(#mg_t)"/>
<circle cx="277.9" cy="838.2" r="3.9" fill="url(#mg_t)"/>
<circle cx="279.9" cy="840.3" r="3.9" fill="url(#mg_t)"/>
<circle cx="282.0" cy="842.3" r="3.9" fill="url(#mg_t)"/>
<circle cx="284.0" cy="844.4" r="3.9" fill="url(#mg_t)"/>
<circle cx="284.0" cy="847.7" r="3.9" fill="url(#mg_t)"/>
<circle cx="284.0" cy="850.9" r="3.9" fill="url(#mg_t)"/>
<circle cx="284.0" cy="854.2" r="3.9" fill="url(#mg_t)"/>
<circle cx="286.9" cy="853.8" r="3.9" fill="url(#mg_t)"/>
<circle cx="289.8" cy="853.4" r="3.9" fill="url(#mg_t)"/>
<circle cx="292.7" cy="853.0" r="3.9" fill="url(#mg_t)"/>
<circle cx="295.1" cy="856.7" r="3.9" fill="url(#mg_t)"/>
<circle cx="298.0" cy="854.6" r="3.9" fill="url(#mg_t)"/>
<circle cx="300.8" cy="852.6" r="3.9" fill="url(#mg_t)"/>
<circle cx="303.7" cy="850.5" r="3.9" fill="url(#mg_t)"/>
<circle cx="306.6" cy="851.3" r="3.9" fill="url(#mg_t)"/>
<circle cx="309.5" cy="852.2" r="3.9" fill="url(#mg_t)"/>
<circle cx="312.4" cy="853.0" r="3.9" fill="url(#mg_t)"/>
<circle cx="315.3" cy="850.9" r="3.9" fill="url(#mg_t)"/>
<circle cx="318.1" cy="848.9" r="3.9" fill="url(#mg_t)"/>
<circle cx="321.0" cy="846.8" r="3.9" fill="url(#mg_t)"/>
<circle cx="324.3" cy="848.5" r="3.9" fill="url(#mg_t)"/>
<circle cx="327.5" cy="850.1" r="3.9" fill="url(#mg_t)"/>
<circle cx="330.8" cy="851.8" r="3.9" fill="url(#mg_t)"/>
<circle cx="333.7" cy="852.2" r="3.9" fill="url(#mg_t)"/>
<circle cx="336.6" cy="852.6" r="3.9" fill="url(#mg_t)"/>
<circle cx="339.5" cy="853.0" r="3.9" fill="url(#mg_t)"/>
<ellipse cx="130.5" cy="760.5" rx="10.8" ry="11.5" fill="none" stroke="#d01818" stroke-width="1.3" stroke-dasharray="1.3,1.3"/>
<ellipse cx="209.3" cy="726.4" rx="15.4" ry="16.1" fill="none" stroke="#d01818" stroke-width="1.3" stroke-dasharray="1.3,1.3"/>
<ellipse cx="158.8" cy="815.7" rx="8.9" ry="10.2" fill="none" stroke="#d01818" stroke-width="1.3" stroke-dasharray="1.3,1.3"/>
<ellipse cx="146.6" cy="831" rx="8.5" ry="9.8" fill="none" stroke="#d01818" stroke-width="1.3" stroke-dasharray="1.3,1.3"/>
<ellipse cx="254.8" cy="770.5" rx="8.9" ry="9.9" fill="none" stroke="#d01818" stroke-width="1.3" stroke-dasharray="1.3,1.3"/>
<ellipse cx="259.1" cy="818.9" rx="8.9" ry="10.2" fill="none" stroke="#d01818" stroke-width="1.3" stroke-dasharray="1.3,1.3"/>
<rect x="77.3" y="641.5" width="322.5" height="260.20000000000005" fill="none" stroke="#000" stroke-width="2.6"/>
<line x1="140.7" y1="901.7" x2="140.7" y2="906.2" stroke="#000" stroke-width="2"/>
<text x="140.7" y="924.5" font-family='"Liberation Serif", serif' font-size="16" font-weight="bold" text-anchor="middle" fill="#000">5.0</text>
<line x1="205.8" y1="901.7" x2="205.8" y2="906.2" stroke="#000" stroke-width="2"/>
<text x="205.8" y="924.5" font-family='"Liberation Serif", serif' font-size="16" font-weight="bold" text-anchor="middle" fill="#000">5.5</text>
<line x1="270.9" y1="901.7" x2="270.9" y2="906.2" stroke="#000" stroke-width="2"/>
<text x="270.9" y="924.5" font-family='"Liberation Serif", serif' font-size="16" font-weight="bold" text-anchor="middle" fill="#000">6.0</text>
<line x1="336.0" y1="901.7" x2="336.0" y2="906.2" stroke="#000" stroke-width="2"/>
<text x="336.0" y="924.5" font-family='"Liberation Serif", serif' font-size="16" font-weight="bold" text-anchor="middle" fill="#000">6.5</text>
<line x1="108.1" y1="901.7" x2="108.1" y2="904.2" stroke="#000" stroke-width="1.6"/>
<line x1="173.2" y1="901.7" x2="173.2" y2="904.2" stroke="#000" stroke-width="1.6"/>
<line x1="238.3" y1="901.7" x2="238.3" y2="904.2" stroke="#000" stroke-width="1.6"/>
<line x1="303.4" y1="901.7" x2="303.4" y2="904.2" stroke="#000" stroke-width="1.6"/>
<line x1="368.5" y1="901.7" x2="368.5" y2="904.2" stroke="#000" stroke-width="1.6"/>
<line x1="72.8" y1="837.0" x2="77.3" y2="837.0" stroke="#000" stroke-width="2"/>
<text x="69.5" y="842.2" font-family='"Liberation Serif", serif' font-size="16" font-weight="bold" text-anchor="end" fill="#000">1.0</text>
<line x1="72.8" y1="771.4" x2="77.3" y2="771.4" stroke="#000" stroke-width="2"/>
<text x="69.5" y="776.6" font-family='"Liberation Serif", serif' font-size="16" font-weight="bold" text-anchor="end" fill="#000">1.5</text>
<line x1="72.8" y1="705.7" x2="77.3" y2="705.7" stroke="#000" stroke-width="2"/>
<text x="69.5" y="710.9" font-family='"Liberation Serif", serif' font-size="16" font-weight="bold" text-anchor="end" fill="#000">2.0</text>
<line x1="74.8" y1="869.8" x2="77.3" y2="869.8" stroke="#000" stroke-width="1.6"/>
<line x1="74.8" y1="804.2" x2="77.3" y2="804.2" stroke="#000" stroke-width="1.6"/>
<line x1="74.8" y1="738.5" x2="77.3" y2="738.5" stroke="#000" stroke-width="1.6"/>
<line x1="74.8" y1="672.9" x2="77.3" y2="672.9" stroke="#000" stroke-width="1.6"/>
<text x="247.5" y="954.5" font-family='"Liberation Serif", serif' font-size="32" font-weight="bold" text-anchor="middle" fill="#000">ε'</text>
<text x="43.3" y="763.0" font-family='"Liberation Serif", serif' font-size="30" font-weight="bold" text-anchor="middle" fill="#000" transform="rotate(-90 43.3 763)">ε''</text>
<text x="29.5" y="667.4" font-family='"Liberation Serif", serif' font-size="36" font-weight="bold" text-anchor="middle" fill="#000">(g)</text>
<rect x="298.5" y="652.8" width="93" height="13.700000000000045" fill="#000"/>
<rect x="295" y="649.3" width="93" height="13.700000000000045" fill="#fff" stroke="#000" stroke-width="1.3"/>
<line x1="300" y1="656.15" x2="327" y2="656.15" stroke="#2fb89a" stroke-width="1.8"/>
<circle cx="313.5" cy="656.15" r="4" fill="#2fb89a"/>
<circle cx="312.7" cy="655.25" r="1" fill="#fff" fill-opacity="0.75"/>
<text x="328.0" y="660.3" font-family='"Liberation Serif", serif' font-size="11.5" font-weight="bold" text-anchor="start" fill="#000">SiC@MO-t8</text>
<rect x="481.7" y="809.6" width="41.6" height="96.4" fill="url(#gBar)" stroke="#8a7a70" stroke-width="0.8"/>
<text x="502.5" y="805.6" font-family='"Liberation Serif", serif' font-size="13" font-weight="bold" text-anchor="middle" fill="#000">0.256</text>
<rect x="565.7" y="673.3" width="41.0" height="232.7" fill="url(#gBar)" stroke="#8a7a70" stroke-width="0.8"/>
<text x="586.2" y="669.3" font-family='"Liberation Serif", serif' font-size="13" font-weight="bold" text-anchor="middle" fill="#000">0.618</text>
<rect x="648.3" y="721.9" width="42.4" height="184.1" fill="url(#gBar)" stroke="#8a7a70" stroke-width="0.8"/>
<text x="669.5" y="717.9" font-family='"Liberation Serif", serif' font-size="13" font-weight="bold" text-anchor="middle" fill="#000">0.489</text>
<rect x="733.3" y="893.2" width="41.7" height="12.8" fill="url(#gBar)" stroke="#8a7a70" stroke-width="0.8"/>
<text x="754.1" y="889.2" font-family='"Liberation Serif", serif' font-size="13" font-weight="bold" text-anchor="middle" fill="#000">0.034</text>
<path d="M459.3,906.5 L459.3,642.7 L796.6,642.7" fill="none" stroke="#000" stroke-width="2.6"/>
<line x1="459.3" y1="906.5" x2="796.6" y2="906.5" stroke="#000" stroke-width="2.6"/>
<line x1="796.6" y1="642.7" x2="796.6" y2="906.5" stroke="#000" stroke-width="2.6"/>
<line x1="502.5" y1="906.5" x2="502.5" y2="911.0" stroke="#000" stroke-width="2"/>
<text x="502.5" y="927.5" font-family='"Liberation Serif", serif' font-size="13.8" font-weight="bold" text-anchor="middle" fill="#000">SiC@MO-t2</text>
<line x1="586.2" y1="906.5" x2="586.2" y2="911.0" stroke="#000" stroke-width="2"/>
<text x="586.2" y="927.5" font-family='"Liberation Serif", serif' font-size="13.8" font-weight="bold" text-anchor="middle" fill="#000">SiC@MO-t4</text>
<line x1="669.5" y1="906.5" x2="669.5" y2="911.0" stroke="#000" stroke-width="2"/>
<text x="669.5" y="927.5" font-family='"Liberation Serif", serif' font-size="13.8" font-weight="bold" text-anchor="middle" fill="#000">SiC@MO-t6</text>
<line x1="754.2" y1="906.5" x2="754.2" y2="911.0" stroke="#000" stroke-width="2"/>
<text x="754.2" y="927.5" font-family='"Liberation Serif", serif' font-size="13.8" font-weight="bold" text-anchor="middle" fill="#000">SiC@MO-t8</text>
<line x1="544.0" y1="906.5" x2="544.0" y2="909.0" stroke="#000" stroke-width="1.6"/>
<line x1="628.0" y1="906.5" x2="628.0" y2="909.0" stroke="#000" stroke-width="1.6"/>
<line x1="712.0" y1="906.5" x2="712.0" y2="909.0" stroke="#000" stroke-width="1.6"/>
<line x1="454.8" y1="906.0" x2="459.3" y2="906.0" stroke="#000" stroke-width="2"/>
<text x="451.0" y="911.6" font-family='"Liberation Serif", serif' font-size="17.5" font-weight="bold" text-anchor="end" fill="#000">0.0</text>
<line x1="454.8" y1="830.7" x2="459.3" y2="830.7" stroke="#000" stroke-width="2"/>
<text x="451.0" y="836.3" font-family='"Liberation Serif", serif' font-size="17.5" font-weight="bold" text-anchor="end" fill="#000">0.2</text>
<line x1="454.8" y1="755.4" x2="459.3" y2="755.4" stroke="#000" stroke-width="2"/>
<text x="451.0" y="761.0" font-family='"Liberation Serif", serif' font-size="17.5" font-weight="bold" text-anchor="end" fill="#000">0.4</text>
<line x1="454.8" y1="680.1" x2="459.3" y2="680.1" stroke="#000" stroke-width="2"/>
<text x="451.0" y="685.7" font-family='"Liberation Serif", serif' font-size="17.5" font-weight="bold" text-anchor="end" fill="#000">0.6</text>
<line x1="456.8" y1="868.4" x2="459.3" y2="868.4" stroke="#000" stroke-width="1.6"/>
<line x1="456.8" y1="793.0" x2="459.3" y2="793.0" stroke="#000" stroke-width="1.6"/>
<line x1="456.8" y1="717.8" x2="459.3" y2="717.8" stroke="#000" stroke-width="1.6"/>
<text x="628.0" y="950.5" font-family='"Liberation Serif", serif' font-size="23" font-weight="bold" text-anchor="middle" fill="#000">Samples</text>
<text x="422.5" y="774.0" font-family='"Liberation Serif", serif' font-size="23" font-weight="bold" text-anchor="middle" fill="#000" transform="rotate(-90 422.5 774)">Slope</text>
<text x="429.8" y="663.4" font-family='"Liberation Serif", serif' font-size="36" font-weight="bold" text-anchor="middle" fill="#000">(h)</text>
<line x1="898.3" y1="644" x2="898.3" y2="904.8" stroke="#6a6a6a" stroke-width="1.4" stroke-dasharray="5.5,3.5"/>
<line x1="982.0" y1="644" x2="982.0" y2="904.8" stroke="#6a6a6a" stroke-width="1.4" stroke-dasharray="5.5,3.5"/>
<line x1="1065.7" y1="644" x2="1065.7" y2="904.8" stroke="#6a6a6a" stroke-width="1.4" stroke-dasharray="5.5,3.5"/>
<line x1="1149.4" y1="644" x2="1149.4" y2="904.8" stroke="#6a6a6a" stroke-width="1.4" stroke-dasharray="5.5,3.5"/>
<line x1="855" y1="872.3" x2="1190.3" y2="872.3" stroke="#6a6a6a" stroke-width="1.4" stroke-dasharray="5.5,3.5"/>
<line x1="855" y1="806.9" x2="1190.3" y2="806.9" stroke="#6a6a6a" stroke-width="1.4" stroke-dasharray="5.5,3.5"/>
<line x1="855" y1="741.5" x2="1190.3" y2="741.5" stroke="#6a6a6a" stroke-width="1.4" stroke-dasharray="5.5,3.5"/>
<line x1="855" y1="676.1" x2="1190.3" y2="676.1" stroke="#6a6a6a" stroke-width="1.4" stroke-dasharray="5.5,3.5"/>
<g clip-path="url(#cpI)">
<path d="M856.0,871.6 L861.0,871.3 L866.0,871.0 L871.0,870.7 L876.0,870.4 L881.0,870.1 L886.0,869.8 L891.0,869.5 L896.0,869.2 L901.0,868.9 L906.0,868.5 L911.0,867.2 L916.0,861.7 L921.0,856.2 L926.0,850.8 L931.0,846.8 L936.0,843.0 L941.0,841.0 L946.0,846.0 L951.0,853.2 L956.0,860.7 L961.0,867.1 L966.0,869.0 L971.0,870.8 L976.0,871.5 L981.0,871.1 L986.0,870.6 L991.0,870.2 L996.0,869.8 L1001.0,869.4 L1006.0,869.0 L1011.0,868.6 L1016.0,868.1 L1021.0,867.7 L1026.0,867.3 L1031.0,866.9 L1036.0,866.8 L1041.0,867.0 L1046.0,867.2 L1051.0,867.4 L1056.0,867.6 L1061.0,867.8 L1066.0,868.0 L1071.0,868.2 L1076.0,868.4 L1081.0,868.6 L1086.0,868.8 L1091.0,868.9 L1096.0,869.1 L1101.0,869.0 L1106.0,867.3 L1111.0,865.7 L1116.0,864.1 L1121.0,863.2 L1126.0,865.3 L1131.0,867.3 L1136.0,869.4 L1141.0,870.8 L1146.0,869.5 L1151.0,868.2 L1156.0,867.0 L1161.0,865.9 L1166.0,865.5 L1171.0,865.1 L1176.0,864.7 L1181.0,864.0 L1186.0,862.0 L1191.0,853.0" fill="none" stroke="#5b8e3a" stroke-width="1.8"/>
<circle cx="856.0" cy="871.6" r="3.7" fill="url(#mg_g)"/>
<circle cx="861.0" cy="871.3" r="3.7" fill="url(#mg_g)"/>
<circle cx="866.0" cy="871.0" r="3.7" fill="url(#mg_g)"/>
<circle cx="871.0" cy="870.7" r="3.7" fill="url(#mg_g)"/>
<circle cx="876.0" cy="870.4" r="3.7" fill="url(#mg_g)"/>
<circle cx="881.0" cy="870.1" r="3.7" fill="url(#mg_g)"/>
<circle cx="886.0" cy="869.8" r="3.7" fill="url(#mg_g)"/>
<circle cx="891.0" cy="869.5" r="3.7" fill="url(#mg_g)"/>
<circle cx="896.0" cy="869.2" r="3.7" fill="url(#mg_g)"/>
<circle cx="901.0" cy="868.9" r="3.7" fill="url(#mg_g)"/>
<circle cx="906.0" cy="868.5" r="3.7" fill="url(#mg_g)"/>
<circle cx="911.0" cy="867.2" r="3.7" fill="url(#mg_g)"/>
<circle cx="916.0" cy="861.7" r="3.7" fill="url(#mg_g)"/>
<circle cx="921.0" cy="856.2" r="3.7" fill="url(#mg_g)"/>
<circle cx="926.0" cy="850.8" r="3.7" fill="url(#mg_g)"/>
<circle cx="931.0" cy="846.8" r="3.7" fill="url(#mg_g)"/>
<circle cx="936.0" cy="843.0" r="3.7" fill="url(#mg_g)"/>
<circle cx="941.0" cy="841.0" r="3.7" fill="url(#mg_g)"/>
<circle cx="946.0" cy="846.0" r="3.7" fill="url(#mg_g)"/>
<circle cx="951.0" cy="853.2" r="3.7" fill="url(#mg_g)"/>
<circle cx="956.0" cy="860.7" r="3.7" fill="url(#mg_g)"/>
<circle cx="961.0" cy="867.1" r="3.7" fill="url(#mg_g)"/>
<circle cx="966.0" cy="869.0" r="3.7" fill="url(#mg_g)"/>
<circle cx="971.0" cy="870.8" r="3.7" fill="url(#mg_g)"/>
<circle cx="976.0" cy="871.5" r="3.7" fill="url(#mg_g)"/>
<circle cx="981.0" cy="871.1" r="3.7" fill="url(#mg_g)"/>
<circle cx="986.0" cy="870.6" r="3.7" fill="url(#mg_g)"/>
<circle cx="991.0" cy="870.2" r="3.7" fill="url(#mg_g)"/>
<circle cx="996.0" cy="869.8" r="3.7" fill="url(#mg_g)"/>
<circle cx="1001.0" cy="869.4" r="3.7" fill="url(#mg_g)"/>
<circle cx="1006.0" cy="869.0" r="3.7" fill="url(#mg_g)"/>
<circle cx="1011.0" cy="868.6" r="3.7" fill="url(#mg_g)"/>
<circle cx="1016.0" cy="868.1" r="3.7" fill="url(#mg_g)"/>
<circle cx="1021.0" cy="867.7" r="3.7" fill="url(#mg_g)"/>
<circle cx="1026.0" cy="867.3" r="3.7" fill="url(#mg_g)"/>
<circle cx="1031.0" cy="866.9" r="3.7" fill="url(#mg_g)"/>
<circle cx="1036.0" cy="866.8" r="3.7" fill="url(#mg_g)"/>
<circle cx="1041.0" cy="867.0" r="3.7" fill="url(#mg_g)"/>
<circle cx="1046.0" cy="867.2" r="3.7" fill="url(#mg_g)"/>
<circle cx="1051.0" cy="867.4" r="3.7" fill="url(#mg_g)"/>
<circle cx="1056.0" cy="867.6" r="3.7" fill="url(#mg_g)"/>
<circle cx="1061.0" cy="867.8" r="3.7" fill="url(#mg_g)"/>
<circle cx="1066.0" cy="868.0" r="3.7" fill="url(#mg_g)"/>
<circle cx="1071.0" cy="868.2" r="3.7" fill="url(#mg_g)"/>
<circle cx="1076.0" cy="868.4" r="3.7" fill="url(#mg_g)"/>
<circle cx="1081.0" cy="868.6" r="3.7" fill="url(#mg_g)"/>
<circle cx="1086.0" cy="868.8" r="3.7" fill="url(#mg_g)"/>
<circle cx="1091.0" cy="868.9" r="3.7" fill="url(#mg_g)"/>
<circle cx="1096.0" cy="869.1" r="3.7" fill="url(#mg_g)"/>
<circle cx="1101.0" cy="869.0" r="3.7" fill="url(#mg_g)"/>
<circle cx="1106.0" cy="867.3" r="3.7" fill="url(#mg_g)"/>
<circle cx="1111.0" cy="865.7" r="3.7" fill="url(#mg_g)"/>
<circle cx="1116.0" cy="864.1" r="3.7" fill="url(#mg_g)"/>
<circle cx="1121.0" cy="863.2" r="3.7" fill="url(#mg_g)"/>
<circle cx="1126.0" cy="865.3" r="3.7" fill="url(#mg_g)"/>
<circle cx="1131.0" cy="867.3" r="3.7" fill="url(#mg_g)"/>
<circle cx="1136.0" cy="869.4" r="3.7" fill="url(#mg_g)"/>
<circle cx="1141.0" cy="870.8" r="3.7" fill="url(#mg_g)"/>
<circle cx="1146.0" cy="869.5" r="3.7" fill="url(#mg_g)"/>
<circle cx="1151.0" cy="868.2" r="3.7" fill="url(#mg_g)"/>
<circle cx="1156.0" cy="867.0" r="3.7" fill="url(#mg_g)"/>
<circle cx="1161.0" cy="865.9" r="3.7" fill="url(#mg_g)"/>
<circle cx="1166.0" cy="865.5" r="3.7" fill="url(#mg_g)"/>
<circle cx="1171.0" cy="865.1" r="3.7" fill="url(#mg_g)"/>
<circle cx="1176.0" cy="864.7" r="3.7" fill="url(#mg_g)"/>
<circle cx="1181.0" cy="864.0" r="3.7" fill="url(#mg_g)"/>
<circle cx="1186.0" cy="862.0" r="3.7" fill="url(#mg_g)"/>
<circle cx="1191.0" cy="853.0" r="3.7" fill="url(#mg_g)"/>
</g>
<g clip-path="url(#cpI)">
<path d="M856.0,868.3 L861.0,868.0 L866.0,867.8 L871.0,867.6 L876.0,867.4 L881.0,867.2 L886.0,867.0 L891.0,866.8 L896.0,866.6 L901.0,866.4 L906.0,866.2 L911.0,865.9 L916.0,865.7 L921.0,865.5 L926.0,865.3 L931.0,865.1 L936.0,864.2 L941.0,862.7 L946.0,861.2 L951.0,859.7 L956.0,858.2 L961.0,856.7 L966.0,855.2 L971.0,854.6 L976.0,854.1 L981.0,853.6 L986.0,853.1 L991.0,852.6 L996.0,852.1 L1001.0,851.2 L1006.0,848.7 L1011.0,846.2 L1016.0,843.7 L1021.0,841.2 L1026.0,838.7 L1031.0,835.2 L1036.0,831.7 L1041.0,828.1 L1046.0,824.5 L1051.0,822.2 L1056.0,824.4 L1061.0,826.7 L1066.0,828.9 L1071.0,831.2 L1076.0,833.4 L1081.0,835.7 L1086.0,838.0 L1091.0,840.5 L1096.0,843.0 L1101.0,844.2 L1106.0,840.5 L1111.0,836.7 L1116.0,836.0 L1121.0,837.9 L1126.0,839.7 L1131.0,834.8 L1136.0,828.8 L1141.0,822.8 L1146.0,821.6 L1151.0,824.6 L1156.0,827.6 L1161.0,829.0 L1166.0,824.0 L1171.0,825.1 L1176.0,827.2 L1181.0,829.3 L1186.0,831.3 L1191.0,833.3" fill="none" stroke="#b09428" stroke-width="1.8"/>
<circle cx="856.0" cy="868.3" r="3.7" fill="url(#mg_y)"/>
<circle cx="861.0" cy="868.0" r="3.7" fill="url(#mg_y)"/>
<circle cx="866.0" cy="867.8" r="3.7" fill="url(#mg_y)"/>
<circle cx="871.0" cy="867.6" r="3.7" fill="url(#mg_y)"/>
<circle cx="876.0" cy="867.4" r="3.7" fill="url(#mg_y)"/>
<circle cx="881.0" cy="867.2" r="3.7" fill="url(#mg_y)"/>
<circle cx="886.0" cy="867.0" r="3.7" fill="url(#mg_y)"/>
<circle cx="891.0" cy="866.8" r="3.7" fill="url(#mg_y)"/>
<circle cx="896.0" cy="866.6" r="3.7" fill="url(#mg_y)"/>
<circle cx="901.0" cy="866.4" r="3.7" fill="url(#mg_y)"/>
<circle cx="906.0" cy="866.2" r="3.7" fill="url(#mg_y)"/>
<circle cx="911.0" cy="865.9" r="3.7" fill="url(#mg_y)"/>
<circle cx="916.0" cy="865.7" r="3.7" fill="url(#mg_y)"/>
<circle cx="921.0" cy="865.5" r="3.7" fill="url(#mg_y)"/>
<circle cx="926.0" cy="865.3" r="3.7" fill="url(#mg_y)"/>
<circle cx="931.0" cy="865.1" r="3.7" fill="url(#mg_y)"/>
<circle cx="936.0" cy="864.2" r="3.7" fill="url(#mg_y)"/>
<circle cx="941.0" cy="862.7" r="3.7" fill="url(#mg_y)"/>
<circle cx="946.0" cy="861.2" r="3.7" fill="url(#mg_y)"/>
<circle cx="951.0" cy="859.7" r="3.7" fill="url(#mg_y)"/>
<circle cx="956.0" cy="858.2" r="3.7" fill="url(#mg_y)"/>
<circle cx="961.0" cy="856.7" r="3.7" fill="url(#mg_y)"/>
<circle cx="966.0" cy="855.2" r="3.7" fill="url(#mg_y)"/>
<circle cx="971.0" cy="854.6" r="3.7" fill="url(#mg_y)"/>
<circle cx="976.0" cy="854.1" r="3.7" fill="url(#mg_y)"/>
<circle cx="981.0" cy="853.6" r="3.7" fill="url(#mg_y)"/>
<circle cx="986.0" cy="853.1" r="3.7" fill="url(#mg_y)"/>
<circle cx="991.0" cy="852.6" r="3.7" fill="url(#mg_y)"/>
<circle cx="996.0" cy="852.1" r="3.7" fill="url(#mg_y)"/>
<circle cx="1001.0" cy="851.2" r="3.7" fill="url(#mg_y)"/>
<circle cx="1006.0" cy="848.7" r="3.7" fill="url(#mg_y)"/>
<circle cx="1011.0" cy="846.2" r="3.7" fill="url(#mg_y)"/>
<circle cx="1016.0" cy="843.7" r="3.7" fill="url(#mg_y)"/>
<circle cx="1021.0" cy="841.2" r="3.7" fill="url(#mg_y)"/>
<circle cx="1026.0" cy="838.7" r="3.7" fill="url(#mg_y)"/>
<circle cx="1031.0" cy="835.2" r="3.7" fill="url(#mg_y)"/>
<circle cx="1036.0" cy="831.7" r="3.7" fill="url(#mg_y)"/>
<circle cx="1041.0" cy="828.1" r="3.7" fill="url(#mg_y)"/>
<circle cx="1046.0" cy="824.5" r="3.7" fill="url(#mg_y)"/>
<circle cx="1051.0" cy="822.2" r="3.7" fill="url(#mg_y)"/>
<circle cx="1056.0" cy="824.4" r="3.7" fill="url(#mg_y)"/>
<circle cx="1061.0" cy="826.7" r="3.7" fill="url(#mg_y)"/>
<circle cx="1066.0" cy="828.9" r="3.7" fill="url(#mg_y)"/>
<circle cx="1071.0" cy="831.2" r="3.7" fill="url(#mg_y)"/>
<circle cx="1076.0" cy="833.4" r="3.7" fill="url(#mg_y)"/>
<circle cx="1081.0" cy="835.7" r="3.7" fill="url(#mg_y)"/>
<circle cx="1086.0" cy="838.0" r="3.7" fill="url(#mg_y)"/>
<circle cx="1091.0" cy="840.5" r="3.7" fill="url(#mg_y)"/>
<circle cx="1096.0" cy="843.0" r="3.7" fill="url(#mg_y)"/>
<circle cx="1101.0" cy="844.2" r="3.7" fill="url(#mg_y)"/>
<circle cx="1106.0" cy="840.5" r="3.7" fill="url(#mg_y)"/>
<circle cx="1111.0" cy="836.7" r="3.7" fill="url(#mg_y)"/>
<circle cx="1116.0" cy="836.0" r="3.7" fill="url(#mg_y)"/>
<circle cx="1121.0" cy="837.9" r="3.7" fill="url(#mg_y)"/>
<circle cx="1126.0" cy="839.7" r="3.7" fill="url(#mg_y)"/>
<circle cx="1131.0" cy="834.8" r="3.7" fill="url(#mg_y)"/>
<circle cx="1136.0" cy="828.8" r="3.7" fill="url(#mg_y)"/>
<circle cx="1141.0" cy="822.8" r="3.7" fill="url(#mg_y)"/>
<circle cx="1146.0" cy="821.6" r="3.7" fill="url(#mg_y)"/>
<circle cx="1151.0" cy="824.6" r="3.7" fill="url(#mg_y)"/>
<circle cx="1156.0" cy="827.6" r="3.7" fill="url(#mg_y)"/>
<circle cx="1161.0" cy="829.0" r="3.7" fill="url(#mg_y)"/>
<circle cx="1166.0" cy="824.0" r="3.7" fill="url(#mg_y)"/>
<circle cx="1171.0" cy="825.1" r="3.7" fill="url(#mg_y)"/>
<circle cx="1176.0" cy="827.2" r="3.7" fill="url(#mg_y)"/>
<circle cx="1181.0" cy="829.3" r="3.7" fill="url(#mg_y)"/>
<circle cx="1186.0" cy="831.3" r="3.7" fill="url(#mg_y)"/>
<circle cx="1191.0" cy="833.3" r="3.7" fill="url(#mg_y)"/>
</g>
<g clip-path="url(#cpI)">
<path d="M856.0,859.9 L861.0,859.5 L866.0,859.1 L871.0,858.7 L876.0,858.3 L881.0,857.9 L886.0,857.5 L891.0,857.2 L896.0,856.8 L901.0,855.3 L906.0,853.6 L911.0,851.9 L916.0,850.2 L921.0,847.9 L926.0,845.4 L931.0,842.9 L936.0,840.1 L941.0,837.2 L946.0,834.3 L951.0,831.3 L956.0,827.3 L961.0,822.4 L966.0,817.4 L971.0,812.4 L976.0,807.3 L981.0,802.3 L986.0,797.3 L991.0,792.3 L996.0,787.3 L1001.0,781.3 L1006.0,771.3 L1011.0,761.9 L1016.0,754.9 L1021.0,748.0 L1026.0,741.0 L1031.0,737.5 L1036.0,734.6 L1041.0,731.6 L1046.0,728.7 L1051.0,725.8 L1056.0,722.9 L1061.0,720.0 L1066.0,717.1 L1071.0,715.1 L1076.0,713.3 L1081.0,711.5 L1086.0,709.7 L1091.0,708.7 L1096.0,710.9 L1101.0,711.9 L1106.0,707.7 L1111.0,703.6 L1116.0,703.9 L1121.0,707.8 L1126.0,711.8 L1131.0,714.2 L1136.0,710.2 L1141.0,706.2 L1146.0,702.3 L1151.0,709.6 L1156.0,718.7 L1161.0,716.0 L1166.0,711.3 L1171.0,706.7 L1176.0,712.8 L1181.0,720.6 L1186.0,717.7 L1191.0,713.3" fill="none" stroke="#d2722e" stroke-width="1.8"/>
<circle cx="856.0" cy="859.9" r="3.7" fill="url(#mg_o)"/>
<circle cx="861.0" cy="859.5" r="3.7" fill="url(#mg_o)"/>
<circle cx="866.0" cy="859.1" r="3.7" fill="url(#mg_o)"/>
<circle cx="871.0" cy="858.7" r="3.7" fill="url(#mg_o)"/>
<circle cx="876.0" cy="858.3" r="3.7" fill="url(#mg_o)"/>
<circle cx="881.0" cy="857.9" r="3.7" fill="url(#mg_o)"/>
<circle cx="886.0" cy="857.5" r="3.7" fill="url(#mg_o)"/>
<circle cx="891.0" cy="857.2" r="3.7" fill="url(#mg_o)"/>
<circle cx="896.0" cy="856.8" r="3.7" fill="url(#mg_o)"/>
<circle cx="901.0" cy="855.3" r="3.7" fill="url(#mg_o)"/>
<circle cx="906.0" cy="853.6" r="3.7" fill="url(#mg_o)"/>
<circle cx="911.0" cy="851.9" r="3.7" fill="url(#mg_o)"/>
<circle cx="916.0" cy="850.2" r="3.7" fill="url(#mg_o)"/>
<circle cx="921.0" cy="847.9" r="3.7" fill="url(#mg_o)"/>
<circle cx="926.0" cy="845.4" r="3.7" fill="url(#mg_o)"/>
<circle cx="931.0" cy="842.9" r="3.7" fill="url(#mg_o)"/>
<circle cx="936.0" cy="840.1" r="3.7" fill="url(#mg_o)"/>
<circle cx="941.0" cy="837.2" r="3.7" fill="url(#mg_o)"/>
<circle cx="946.0" cy="834.3" r="3.7" fill="url(#mg_o)"/>
<circle cx="951.0" cy="831.3" r="3.7" fill="url(#mg_o)"/>
<circle cx="956.0" cy="827.3" r="3.7" fill="url(#mg_o)"/>
<circle cx="961.0" cy="822.4" r="3.7" fill="url(#mg_o)"/>
<circle cx="966.0" cy="817.4" r="3.7" fill="url(#mg_o)"/>
<circle cx="971.0" cy="812.4" r="3.7" fill="url(#mg_o)"/>
<circle cx="976.0" cy="807.3" r="3.7" fill="url(#mg_o)"/>
<circle cx="981.0" cy="802.3" r="3.7" fill="url(#mg_o)"/>
<circle cx="986.0" cy="797.3" r="3.7" fill="url(#mg_o)"/>
<circle cx="991.0" cy="792.3" r="3.7" fill="url(#mg_o)"/>
<circle cx="996.0" cy="787.3" r="3.7" fill="url(#mg_o)"/>
<circle cx="1001.0" cy="781.3" r="3.7" fill="url(#mg_o)"/>
<circle cx="1006.0" cy="771.3" r="3.7" fill="url(#mg_o)"/>
<circle cx="1011.0" cy="761.9" r="3.7" fill="url(#mg_o)"/>
<circle cx="1016.0" cy="754.9" r="3.7" fill="url(#mg_o)"/>
<circle cx="1021.0" cy="748.0" r="3.7" fill="url(#mg_o)"/>
<circle cx="1026.0" cy="741.0" r="3.7" fill="url(#mg_o)"/>
<circle cx="1031.0" cy="737.5" r="3.7" fill="url(#mg_o)"/>
<circle cx="1036.0" cy="734.6" r="3.7" fill="url(#mg_o)"/>
<circle cx="1041.0" cy="731.6" r="3.7" fill="url(#mg_o)"/>
<circle cx="1046.0" cy="728.7" r="3.7" fill="url(#mg_o)"/>
<circle cx="1051.0" cy="725.8" r="3.7" fill="url(#mg_o)"/>
<circle cx="1056.0" cy="722.9" r="3.7" fill="url(#mg_o)"/>
<circle cx="1061.0" cy="720.0" r="3.7" fill="url(#mg_o)"/>
<circle cx="1066.0" cy="717.1" r="3.7" fill="url(#mg_o)"/>
<circle cx="1071.0" cy="715.1" r="3.7" fill="url(#mg_o)"/>
<circle cx="1076.0" cy="713.3" r="3.7" fill="url(#mg_o)"/>
<circle cx="1081.0" cy="711.5" r="3.7" fill="url(#mg_o)"/>
<circle cx="1086.0" cy="709.7" r="3.7" fill="url(#mg_o)"/>
<circle cx="1091.0" cy="708.7" r="3.7" fill="url(#mg_o)"/>
<circle cx="1096.0" cy="710.9" r="3.7" fill="url(#mg_o)"/>
<circle cx="1101.0" cy="711.9" r="3.7" fill="url(#mg_o)"/>
<circle cx="1106.0" cy="707.7" r="3.7" fill="url(#mg_o)"/>
<circle cx="1111.0" cy="703.6" r="3.7" fill="url(#mg_o)"/>
<circle cx="1116.0" cy="703.9" r="3.7" fill="url(#mg_o)"/>
<circle cx="1121.0" cy="707.8" r="3.7" fill="url(#mg_o)"/>
<circle cx="1126.0" cy="711.8" r="3.7" fill="url(#mg_o)"/>
<circle cx="1131.0" cy="714.2" r="3.7" fill="url(#mg_o)"/>
<circle cx="1136.0" cy="710.2" r="3.7" fill="url(#mg_o)"/>
<circle cx="1141.0" cy="706.2" r="3.7" fill="url(#mg_o)"/>
<circle cx="1146.0" cy="702.3" r="3.7" fill="url(#mg_o)"/>
<circle cx="1151.0" cy="709.6" r="3.7" fill="url(#mg_o)"/>
<circle cx="1156.0" cy="718.7" r="3.7" fill="url(#mg_o)"/>
<circle cx="1161.0" cy="716.0" r="3.7" fill="url(#mg_o)"/>
<circle cx="1166.0" cy="711.3" r="3.7" fill="url(#mg_o)"/>
<circle cx="1171.0" cy="706.7" r="3.7" fill="url(#mg_o)"/>
<circle cx="1176.0" cy="712.8" r="3.7" fill="url(#mg_o)"/>
<circle cx="1181.0" cy="720.6" r="3.7" fill="url(#mg_o)"/>
<circle cx="1186.0" cy="717.7" r="3.7" fill="url(#mg_o)"/>
<circle cx="1191.0" cy="713.3" r="3.7" fill="url(#mg_o)"/>
</g>
<g clip-path="url(#cpI)">
<path d="M856.0,863.3 L861.0,863.2 L866.0,863.1 L871.0,863.0 L876.0,863.0 L881.0,862.9 L886.0,862.8 L891.0,862.7 L896.0,863.3 L901.0,864.5 L906.0,865.7 L911.0,866.9 L916.0,867.9 L921.0,868.9 L926.0,869.9 L931.0,866.1 L936.0,861.6 L941.0,857.1 L946.0,853.6 L951.0,851.1 L956.0,848.6 L961.0,846.1 L966.0,843.6 L971.0,841.1 L976.0,838.6 L981.0,836.1 L986.0,833.6 L991.0,830.4 L996.0,827.1 L1001.0,823.8 L1006.0,820.5 L1011.0,817.9 L1016.0,815.4 L1021.0,812.9 L1026.0,810.4 L1031.0,807.9 L1036.0,805.8 L1041.0,804.0 L1046.0,802.3 L1051.0,800.5 L1056.0,798.7 L1061.0,797.0 L1066.0,795.2 L1071.0,796.3 L1076.0,797.8 L1081.0,799.3 L1086.0,800.8 L1091.0,802.3 L1096.0,803.8 L1101.0,805.3 L1106.0,806.5 L1111.0,807.8 L1116.0,809.0 L1121.0,810.3 L1126.0,811.5 L1131.0,809.9 L1136.0,807.8 L1141.0,805.7 L1146.0,803.6 L1151.0,806.5 L1156.0,810.3 L1161.0,811.9 L1166.0,804.8 L1171.0,797.7 L1176.0,801.7 L1181.0,807.5 L1186.0,804.3 L1191.0,800.0" fill="none" stroke="#4a64a0" stroke-width="1.8"/>
<circle cx="856.0" cy="863.3" r="3.7" fill="url(#mg_b)"/>
<circle cx="861.0" cy="863.2" r="3.7" fill="url(#mg_b)"/>
<circle cx="866.0" cy="863.1" r="3.7" fill="url(#mg_b)"/>
<circle cx="871.0" cy="863.0" r="3.7" fill="url(#mg_b)"/>
<circle cx="876.0" cy="863.0" r="3.7" fill="url(#mg_b)"/>
<circle cx="881.0" cy="862.9" r="3.7" fill="url(#mg_b)"/>
<circle cx="886.0" cy="862.8" r="3.7" fill="url(#mg_b)"/>
<circle cx="891.0" cy="862.7" r="3.7" fill="url(#mg_b)"/>
<circle cx="896.0" cy="863.3" r="3.7" fill="url(#mg_b)"/>
<circle cx="901.0" cy="864.5" r="3.7" fill="url(#mg_b)"/>
<circle cx="906.0" cy="865.7" r="3.7" fill="url(#mg_b)"/>
<circle cx="911.0" cy="866.9" r="3.7" fill="url(#mg_b)"/>
<circle cx="916.0" cy="867.9" r="3.7" fill="url(#mg_b)"/>
<circle cx="921.0" cy="868.9" r="3.7" fill="url(#mg_b)"/>
<circle cx="926.0" cy="869.9" r="3.7" fill="url(#mg_b)"/>
<circle cx="931.0" cy="866.1" r="3.7" fill="url(#mg_b)"/>
<circle cx="936.0" cy="861.6" r="3.7" fill="url(#mg_b)"/>
<circle cx="941.0" cy="857.1" r="3.7" fill="url(#mg_b)"/>
<circle cx="946.0" cy="853.6" r="3.7" fill="url(#mg_b)"/>
<circle cx="951.0" cy="851.1" r="3.7" fill="url(#mg_b)"/>
<circle cx="956.0" cy="848.6" r="3.7" fill="url(#mg_b)"/>
<circle cx="961.0" cy="846.1" r="3.7" fill="url(#mg_b)"/>
<circle cx="966.0" cy="843.6" r="3.7" fill="url(#mg_b)"/>
<circle cx="971.0" cy="841.1" r="3.7" fill="url(#mg_b)"/>
<circle cx="976.0" cy="838.6" r="3.7" fill="url(#mg_b)"/>
<circle cx="981.0" cy="836.1" r="3.7" fill="url(#mg_b)"/>
<circle cx="986.0" cy="833.6" r="3.7" fill="url(#mg_b)"/>
<circle cx="991.0" cy="830.4" r="3.7" fill="url(#mg_b)"/>
<circle cx="996.0" cy="827.1" r="3.7" fill="url(#mg_b)"/>
<circle cx="1001.0" cy="823.8" r="3.7" fill="url(#mg_b)"/>
<circle cx="1006.0" cy="820.5" r="3.7" fill="url(#mg_b)"/>
<circle cx="1011.0" cy="817.9" r="3.7" fill="url(#mg_b)"/>
<circle cx="1016.0" cy="815.4" r="3.7" fill="url(#mg_b)"/>
<circle cx="1021.0" cy="812.9" r="3.7" fill="url(#mg_b)"/>
<circle cx="1026.0" cy="810.4" r="3.7" fill="url(#mg_b)"/>
<circle cx="1031.0" cy="807.9" r="3.7" fill="url(#mg_b)"/>
<circle cx="1036.0" cy="805.8" r="3.7" fill="url(#mg_b)"/>
<circle cx="1041.0" cy="804.0" r="3.7" fill="url(#mg_b)"/>
<circle cx="1046.0" cy="802.3" r="3.7" fill="url(#mg_b)"/>
<circle cx="1051.0" cy="800.5" r="3.7" fill="url(#mg_b)"/>
<circle cx="1056.0" cy="798.7" r="3.7" fill="url(#mg_b)"/>
<circle cx="1061.0" cy="797.0" r="3.7" fill="url(#mg_b)"/>
<circle cx="1066.0" cy="795.2" r="3.7" fill="url(#mg_b)"/>
<circle cx="1071.0" cy="796.3" r="3.7" fill="url(#mg_b)"/>
<circle cx="1076.0" cy="797.8" r="3.7" fill="url(#mg_b)"/>
<circle cx="1081.0" cy="799.3" r="3.7" fill="url(#mg_b)"/>
<circle cx="1086.0" cy="800.8" r="3.7" fill="url(#mg_b)"/>
<circle cx="1091.0" cy="802.3" r="3.7" fill="url(#mg_b)"/>
<circle cx="1096.0" cy="803.8" r="3.7" fill="url(#mg_b)"/>
<circle cx="1101.0" cy="805.3" r="3.7" fill="url(#mg_b)"/>
<circle cx="1106.0" cy="806.5" r="3.7" fill="url(#mg_b)"/>
<circle cx="1111.0" cy="807.8" r="3.7" fill="url(#mg_b)"/>
<circle cx="1116.0" cy="809.0" r="3.7" fill="url(#mg_b)"/>
<circle cx="1121.0" cy="810.3" r="3.7" fill="url(#mg_b)"/>
<circle cx="1126.0" cy="811.5" r="3.7" fill="url(#mg_b)"/>
<circle cx="1131.0" cy="809.9" r="3.7" fill="url(#mg_b)"/>
<circle cx="1136.0" cy="807.8" r="3.7" fill="url(#mg_b)"/>
<circle cx="1141.0" cy="805.7" r="3.7" fill="url(#mg_b)"/>
<circle cx="1146.0" cy="803.6" r="3.7" fill="url(#mg_b)"/>
<circle cx="1151.0" cy="806.5" r="3.7" fill="url(#mg_b)"/>
<circle cx="1156.0" cy="810.3" r="3.7" fill="url(#mg_b)"/>
<circle cx="1161.0" cy="811.9" r="3.7" fill="url(#mg_b)"/>
<circle cx="1166.0" cy="804.8" r="3.7" fill="url(#mg_b)"/>
<circle cx="1171.0" cy="797.7" r="3.7" fill="url(#mg_b)"/>
<circle cx="1176.0" cy="801.7" r="3.7" fill="url(#mg_b)"/>
<circle cx="1181.0" cy="807.5" r="3.7" fill="url(#mg_b)"/>
<circle cx="1186.0" cy="804.3" r="3.7" fill="url(#mg_b)"/>
<circle cx="1191.0" cy="800.0" r="3.7" fill="url(#mg_b)"/>
</g>
<g clip-path="url(#cpI)">
<path d="M856.0,871.7 L861.0,871.6 L866.0,871.5 L871.0,871.3 L876.0,871.2 L881.0,871.1 L886.0,871.0 L891.0,870.9 L896.0,870.8 L901.0,870.5 L906.0,869.6 L911.0,868.7 L916.0,867.7 L921.0,866.8 L926.0,865.9 L931.0,865.0 L936.0,864.0 L941.0,863.3 L946.0,863.1 L951.0,863.0 L956.0,862.9 L961.0,862.7 L966.0,862.6 L971.0,862.5 L976.0,862.3 L981.0,862.2 L986.0,862.1 L991.0,861.9 L996.0,861.8 L1001.0,861.4 L1006.0,860.2 L1011.0,858.9 L1016.0,857.7 L1021.0,856.4 L1026.0,855.1 L1031.0,853.9 L1036.0,852.7 L1041.0,851.5 L1046.0,850.4 L1051.0,849.3 L1056.0,848.1 L1061.0,846.7 L1066.0,844.2 L1071.0,841.7 L1076.0,839.3 L1081.0,836.8 L1086.0,835.4 L1091.0,836.9 L1096.0,838.5 L1101.0,840.0 L1106.0,841.5 L1111.0,844.4 L1116.0,847.6 L1121.0,850.3 L1126.0,847.8 L1131.0,845.3 L1136.0,842.8 L1141.0,840.3 L1146.0,841.3 L1151.0,843.3 L1156.0,845.2 L1161.0,844.1 L1166.0,842.2 L1171.0,841.6 L1176.0,841.8 L1181.0,842.0 L1186.0,842.1 L1191.0,842.3" fill="none" stroke="#2fb89a" stroke-width="1.8"/>
<circle cx="856.0" cy="871.7" r="3.7" fill="url(#mg_t)"/>
<circle cx="861.0" cy="871.6" r="3.7" fill="url(#mg_t)"/>
<circle cx="866.0" cy="871.5" r="3.7" fill="url(#mg_t)"/>
<circle cx="871.0" cy="871.3" r="3.7" fill="url(#mg_t)"/>
<circle cx="876.0" cy="871.2" r="3.7" fill="url(#mg_t)"/>
<circle cx="881.0" cy="871.1" r="3.7" fill="url(#mg_t)"/>
<circle cx="886.0" cy="871.0" r="3.7" fill="url(#mg_t)"/>
<circle cx="891.0" cy="870.9" r="3.7" fill="url(#mg_t)"/>
<circle cx="896.0" cy="870.8" r="3.7" fill="url(#mg_t)"/>
<circle cx="901.0" cy="870.5" r="3.7" fill="url(#mg_t)"/>
<circle cx="906.0" cy="869.6" r="3.7" fill="url(#mg_t)"/>
<circle cx="911.0" cy="868.7" r="3.7" fill="url(#mg_t)"/>
<circle cx="916.0" cy="867.7" r="3.7" fill="url(#mg_t)"/>
<circle cx="921.0" cy="866.8" r="3.7" fill="url(#mg_t)"/>
<circle cx="926.0" cy="865.9" r="3.7" fill="url(#mg_t)"/>
<circle cx="931.0" cy="865.0" r="3.7" fill="url(#mg_t)"/>
<circle cx="936.0" cy="864.0" r="3.7" fill="url(#mg_t)"/>
<circle cx="941.0" cy="863.3" r="3.7" fill="url(#mg_t)"/>
<circle cx="946.0" cy="863.1" r="3.7" fill="url(#mg_t)"/>
<circle cx="951.0" cy="863.0" r="3.7" fill="url(#mg_t)"/>
<circle cx="956.0" cy="862.9" r="3.7" fill="url(#mg_t)"/>
<circle cx="961.0" cy="862.7" r="3.7" fill="url(#mg_t)"/>
<circle cx="966.0" cy="862.6" r="3.7" fill="url(#mg_t)"/>
<circle cx="971.0" cy="862.5" r="3.7" fill="url(#mg_t)"/>
<circle cx="976.0" cy="862.3" r="3.7" fill="url(#mg_t)"/>
<circle cx="981.0" cy="862.2" r="3.7" fill="url(#mg_t)"/>
<circle cx="986.0" cy="862.1" r="3.7" fill="url(#mg_t)"/>
<circle cx="991.0" cy="861.9" r="3.7" fill="url(#mg_t)"/>
<circle cx="996.0" cy="861.8" r="3.7" fill="url(#mg_t)"/>
<circle cx="1001.0" cy="861.4" r="3.7" fill="url(#mg_t)"/>
<circle cx="1006.0" cy="860.2" r="3.7" fill="url(#mg_t)"/>
<circle cx="1011.0" cy="858.9" r="3.7" fill="url(#mg_t)"/>
<circle cx="1016.0" cy="857.7" r="3.7" fill="url(#mg_t)"/>
<circle cx="1021.0" cy="856.4" r="3.7" fill="url(#mg_t)"/>
<circle cx="1026.0" cy="855.1" r="3.7" fill="url(#mg_t)"/>
<circle cx="1031.0" cy="853.9" r="3.7" fill="url(#mg_t)"/>
<circle cx="1036.0" cy="852.7" r="3.7" fill="url(#mg_t)"/>
<circle cx="1041.0" cy="851.5" r="3.7" fill="url(#mg_t)"/>
<circle cx="1046.0" cy="850.4" r="3.7" fill="url(#mg_t)"/>
<circle cx="1051.0" cy="849.3" r="3.7" fill="url(#mg_t)"/>
<circle cx="1056.0" cy="848.1" r="3.7" fill="url(#mg_t)"/>
<circle cx="1061.0" cy="846.7" r="3.7" fill="url(#mg_t)"/>
<circle cx="1066.0" cy="844.2" r="3.7" fill="url(#mg_t)"/>
<circle cx="1071.0" cy="841.7" r="3.7" fill="url(#mg_t)"/>
<circle cx="1076.0" cy="839.3" r="3.7" fill="url(#mg_t)"/>
<circle cx="1081.0" cy="836.8" r="3.7" fill="url(#mg_t)"/>
<circle cx="1086.0" cy="835.4" r="3.7" fill="url(#mg_t)"/>
<circle cx="1091.0" cy="836.9" r="3.7" fill="url(#mg_t)"/>
<circle cx="1096.0" cy="838.5" r="3.7" fill="url(#mg_t)"/>
<circle cx="1101.0" cy="840.0" r="3.7" fill="url(#mg_t)"/>
<circle cx="1106.0" cy="841.5" r="3.7" fill="url(#mg_t)"/>
<circle cx="1111.0" cy="844.4" r="3.7" fill="url(#mg_t)"/>
<circle cx="1116.0" cy="847.6" r="3.7" fill="url(#mg_t)"/>
<circle cx="1121.0" cy="850.3" r="3.7" fill="url(#mg_t)"/>
<circle cx="1126.0" cy="847.8" r="3.7" fill="url(#mg_t)"/>
<circle cx="1131.0" cy="845.3" r="3.7" fill="url(#mg_t)"/>
<circle cx="1136.0" cy="842.8" r="3.7" fill="url(#mg_t)"/>
<circle cx="1141.0" cy="840.3" r="3.7" fill="url(#mg_t)"/>
<circle cx="1146.0" cy="841.3" r="3.7" fill="url(#mg_t)"/>
<circle cx="1151.0" cy="843.3" r="3.7" fill="url(#mg_t)"/>
<circle cx="1156.0" cy="845.2" r="3.7" fill="url(#mg_t)"/>
<circle cx="1161.0" cy="844.1" r="3.7" fill="url(#mg_t)"/>
<circle cx="1166.0" cy="842.2" r="3.7" fill="url(#mg_t)"/>
<circle cx="1171.0" cy="841.6" r="3.7" fill="url(#mg_t)"/>
<circle cx="1176.0" cy="841.8" r="3.7" fill="url(#mg_t)"/>
<circle cx="1181.0" cy="842.0" r="3.7" fill="url(#mg_t)"/>
<circle cx="1186.0" cy="842.1" r="3.7" fill="url(#mg_t)"/>
<circle cx="1191.0" cy="842.3" r="3.7" fill="url(#mg_t)"/>
</g>
<line x1="1129.3" y1="805" x2="1129.3" y2="728" stroke="#d01818" stroke-width="1.6" stroke-dasharray="3.5,2"/>
<polygon points="1129.3,719.5 1125,731 1129.3,728 1133.6,731" fill="#d01818"/>
<rect x="855" y="644" width="335.29999999999995" height="260.79999999999995" fill="none" stroke="#000" stroke-width="2.6"/>
<line x1="898.3" y1="904.8" x2="898.3" y2="909.3" stroke="#000" stroke-width="2"/>
<text x="898.3" y="926.5" font-family='"Liberation Serif", serif' font-size="16.5" font-weight="bold" text-anchor="middle" fill="#000">4</text>
<line x1="982.0" y1="904.8" x2="982.0" y2="909.3" stroke="#000" stroke-width="2"/>
<text x="982.0" y="926.5" font-family='"Liberation Serif", serif' font-size="16.5" font-weight="bold" text-anchor="middle" fill="#000">8</text>
<line x1="1065.7" y1="904.8" x2="1065.7" y2="909.3" stroke="#000" stroke-width="2"/>
<text x="1065.7" y="926.5" font-family='"Liberation Serif", serif' font-size="16.5" font-weight="bold" text-anchor="middle" fill="#000">12</text>
<line x1="1149.4" y1="904.8" x2="1149.4" y2="909.3" stroke="#000" stroke-width="2"/>
<text x="1149.4" y="926.5" font-family='"Liberation Serif", serif' font-size="16.5" font-weight="bold" text-anchor="middle" fill="#000">16</text>
<line x1="940.2" y1="904.8" x2="940.2" y2="907.3" stroke="#000" stroke-width="1.6"/>
<line x1="1023.9" y1="904.8" x2="1023.9" y2="907.3" stroke="#000" stroke-width="1.6"/>
<line x1="1107.5" y1="904.8" x2="1107.5" y2="907.3" stroke="#000" stroke-width="1.6"/>
<line x1="850.5" y1="872.3" x2="855" y2="872.3" stroke="#000" stroke-width="2"/>
<text x="847.5" y="878.3" font-family='"Liberation Serif", serif' font-size="17" font-weight="bold" text-anchor="end" fill="#000">0</text>
<line x1="850.5" y1="806.9" x2="855" y2="806.9" stroke="#000" stroke-width="2"/>
<text x="847.5" y="812.9" font-family='"Liberation Serif", serif' font-size="17" font-weight="bold" text-anchor="end" fill="#000">200</text>
<line x1="850.5" y1="741.5" x2="855" y2="741.5" stroke="#000" stroke-width="2"/>
<text x="847.5" y="747.5" font-family='"Liberation Serif", serif' font-size="17" font-weight="bold" text-anchor="end" fill="#000">400</text>
<line x1="850.5" y1="676.1" x2="855" y2="676.1" stroke="#000" stroke-width="2"/>
<text x="847.5" y="682.1" font-family='"Liberation Serif", serif' font-size="17" font-weight="bold" text-anchor="end" fill="#000">600</text>
<line x1="852.5" y1="905.0" x2="855" y2="905.0" stroke="#000" stroke-width="1.6"/>
<line x1="852.5" y1="839.6" x2="855" y2="839.6" stroke="#000" stroke-width="1.6"/>
<line x1="852.5" y1="774.2" x2="855" y2="774.2" stroke="#000" stroke-width="1.6"/>
<line x1="852.5" y1="708.8" x2="855" y2="708.8" stroke="#000" stroke-width="1.6"/>
<text x="1023.0" y="950.5" font-family='"Liberation Serif", serif' font-size="23" font-weight="bold" text-anchor="middle" fill="#000">Frequency (GHz)</text>
<text x="817.7" y="775.0" font-family='"Liberation Serif", serif' font-size="34" font-weight="normal" text-anchor="middle" fill="#000" transform="rotate(-90 817.7 775)">α</text>
<text x="825.0" y="663.0" font-family='"Liberation Serif", serif' font-size="36" font-weight="bold" text-anchor="middle" fill="#000">(i)</text>
<rect x="874.0" y="654.5" width="98.0" height="73.5" fill="#000"/>
<rect x="870.5" y="651" width="98.0" height="73.5" fill="#fff" stroke="#000" stroke-width="1.3"/>
<line x1="873" y1="660" x2="898.5" y2="660" stroke="#5b8e3a" stroke-width="1.8"/>
<circle cx="885.75" cy="660" r="4" fill="#5b8e3a"/>
<circle cx="884.75" cy="658.8" r="1.20" fill="#fff" fill-opacity="0.75"/>
<text x="901.0" y="664.0" font-family='"Liberation Serif", serif' font-size="11" font-weight="bold" text-anchor="start" fill="#000">SiC@MoO<tspan font-size="8" dy="3">3</tspan></text>
<line x1="873" y1="675" x2="898.5" y2="675" stroke="#b09428" stroke-width="1.8"/>
<circle cx="885.75" cy="675" r="4" fill="#b09428"/>
<circle cx="884.75" cy="673.8" r="1.20" fill="#fff" fill-opacity="0.75"/>
<text x="901.0" y="679.0" font-family='"Liberation Serif", serif' font-size="11" font-weight="bold" text-anchor="start" fill="#000">SiC@MO-t2</text>
<line x1="873" y1="689" x2="898.5" y2="689" stroke="#d2722e" stroke-width="1.8"/>
<circle cx="885.75" cy="689" r="4" fill="#d2722e"/>
<circle cx="884.75" cy="687.8" r="1.20" fill="#fff" fill-opacity="0.75"/>
<text x="901.0" y="693.0" font-family='"Liberation Serif", serif' font-size="11" font-weight="bold" text-anchor="start" fill="#000">SiC@MO-t4</text>
<line x1="873" y1="702.5" x2="898.5" y2="702.5" stroke="#4a64a0" stroke-width="1.8"/>
<circle cx="885.75" cy="702.5" r="4" fill="#4a64a0"/>
<circle cx="884.75" cy="701.3" r="1.20" fill="#fff" fill-opacity="0.75"/>
<text x="901.0" y="706.5" font-family='"Liberation Serif", serif' font-size="11" font-weight="bold" text-anchor="start" fill="#000">SiC@MO-t6</text>
<line x1="873" y1="716.5" x2="898.5" y2="716.5" stroke="#2fb89a" stroke-width="1.8"/>
<circle cx="885.75" cy="716.5" r="4" fill="#2fb89a"/>
<circle cx="884.75" cy="715.3" r="1.20" fill="#fff" fill-opacity="0.75"/>
<text x="901.0" y="720.5" font-family='"Liberation Serif", serif' font-size="11" font-weight="bold" text-anchor="start" fill="#000">SiC@MO-t8</text>
<defs>
<filter id="bl3" x="-20%" y="-20%" width="140%" height="140%"><feGaussianBlur stdDeviation="3"/></filter>
<filter id="bl15" x="-50%" y="-20%" width="200%" height="140%"><feGaussianBlur stdDeviation="1.6"/></filter>
<linearGradient id="gBandM" x1="0" y1="0" x2="0" y2="1"><stop offset="0" stop-color="#bcd9a2" stop-opacity="0.8"/><stop offset="1" stop-color="#a0c878" stop-opacity="0"/></linearGradient>
<filter id="bl5" x="-30%" y="-30%" width="160%" height="160%"><feGaussianBlur stdDeviation="5"/></filter>
<filter id="bl9" x="-40%" y="-40%" width="180%" height="180%"><feGaussianBlur stdDeviation="9"/></filter>
<filter id="bl14" x="-50%" y="-50%" width="200%" height="200%"><feGaussianBlur stdDeviation="14"/></filter>
<linearGradient id="gCbarL" x1="0" y1="0" x2="0" y2="1"><stop offset="0" stop-color="#f4faef"/><stop offset="1" stop-color="#a8d08a"/></linearGradient>
<linearGradient id="gCornerL" x1="1" y1="0" x2="0.3" y2="0.6"><stop offset="0" stop-color="#eef6e6"/><stop offset="0.35" stop-color="#b8d99e" stop-opacity="0.7"/><stop offset="1" stop-color="#a0c878" stop-opacity="0"/></linearGradient>
<clipPath id="cpJ"><rect x="70" y="974.5" width="196.5" height="195.5"/></clipPath>
<clipPath id="cpK"><rect x="366" y="975" width="196" height="194.5"/></clipPath>
<clipPath id="cpL"><rect x="661" y="974.5" width="194" height="194.5"/></clipPath>
<clipPath id="cpM"><rect x="952" y="974" width="195.5" height="195"/></clipPath>
</defs>
<rect x="69.5" y="973.5" width="197.5" height="197.0" fill="#a0c878"/>
<g clip-path="url(#cpJ)"><path d="M190.0,970.0 L230.0,970.0 L230.0,1175.0 L190.0,1175.0 Z" fill="#90bd66" fill-opacity="0.6" filter="url(#bl5)"/></g>
<g clip-path="url(#cpJ)"><path d="M255.0,970.0 L268.0,970.0 L268.0,1175.0 L255.0,1175.0 Z" fill="#90bd66" fill-opacity="0.6" filter="url(#bl3)"/></g>
<g clip-path="url(#cpJ)"><path d="M95.0,970.0 L140.0,970.0 L140.0,1175.0 L95.0,1175.0 Z" fill="#a8cd82" fill-opacity="0.5" filter="url(#bl9)"/></g>
<g clip-path="url(#cpJ)"><path d="M70.0,960.0 L75.5,960.0 L75.5,1180.0 L70.0,1180.0 Z" fill="#ffffff" fill-opacity="1"/></g>
<g clip-path="url(#cpJ)"><path d="M74.0,960.0 L79.0,960.0 L79.0,1180.0 L74.0,1180.0 Z" fill="#d8ead0" fill-opacity="0.8" filter="url(#bl3)"/></g>
<g clip-path="url(#cpJ)"><path d="M226.0,960.0 L252.0,960.0 L251.0,1000.0 L248.0,1045.0 L241.0,1095.0 L239.0,1095.0 L232.0,1045.0 L228.0,1000.0 Z" fill="#d8ebcb" fill-opacity="0.9" filter="url(#bl5)"/></g>
<g clip-path="url(#cpJ)"><path d="M236.0,1040.0 L245.0,1040.0 L243.0,1120.0 L237.0,1120.0 Z" fill="#c6e0b2" fill-opacity="0.8" filter="url(#bl5)"/></g>
<g clip-path="url(#cpJ)"><path d="M229.0,960.0 L249.0,960.0 L248.5,1000.0 L246.0,1040.0 L240.5,1080.0 L239.5,1080.0 L234.0,1040.0 L230.0,1000.0 Z" fill="#ffffff" fill-opacity="1" filter="url(#bl3)"/></g>
<path d="M80.8,975.0 L80.8,1170.0" fill="none" stroke="#1a1a1a" stroke-width="1.2" stroke-dasharray="4.5,4" stroke-linejoin="round" clip-path="url(#cpJ)"/>
<path d="M89.5,975.0 L89.5,1170.0" fill="none" stroke="#1a1a1a" stroke-width="1.2" stroke-dasharray="4.5,4" stroke-linejoin="round" clip-path="url(#cpJ)"/>
<path d="M195.4,975.0 L196.5,1000.0 L198.0,1029.8 L203.3,1035.0 L205.0,1043.8 L206.8,1087.5 L208.5,1122.5 L209.4,1170.0" fill="none" stroke="#1a1a1a" stroke-width="1.2" stroke-dasharray="4.5,4" stroke-linejoin="round" clip-path="url(#cpJ)"/>
<path d="M209.4,975.0 L210.0,1000.0 L210.3,1030.0" fill="none" stroke="#1a1a1a" stroke-width="1.2" stroke-dasharray="4.5,4" stroke-linejoin="round" clip-path="url(#cpJ)"/>
<path d="M213.8,975.0 L215.0,1000.0 L217.3,1035.0 L222.5,1043.8 L224.3,1061.2 L229.5,1105.0 L234.8,1127.8 L240.0,1135.6 L245.2,1127.8 L248.8,1105.0 L251.4,1070.0 L251.9,975.0" fill="none" stroke="#1a1a1a" stroke-width="1.2" stroke-dasharray="4.5,4" stroke-linejoin="round" clip-path="url(#cpJ)"/>
<path d="M260.1,975.0 L257.5,1056.0 L256.6,1170.0" fill="none" stroke="#1a1a1a" stroke-width="1.2" stroke-dasharray="4.5,4" stroke-linejoin="round" clip-path="url(#cpJ)"/>
<path d="M212.0,1136.5 L214.6,1170.0" fill="none" stroke="#1a1a1a" stroke-width="1.2" stroke-dasharray="4.5,4" stroke-linejoin="round" clip-path="url(#cpJ)"/>
<path d="M218.0,1035.0 L221.0,1055.0" fill="none" stroke="#1a1a1a" stroke-width="1.2" stroke-dasharray="4.5,4" stroke-linejoin="round" clip-path="url(#cpJ)"/>
<text x="163.2" y="1085.8" font-family='"Liberation Serif", serif' font-size="12" font-weight="bold" fill="#1a1a1a">|▲|&lt;0.4</text>
<rect x="69.5" y="973.5" width="197.5" height="197.0" fill="none" stroke="#000" stroke-width="2.6"/>
<line x1="94.4" y1="1170.5" x2="94.4" y2="1174.5" stroke="#000" stroke-width="1.8"/>
<text x="94.4" y="1189.0" font-family='"Liberation Serif", serif' font-size="13" font-weight="bold" text-anchor="middle" fill="#000">4</text>
<line x1="119.0" y1="1170.5" x2="119.0" y2="1174.5" stroke="#000" stroke-width="1.8"/>
<text x="119.0" y="1189.0" font-family='"Liberation Serif", serif' font-size="13" font-weight="bold" text-anchor="middle" fill="#000">6</text>
<line x1="143.6" y1="1170.5" x2="143.6" y2="1174.5" stroke="#000" stroke-width="1.8"/>
<text x="143.6" y="1189.0" font-family='"Liberation Serif", serif' font-size="13" font-weight="bold" text-anchor="middle" fill="#000">8</text>
<line x1="168.2" y1="1170.5" x2="168.2" y2="1174.5" stroke="#000" stroke-width="1.8"/>
<text x="168.2" y="1189.0" font-family='"Liberation Serif", serif' font-size="13" font-weight="bold" text-anchor="middle" fill="#000">10</text>
<line x1="192.9" y1="1170.5" x2="192.9" y2="1174.5" stroke="#000" stroke-width="1.8"/>
<text x="192.9" y="1189.0" font-family='"Liberation Serif", serif' font-size="13" font-weight="bold" text-anchor="middle" fill="#000">12</text>
<line x1="217.5" y1="1170.5" x2="217.5" y2="1174.5" stroke="#000" stroke-width="1.8"/>
<text x="217.5" y="1189.0" font-family='"Liberation Serif", serif' font-size="13" font-weight="bold" text-anchor="middle" fill="#000">14</text>
<line x1="242.1" y1="1170.5" x2="242.1" y2="1174.5" stroke="#000" stroke-width="1.8"/>
<text x="242.1" y="1189.0" font-family='"Liberation Serif", serif' font-size="13" font-weight="bold" text-anchor="middle" fill="#000">16</text>
<line x1="65.5" y1="1137.9" x2="69.5" y2="1137.9" stroke="#000" stroke-width="1.8"/>
<text x="62.5" y="1142.4" font-family='"Liberation Serif", serif' font-size="13" font-weight="bold" text-anchor="end" fill="#000">1.00</text>
<line x1="65.5" y1="1101.4" x2="69.5" y2="1101.4" stroke="#000" stroke-width="1.8"/>
<text x="62.5" y="1105.9" font-family='"Liberation Serif", serif' font-size="13" font-weight="bold" text-anchor="end" fill="#000">2.00</text>
<line x1="65.5" y1="1064.9" x2="69.5" y2="1064.9" stroke="#000" stroke-width="1.8"/>
<text x="62.5" y="1069.4" font-family='"Liberation Serif", serif' font-size="13" font-weight="bold" text-anchor="end" fill="#000">3.00</text>
<line x1="65.5" y1="1028.5" x2="69.5" y2="1028.5" stroke="#000" stroke-width="1.8"/>
<text x="62.5" y="1033.0" font-family='"Liberation Serif", serif' font-size="13" font-weight="bold" text-anchor="end" fill="#000">4.00</text>
<line x1="65.5" y1="992.0" x2="69.5" y2="992.0" stroke="#000" stroke-width="1.8"/>
<text x="62.5" y="996.5" font-family='"Liberation Serif", serif' font-size="13" font-weight="bold" text-anchor="end" fill="#000">5.00</text>
<text x="162.2" y="1207.0" font-family='"Liberation Serif", serif' font-size="17.4" font-weight="bold" text-anchor="middle" fill="#000">Frequency (GHz)</text>
<text x="34.5" y="1072.0" font-family='"Liberation Serif", serif' font-size="17.5" font-weight="bold" text-anchor="middle" fill="#000" transform="rotate(-90 34.5 1072.0)">Thickness (mm)</text>
<text x="35.8" y="973.0" font-family='"Liberation Serif", serif' font-size="36" font-weight="bold" text-anchor="middle" fill="#000">(j)</text>
<rect x="270" y="976.9" width="18.80000000000001" height="120.69999999999993" fill="url(#gCbar)"/>
<text x="296.0" y="979.9" font-family='"Liberation Serif", serif' font-size="9" font-weight="normal" text-anchor="start" fill="#1a1a1a">10. 1</text>
<text x="296.0" y="1010.1" font-family='"Liberation Serif", serif' font-size="9" font-weight="normal" text-anchor="start" fill="#1a1a1a">7. 6</text>
<text x="296.0" y="1040.2" font-family='"Liberation Serif", serif' font-size="9" font-weight="normal" text-anchor="start" fill="#1a1a1a">5. 0</text>
<text x="296.0" y="1070.4" font-family='"Liberation Serif", serif' font-size="9" font-weight="normal" text-anchor="start" fill="#1a1a1a">2. 5</text>
<text x="296.0" y="1100.6" font-family='"Liberation Serif", serif' font-size="9" font-weight="normal" text-anchor="start" fill="#1a1a1a">0. 0</text>
<rect x="365" y="973.5" width="198" height="196.5" fill="#b5d599"/>
<g clip-path="url(#cpK)"><path d="M417.0,970.0 L592.0,970.0 L592.0,1102.0 L551.5,1100.0 L527.0,1096.0 L509.5,1088.0 L492.0,1076.0 L478.0,1057.0 L457.0,1051.0 L443.0,1044.0 L437.8,1020.0 L429.0,985.0 Z" fill="#d6e9c6" fill-opacity="0.9" filter="url(#bl9)"/></g>
<g clip-path="url(#cpK)"><path d="M425.0,960.0 L600.0,960.0 L600.0,1092.0 L559.5,1090.0 L535.0,1086.0 L517.5,1078.0 L500.0,1066.0 L486.0,1047.0 L465.0,1041.0 L451.0,1034.0 L445.8,1010.0 L437.0,975.0 Z" fill="#ffffff" fill-opacity="1" filter="url(#bl5)"/></g>
<g clip-path="url(#cpK)"><path d="M430.0,955.0 L605.0,955.0 L605.0,1087.0 L564.5,1085.0 L540.0,1081.0 L522.5,1073.0 L505.0,1061.0 L491.0,1042.0 L470.0,1036.0 L456.0,1029.0 L450.8,1005.0 L442.0,970.0 Z" fill="#ffffff" fill-opacity="1"/></g>
<path d="M375.3,980.0 L382.0,1005.0 L388.7,1025.3 L402.0,1041.3 L415.3,1054.7 L420.7,1062.7 L425.0,1075.0 L428.7,1089.3 L439.3,1100.0 L452.7,1121.3 L463.3,1122.7 L474.0,1117.3 L482.0,1121.3 L490.0,1118.7 L506.0,1128.0 L524.7,1130.7 L543.3,1132.0 L562.0,1132.0" fill="none" stroke="#1a1a1a" stroke-width="1.2" stroke-dasharray="4.5,4" stroke-linejoin="round" clip-path="url(#cpK)"/>
<path d="M366.0,1136.0 L370.0,1148.0 L378.0,1150.7 L380.7,1164.0" fill="none" stroke="#1a1a1a" stroke-width="1.2" stroke-dasharray="4.5,4" stroke-linejoin="round" clip-path="url(#cpK)"/>
<path d="M487.3,1170.0 L495.3,1154.7 L511.3,1152.0 L530.0,1150.7 L546.0,1153.3 L562.0,1150.0" fill="none" stroke="#1a1a1a" stroke-width="1.2" stroke-dasharray="4.5,4" stroke-linejoin="round" clip-path="url(#cpK)"/>
<text x="401.8" y="1083.0" font-family='"Liberation Serif", serif' font-size="12" font-weight="bold" fill="#1a1a1a">|▲|&lt;0.4</text>
<rect x="365" y="973.5" width="198" height="196.5" fill="none" stroke="#000" stroke-width="2.6"/>
<line x1="390.0" y1="1170" x2="390.0" y2="1174" stroke="#000" stroke-width="1.8"/>
<text x="390.0" y="1189.0" font-family='"Liberation Serif", serif' font-size="13" font-weight="bold" text-anchor="middle" fill="#000">4</text>
<line x1="414.7" y1="1170" x2="414.7" y2="1174" stroke="#000" stroke-width="1.8"/>
<text x="414.7" y="1189.0" font-family='"Liberation Serif", serif' font-size="13" font-weight="bold" text-anchor="middle" fill="#000">6</text>
<line x1="439.3" y1="1170" x2="439.3" y2="1174" stroke="#000" stroke-width="1.8"/>
<text x="439.3" y="1189.0" font-family='"Liberation Serif", serif' font-size="13" font-weight="bold" text-anchor="middle" fill="#000">8</text>
<line x1="464.0" y1="1170" x2="464.0" y2="1174" stroke="#000" stroke-width="1.8"/>
<text x="464.0" y="1189.0" font-family='"Liberation Serif", serif' font-size="13" font-weight="bold" text-anchor="middle" fill="#000">10</text>
<line x1="488.7" y1="1170" x2="488.7" y2="1174" stroke="#000" stroke-width="1.8"/>
<text x="488.7" y="1189.0" font-family='"Liberation Serif", serif' font-size="13" font-weight="bold" text-anchor="middle" fill="#000">12</text>
<line x1="513.4" y1="1170" x2="513.4" y2="1174" stroke="#000" stroke-width="1.8"/>
<text x="513.4" y="1189.0" font-family='"Liberation Serif", serif' font-size="13" font-weight="bold" text-anchor="middle" fill="#000">14</text>
<line x1="538.0" y1="1170" x2="538.0" y2="1174" stroke="#000" stroke-width="1.8"/>
<text x="538.0" y="1189.0" font-family='"Liberation Serif", serif' font-size="13" font-weight="bold" text-anchor="middle" fill="#000">16</text>
<line x1="361" y1="1137.9" x2="365" y2="1137.9" stroke="#000" stroke-width="1.8"/>
<text x="358.0" y="1142.4" font-family='"Liberation Serif", serif' font-size="13" font-weight="bold" text-anchor="end" fill="#000">1.00</text>
<line x1="361" y1="1101.4" x2="365" y2="1101.4" stroke="#000" stroke-width="1.8"/>
<text x="358.0" y="1105.9" font-family='"Liberation Serif", serif' font-size="13" font-weight="bold" text-anchor="end" fill="#000">2.00</text>
<line x1="361" y1="1064.9" x2="365" y2="1064.9" stroke="#000" stroke-width="1.8"/>
<text x="358.0" y="1069.4" font-family='"Liberation Serif", serif' font-size="13" font-weight="bold" text-anchor="end" fill="#000">3.00</text>
<line x1="361" y1="1028.5" x2="365" y2="1028.5" stroke="#000" stroke-width="1.8"/>
<text x="358.0" y="1033.0" font-family='"Liberation Serif", serif' font-size="13" font-weight="bold" text-anchor="end" fill="#000">4.00</text>
<line x1="361" y1="992.0" x2="365" y2="992.0" stroke="#000" stroke-width="1.8"/>
<text x="358.0" y="996.5" font-family='"Liberation Serif", serif' font-size="13" font-weight="bold" text-anchor="end" fill="#000">5.00</text>
<text x="458.0" y="1207.0" font-family='"Liberation Serif", serif' font-size="17.4" font-weight="bold" text-anchor="middle" fill="#000">Frequency (GHz)</text>
<text x="330.0" y="1071.8" font-family='"Liberation Serif", serif' font-size="17.5" font-weight="bold" text-anchor="middle" fill="#000" transform="rotate(-90 330 1071.75)">Thickness (mm)</text>
<text x="340.5" y="972.7" font-family='"Liberation Serif", serif' font-size="36" font-weight="bold" text-anchor="middle" fill="#000">(k)</text>
<rect x="565.5" y="978.7" width="24.200000000000045" height="120.09999999999991" fill="url(#gCbar)"/>
<text x="597.0" y="981.7" font-family='"Liberation Serif", serif' font-size="8.5" font-weight="bold" text-anchor="start" fill="#222">10.1</text>
<text x="597.0" y="1011.7" font-family='"Liberation Serif", serif' font-size="8.5" font-weight="bold" text-anchor="start" fill="#222">7.6</text>
<text x="597.0" y="1041.8" font-family='"Liberation Serif", serif' font-size="8.5" font-weight="bold" text-anchor="start" fill="#222">5.0</text>
<text x="597.0" y="1071.8" font-family='"Liberation Serif", serif' font-size="8.5" font-weight="bold" text-anchor="start" fill="#222">2.5</text>
<text x="597.0" y="1101.8" font-family='"Liberation Serif", serif' font-size="8.5" font-weight="bold" text-anchor="start" fill="#222">0.0</text>
<line x1="316.5" y1="971" x2="316.5" y2="1213" stroke="#c8c8c8" stroke-width="1"/>
<rect x="660.5" y="973.5" width="194.5" height="196.0" fill="#a0c878"/>
<g clip-path="url(#cpL)"><path d="M720.0,1000.0 L830.0,1000.0 L830.0,1120.0 L720.0,1120.0 Z" fill="#96c26e" fill-opacity="0.7" filter="url(#bl14)"/></g>
<g clip-path="url(#cpL)"><path d="M660.0,970.0 L700.0,970.0 L700.0,1175.0 L660.0,1175.0 Z" fill="#a8cc86" fill-opacity="0.6" filter="url(#bl9)"/></g>
<rect x="660.5" y="973.5" width="194.5" height="196.0" fill="url(#gCornerL)" clip-path="url(#cpL)"/>
<path d="M691.8,975.5 L695.2,1000.0 L698.8,1017.5 L707.5,1043.8 L714.5,1044.6 L725.0,1050.8 L735.5,1064.8 L746.0,1080.5 L760.0,1087.5 L771.4,1092.8 L784.5,1084.0 L793.2,1073.5 L809.0,1064.8 L814.2,1066.5 L824.8,1061.2 L831.8,1070.0 L838.8,1066.5 L847.5,1080.5" fill="none" stroke="#1a1a1a" stroke-width="1.2" stroke-dasharray="4.5,4" stroke-linejoin="round" clip-path="url(#cpL)"/>
<path d="M702.2,975.5 L709.2,975.5 L725.0,984.2 L732.0,996.5 L739.0,1012.2 L749.5,1029.8 L760.0,1038.5 L774.0,1047.2 L784.5,1042.9 L793.2,1037.6 L805.5,1035.9 L812.0,1038.0" fill="none" stroke="#1a1a1a" stroke-width="1.2" stroke-dasharray="4.5,4" stroke-linejoin="round" clip-path="url(#cpL)"/>
<path d="M834.0,1042.0 L840.5,1047.2 L847.5,1055.0 L855.0,1056.0" fill="none" stroke="#1a1a1a" stroke-width="1.2" stroke-dasharray="4.5,4" stroke-linejoin="round" clip-path="url(#cpL)"/>
<text x="688.0" y="1008.0" font-family='"Liberation Serif", serif' font-size="10" font-weight="normal" text-anchor="start" fill="#222">0. 4</text>
<text x="813.0" y="1042.5" font-family='"Liberation Serif", serif' font-size="10" font-weight="normal" text-anchor="start" fill="#222">-0. 4</text>
<text x="697.0" y="1082.8" font-family='"Liberation Serif", serif' font-size="12" font-weight="bold" fill="#1a1a1a">|▲|&lt;0.4</text>
<rect x="660.5" y="973.5" width="194.5" height="196.0" fill="none" stroke="#000" stroke-width="2.6"/>
<line x1="685.0" y1="1169.5" x2="685.0" y2="1173.5" stroke="#000" stroke-width="1.8"/>
<text x="685.0" y="1189.0" font-family='"Liberation Serif", serif' font-size="13" font-weight="bold" text-anchor="middle" fill="#000">4</text>
<line x1="709.3" y1="1169.5" x2="709.3" y2="1173.5" stroke="#000" stroke-width="1.8"/>
<text x="709.3" y="1189.0" font-family='"Liberation Serif", serif' font-size="13" font-weight="bold" text-anchor="middle" fill="#000">6</text>
<line x1="733.5" y1="1169.5" x2="733.5" y2="1173.5" stroke="#000" stroke-width="1.8"/>
<text x="733.5" y="1189.0" font-family='"Liberation Serif", serif' font-size="13" font-weight="bold" text-anchor="middle" fill="#000">8</text>
<line x1="757.8" y1="1169.5" x2="757.8" y2="1173.5" stroke="#000" stroke-width="1.8"/>
<text x="757.8" y="1189.0" font-family='"Liberation Serif", serif' font-size="13" font-weight="bold" text-anchor="middle" fill="#000">10</text>
<line x1="782.0" y1="1169.5" x2="782.0" y2="1173.5" stroke="#000" stroke-width="1.8"/>
<text x="782.0" y="1189.0" font-family='"Liberation Serif", serif' font-size="13" font-weight="bold" text-anchor="middle" fill="#000">12</text>
<line x1="806.2" y1="1169.5" x2="806.2" y2="1173.5" stroke="#000" stroke-width="1.8"/>
<text x="806.2" y="1189.0" font-family='"Liberation Serif", serif' font-size="13" font-weight="bold" text-anchor="middle" fill="#000">14</text>
<line x1="830.5" y1="1169.5" x2="830.5" y2="1173.5" stroke="#000" stroke-width="1.8"/>
<text x="830.5" y="1189.0" font-family='"Liberation Serif", serif' font-size="13" font-weight="bold" text-anchor="middle" fill="#000">16</text>
<line x1="656.5" y1="1137.9" x2="660.5" y2="1137.9" stroke="#000" stroke-width="1.8"/>
<text x="653.5" y="1142.4" font-family='"Liberation Serif", serif' font-size="13" font-weight="bold" text-anchor="end" fill="#000">1.00</text>
<line x1="656.5" y1="1101.4" x2="660.5" y2="1101.4" stroke="#000" stroke-width="1.8"/>
<text x="653.5" y="1105.9" font-family='"Liberation Serif", serif' font-size="13" font-weight="bold" text-anchor="end" fill="#000">2.00</text>
<line x1="656.5" y1="1064.9" x2="660.5" y2="1064.9" stroke="#000" stroke-width="1.8"/>
<text x="653.5" y="1069.4" font-family='"Liberation Serif", serif' font-size="13" font-weight="bold" text-anchor="end" fill="#000">3.00</text>
<line x1="656.5" y1="1028.5" x2="660.5" y2="1028.5" stroke="#000" stroke-width="1.8"/>
<text x="653.5" y="1033.0" font-family='"Liberation Serif", serif' font-size="13" font-weight="bold" text-anchor="end" fill="#000">4.00</text>
<line x1="656.5" y1="992.0" x2="660.5" y2="992.0" stroke="#000" stroke-width="1.8"/>
<text x="653.5" y="996.5" font-family='"Liberation Serif", serif' font-size="13" font-weight="bold" text-anchor="end" fill="#000">5.00</text>
<text x="751.8" y="1207.0" font-family='"Liberation Serif", serif' font-size="17.4" font-weight="bold" text-anchor="middle" fill="#000">Frequency (GHz)</text>
<text x="625.5" y="1071.5" font-family='"Liberation Serif", serif' font-size="17.5" font-weight="bold" text-anchor="middle" fill="#000" transform="rotate(-90 625.5 1071.5)">Thickness (mm)</text>
<text x="626.2" y="977.5" font-family='"Liberation Serif", serif' font-size="36" font-weight="bold" text-anchor="middle" fill="#000">(l)</text>
<rect x="858.8" y="978.7" width="19.200000000000045" height="119.20000000000005" fill="url(#gCbar)"/>
<line x1="858.8" y1="1097.9" x2="878" y2="1097.9" stroke="#6a7ae0" stroke-width="1.2"/>
<text x="885.0" y="981.7" font-family='"Liberation Serif", serif' font-size="9" font-weight="normal" text-anchor="start" fill="#1a1a1a">10. 1</text>
<text x="885.0" y="1011.5" font-family='"Liberation Serif", serif' font-size="9" font-weight="normal" text-anchor="start" fill="#1a1a1a">7. 6</text>
<text x="885.0" y="1041.3" font-family='"Liberation Serif", serif' font-size="9" font-weight="normal" text-anchor="start" fill="#1a1a1a">5. 0</text>
<text x="885.0" y="1071.1" font-family='"Liberation Serif", serif' font-size="9" font-weight="normal" text-anchor="start" fill="#1a1a1a">2. 5</text>
<text x="885.0" y="1100.9" font-family='"Liberation Serif", serif' font-size="9" font-weight="normal" text-anchor="start" fill="#1a1a1a">0. 0</text>
<line x1="612.7" y1="971" x2="612.7" y2="1213" stroke="#c8c8c8" stroke-width="1"/>
<rect x="951.5" y="973.5" width="196.0" height="196.0" fill="#a0c878"/>
<rect x="1045" y="974" width="32" height="70" fill="url(#gBandM)" filter="url(#bl3)" clip-path="url(#cpM)"/>
<g clip-path="url(#cpM)"><path d="M1069.5,969.0 L1155.0,969.0 L1155.0,1070.0 L1141.2,1070.2 L1132.5,1080.8 L1125.5,1082.5 L1118.5,1072.0 L1111.5,1068.5 L1102.8,1066.8 L1092.3,1068.5 L1085.2,1066.8 L1081.8,1044.0 L1078.2,1017.8 L1073.0,1000.2 Z" fill="#cfe5bf" fill-opacity="0.85" filter="url(#bl5)"/></g>
<g clip-path="url(#cpM)"><path d="M1074.5,960.0 L1160.0,960.0 L1160.0,1061.0 L1146.2,1061.2 L1137.5,1071.8 L1130.5,1073.5 L1123.5,1063.0 L1116.5,1059.5 L1107.8,1057.8 L1097.3,1059.5 L1090.2,1057.8 L1086.8,1035.0 L1083.2,1008.8 L1078.0,991.2 Z" fill="#ffffff" fill-opacity="1" filter="url(#bl3)"/></g>
<g clip-path="url(#cpM)"><path d="M1100.5,1066.0 L1102.5,1042.0 L1104.2,1036.0 L1106.0,1042.0 L1108.0,1066.0 Z" fill="#a6ca80" fill-opacity="1" filter="url(#bl15)"/></g>
<g clip-path="url(#cpM)"><path d="M1116.5,1066.0 L1118.5,1045.0 L1120.0,1040.0 L1121.5,1045.0 L1123.5,1066.0 Z" fill="#a6ca80" fill-opacity="1" filter="url(#bl15)"/></g>
<path d="M970.4,975.5 L973.0,1000.0 L978.2,1031.5 L983.5,1056.0 L988.8,1075.2 L995.8,1078.8 L1001.0,1087.5 L1008.0,1085.8 L1015.0,1098.0 L1020.2,1103.2 L1027.2,1119.0 L1034.2,1136.5 L1039.5,1168.0" fill="none" stroke="#1a1a1a" stroke-width="1.2" stroke-dasharray="4.5,4" stroke-linejoin="round" clip-path="url(#cpM)"/>
<path d="M1030.8,975.5 L1039.5,996.5 L1044.8,1035.0 L1053.5,1047.2 L1060.5,1066.5 L1069.2,1070.0 L1074.5,1087.5 L1080.0,1103.2 L1086.8,1117.2 L1093.8,1127.8 L1100.8,1126.0 L1106.0,1119.0 L1111.2,1122.5 L1120.0,1105.0 L1127.0,1120.8 L1134.0,1113.8 L1139.2,1115.5 L1146.2,1094.5" fill="none" stroke="#1a1a1a" stroke-width="1.2" stroke-dasharray="4.5,4" stroke-linejoin="round" clip-path="url(#cpM)"/>
<path d="M1111.2,1168.0 L1118.2,1127.8 L1127.0,1136.5 L1134.0,1122.5 L1139.2,1129.5 L1146.2,1115.5" fill="none" stroke="#1a1a1a" stroke-width="1.2" stroke-dasharray="4.5,4" stroke-linejoin="round" clip-path="url(#cpM)"/>
<path d="M1039.5,1168.0 L1046.0,1168.0" fill="none" stroke="#1a1a1a" stroke-width="1.2" stroke-dasharray="4.5,4" stroke-linejoin="round" clip-path="url(#cpM)"/>
<text x="1003.0" y="1042.8" font-family='"Liberation Serif", serif' font-size="12" font-weight="bold" fill="#1a1a1a">|▲|&lt;0.4</text>
<rect x="951.5" y="973.5" width="196.0" height="196.0" fill="none" stroke="#000" stroke-width="2.6"/>
<line x1="976.2" y1="1169.5" x2="976.2" y2="1173.5" stroke="#000" stroke-width="1.8"/>
<text x="976.2" y="1189.0" font-family='"Liberation Serif", serif' font-size="13" font-weight="bold" text-anchor="middle" fill="#000">4</text>
<line x1="1000.6" y1="1169.5" x2="1000.6" y2="1173.5" stroke="#000" stroke-width="1.8"/>
<text x="1000.6" y="1189.0" font-family='"Liberation Serif", serif' font-size="13" font-weight="bold" text-anchor="middle" fill="#000">6</text>
<line x1="1025.1" y1="1169.5" x2="1025.1" y2="1173.5" stroke="#000" stroke-width="1.8"/>
<text x="1025.1" y="1189.0" font-family='"Liberation Serif", serif' font-size="13" font-weight="bold" text-anchor="middle" fill="#000">8</text>
<line x1="1049.5" y1="1169.5" x2="1049.5" y2="1173.5" stroke="#000" stroke-width="1.8"/>
<text x="1049.5" y="1189.0" font-family='"Liberation Serif", serif' font-size="13" font-weight="bold" text-anchor="middle" fill="#000">10</text>
<line x1="1073.9" y1="1169.5" x2="1073.9" y2="1173.5" stroke="#000" stroke-width="1.8"/>
<text x="1073.9" y="1189.0" font-family='"Liberation Serif", serif' font-size="13" font-weight="bold" text-anchor="middle" fill="#000">12</text>
<line x1="1098.3" y1="1169.5" x2="1098.3" y2="1173.5" stroke="#000" stroke-width="1.8"/>
<text x="1098.3" y="1189.0" font-family='"Liberation Serif", serif' font-size="13" font-weight="bold" text-anchor="middle" fill="#000">14</text>
<line x1="1122.8" y1="1169.5" x2="1122.8" y2="1173.5" stroke="#000" stroke-width="1.8"/>
<text x="1122.8" y="1189.0" font-family='"Liberation Serif", serif' font-size="13" font-weight="bold" text-anchor="middle" fill="#000">16</text>
<line x1="947.5" y1="1137.9" x2="951.5" y2="1137.9" stroke="#000" stroke-width="1.8"/>
<text x="944.5" y="1142.4" font-family='"Liberation Serif", serif' font-size="13" font-weight="bold" text-anchor="end" fill="#000">1.00</text>
<line x1="947.5" y1="1101.4" x2="951.5" y2="1101.4" stroke="#000" stroke-width="1.8"/>
<text x="944.5" y="1105.9" font-family='"Liberation Serif", serif' font-size="13" font-weight="bold" text-anchor="end" fill="#000">2.00</text>
<line x1="947.5" y1="1064.9" x2="951.5" y2="1064.9" stroke="#000" stroke-width="1.8"/>
<text x="944.5" y="1069.4" font-family='"Liberation Serif", serif' font-size="13" font-weight="bold" text-anchor="end" fill="#000">3.00</text>
<line x1="947.5" y1="1028.5" x2="951.5" y2="1028.5" stroke="#000" stroke-width="1.8"/>
<text x="944.5" y="1033.0" font-family='"Liberation Serif", serif' font-size="13" font-weight="bold" text-anchor="end" fill="#000">4.00</text>
<line x1="947.5" y1="992.0" x2="951.5" y2="992.0" stroke="#000" stroke-width="1.8"/>
<text x="944.5" y="996.5" font-family='"Liberation Serif", serif' font-size="13" font-weight="bold" text-anchor="end" fill="#000">5.00</text>
<text x="1043.5" y="1207.0" font-family='"Liberation Serif", serif' font-size="17.4" font-weight="bold" text-anchor="middle" fill="#000">Frequency (GHz)</text>
<text x="916.5" y="1071.5" font-family='"Liberation Serif", serif' font-size="17.5" font-weight="bold" text-anchor="middle" fill="#000" transform="rotate(-90 916.5 1071.5)">Thickness (mm)</text>
<text x="923.8" y="977.5" font-family='"Liberation Serif", serif' font-size="36" font-weight="bold" text-anchor="middle" fill="#000">(m)</text>
<rect x="1149.9" y="976" width="19.399999999999864" height="120" fill="url(#gCbar)"/>
<line x1="1149.9" y1="1096" x2="1169.3" y2="1096" stroke="#6a7ae0" stroke-width="1.2"/>
<text x="1176.0" y="979.0" font-family='"Liberation Serif", serif' font-size="9" font-weight="normal" text-anchor="start" fill="#1a1a1a">10. 1</text>
<text x="1176.0" y="1009.0" font-family='"Liberation Serif", serif' font-size="9" font-weight="normal" text-anchor="start" fill="#1a1a1a">7. 6</text>
<text x="1176.0" y="1039.0" font-family='"Liberation Serif", serif' font-size="9" font-weight="normal" text-anchor="start" fill="#1a1a1a">5. 0</text>
<text x="1176.0" y="1069.0" font-family='"Liberation Serif", serif' font-size="9" font-weight="normal" text-anchor="start" fill="#1a1a1a">2. 5</text>
<text x="1176.0" y="1099.0" font-family='"Liberation Serif", serif' font-size="9" font-weight="normal" text-anchor="start" fill="#1a1a1a">0. 0</text>
<line x1="903.5" y1="971" x2="903.5" y2="1213" stroke="#c8c8c8" stroke-width="1"/>
</svg></body></html>
